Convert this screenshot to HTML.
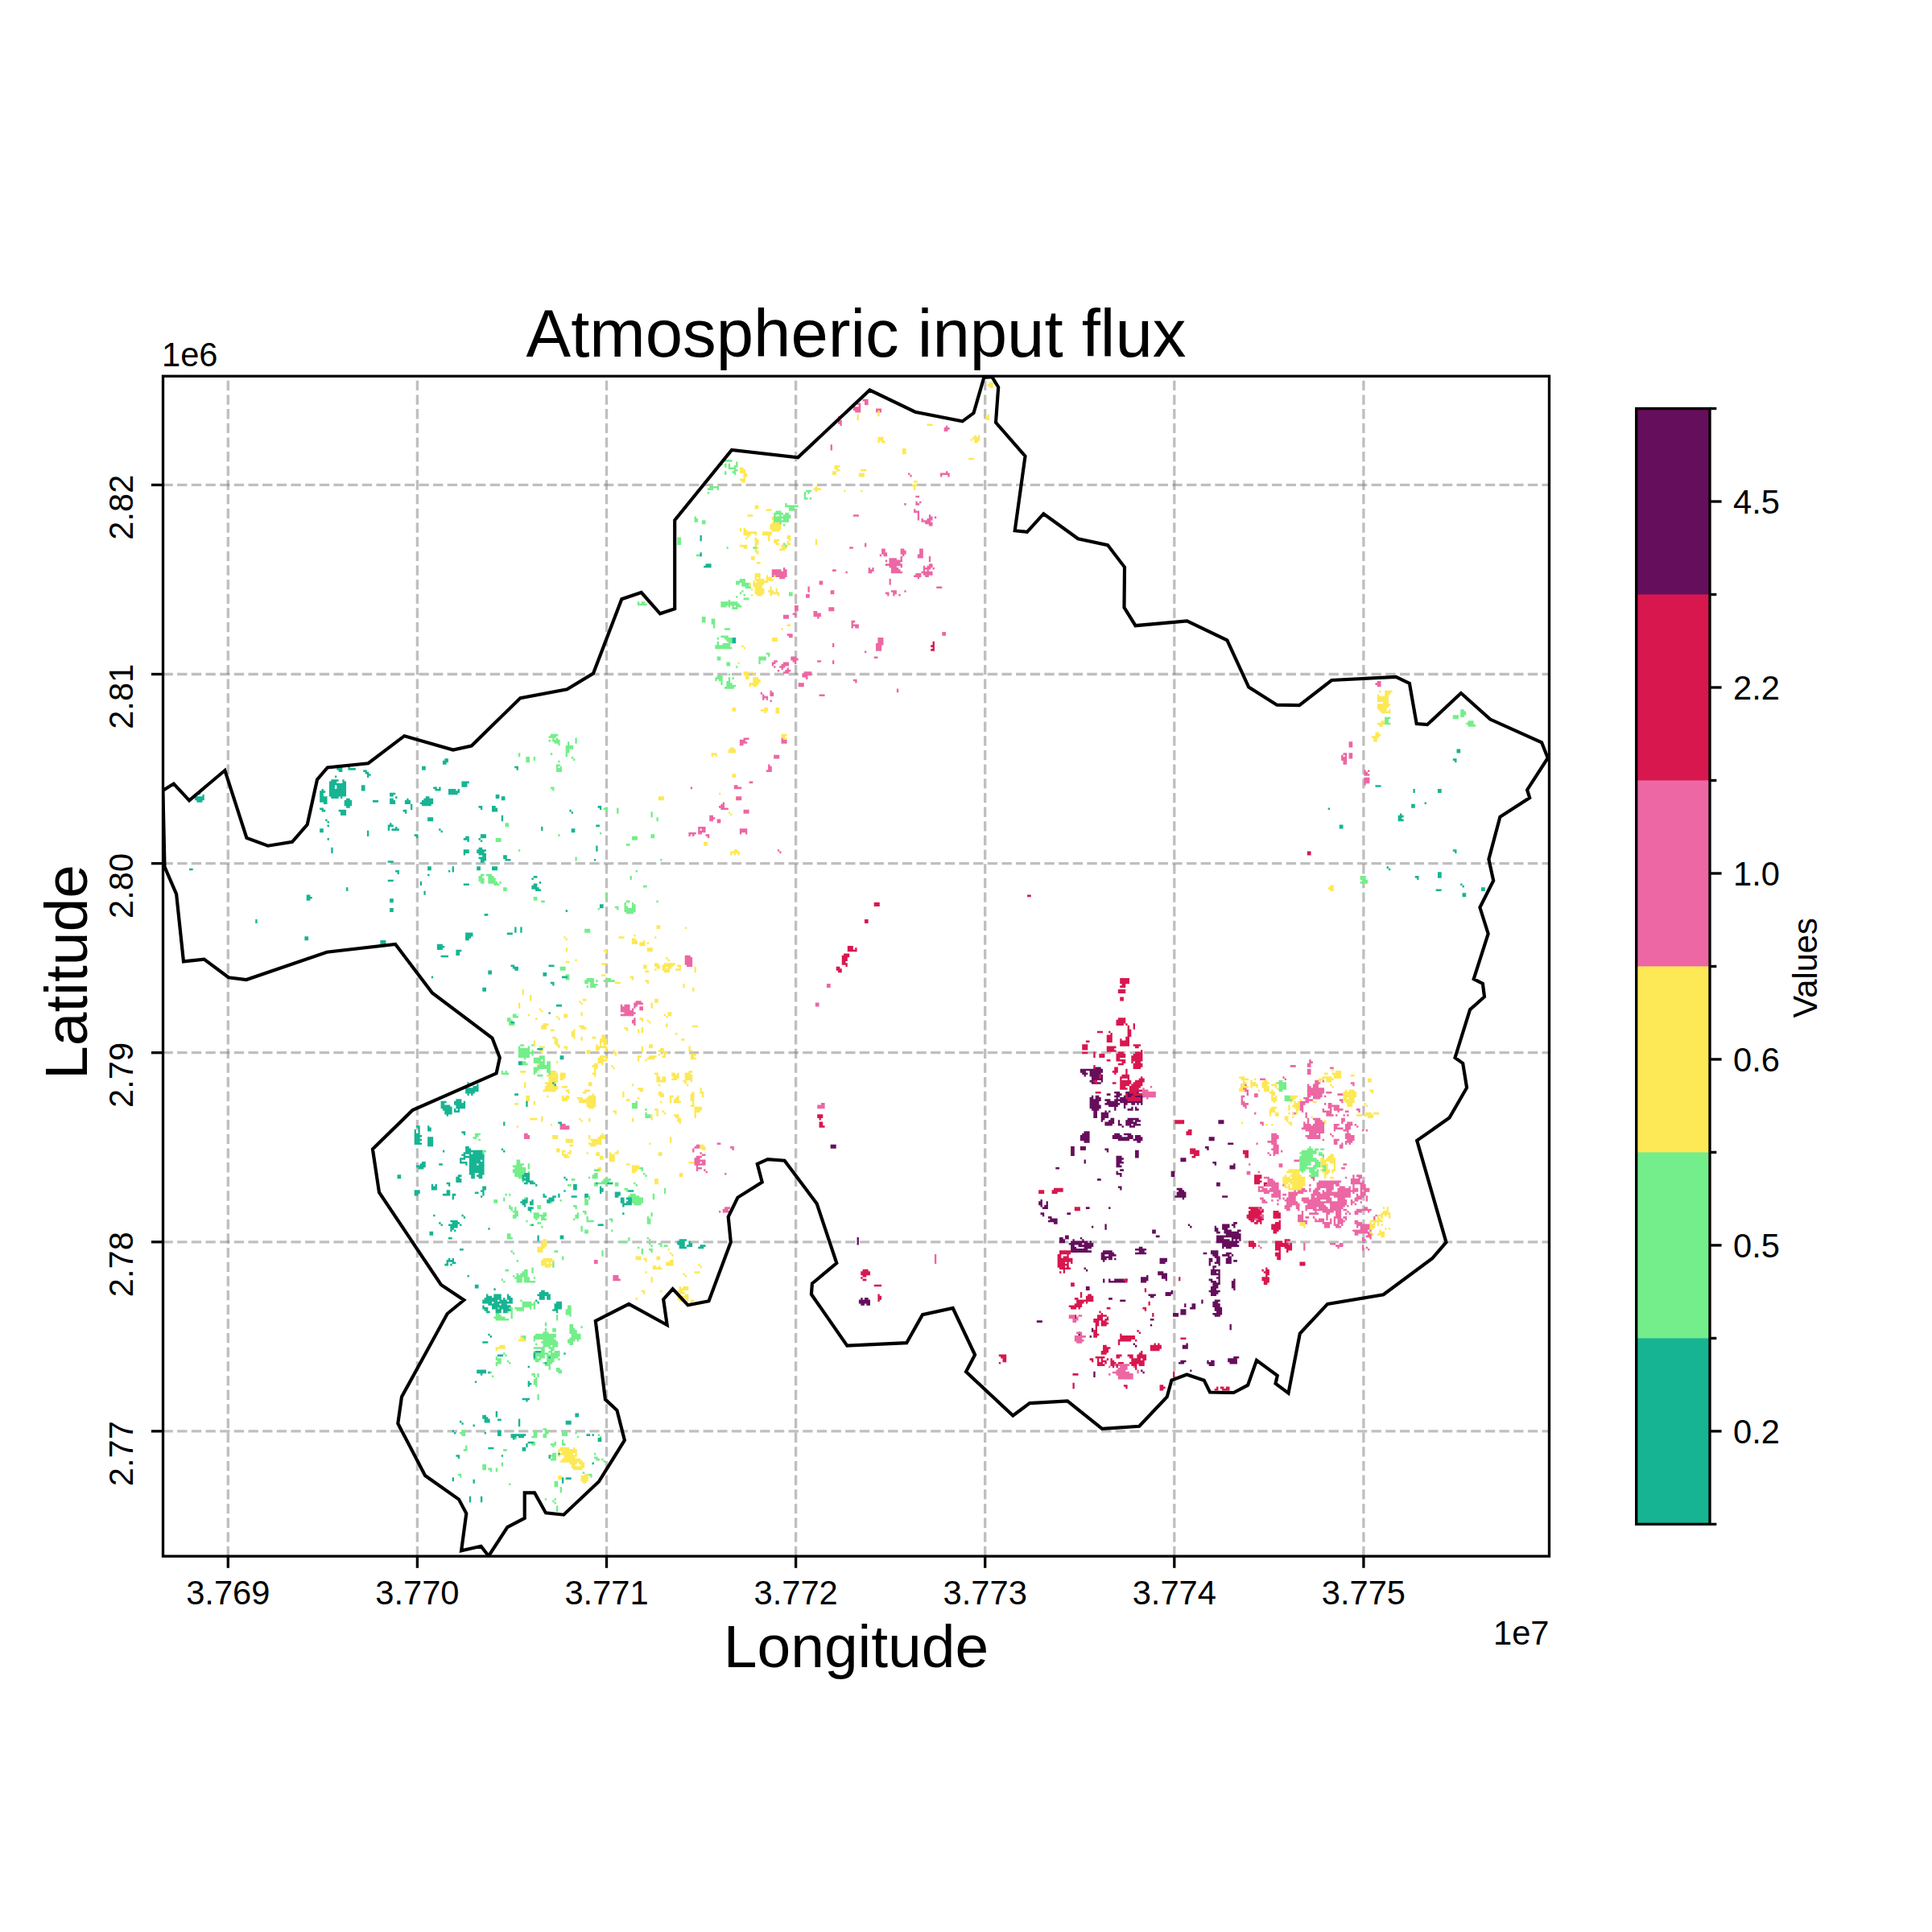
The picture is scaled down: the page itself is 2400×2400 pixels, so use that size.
<!DOCTYPE html><html><head><meta charset="utf-8"><style>html,body{margin:0;padding:0;background:#fff;width:2400px;height:2400px;overflow:hidden}svg{display:block}text{font-family:"Liberation Sans",sans-serif;fill:#000}</style></head><body>
<svg width="2400" height="2400" viewBox="0 0 2400 2400">
<rect width="2400" height="2400" fill="#fff"/>
<g stroke="#808080" stroke-opacity="0.5" stroke-width="3.33" stroke-dasharray="12.33 5.33" fill="none"><line x1="283.3" y1="1933.2" x2="283.3" y2="467.3"/><line x1="518.4" y1="1933.2" x2="518.4" y2="467.3"/><line x1="753.5" y1="1933.2" x2="753.5" y2="467.3"/><line x1="988.5999999999999" y1="1933.2" x2="988.5999999999999" y2="467.3"/><line x1="1223.7" y1="1933.2" x2="1223.7" y2="467.3"/><line x1="1458.8" y1="1933.2" x2="1458.8" y2="467.3"/><line x1="1693.8999999999999" y1="1933.2" x2="1693.8999999999999" y2="467.3"/><line x1="202.5" y1="602.4" x2="1924.5" y2="602.4"/><line x1="202.5" y1="837.5" x2="1924.5" y2="837.5"/><line x1="202.5" y1="1072.6" x2="1924.5" y2="1072.6"/><line x1="202.5" y1="1307.6999999999998" x2="1924.5" y2="1307.6999999999998"/><line x1="202.5" y1="1542.8" x2="1924.5" y2="1542.8"/><line x1="202.5" y1="1777.9" x2="1924.5" y2="1777.9"/></g>
<path fill="#650e5c" d="M1358.30 1325.40h9.40v2.6h-9.40zM1341.85 1327.75h28.20v2.6h-28.20zM1341.85 1330.10h7.05v2.6h-7.05zM1353.60 1330.10h16.45v2.6h-16.45zM1344.20 1332.45h7.05v2.6h-7.05zM1353.60 1332.45h14.10v2.6h-14.10zM1346.55 1334.80h2.35v2.6h-2.35zM1353.60 1334.80h16.45v2.6h-16.45zM1355.95 1337.15h14.10v2.6h-14.10zM1355.95 1339.50h14.10v2.6h-14.10zM1353.60 1341.85h9.40v2.6h-9.40zM1367.70 1341.85h2.35v2.6h-2.35zM1355.95 1344.20h11.75v2.6h-11.75zM1384.15 1355.95h7.05v2.6h-7.05zM1398.25 1355.95h16.45v2.6h-16.45zM1374.75 1358.30h4.70v2.6h-4.70zM1386.50 1358.30h7.05v2.6h-7.05zM1398.25 1358.30h21.15v2.6h-21.15zM1355.95 1360.65h2.35v2.6h-2.35zM1360.65 1360.65h4.70v2.6h-4.70zM1384.15 1360.65h7.05v2.6h-7.05zM1395.90 1360.65h25.85v2.6h-25.85zM1353.60 1363.00h4.70v2.6h-4.70zM1360.65 1363.00h7.05v2.6h-7.05zM1386.50 1363.00h2.35v2.6h-2.35zM1391.20 1363.00h18.80v2.6h-18.80zM1412.35 1363.00h7.05v2.6h-7.05zM1353.60 1365.35h14.10v2.6h-14.10zM1372.40 1365.35h7.05v2.6h-7.05zM1384.15 1365.35h35.25v2.6h-35.25zM1353.60 1367.70h11.75v2.6h-11.75zM1374.75 1367.70h14.10v2.6h-14.10zM1391.20 1367.70h28.20v2.6h-28.20zM1353.60 1370.05h11.75v2.6h-11.75zM1372.40 1370.05h18.80v2.6h-18.80zM1395.90 1370.05h4.70v2.6h-4.70zM1405.30 1370.05h4.70v2.6h-4.70zM1412.35 1370.05h2.35v2.6h-2.35zM1417.05 1370.05h2.35v2.6h-2.35zM1353.60 1372.40h14.10v2.6h-14.10zM1377.10 1372.40h11.75v2.6h-11.75zM1395.90 1372.40h2.35v2.6h-2.35zM1353.60 1374.75h14.10v2.6h-14.10zM1384.15 1374.75h2.35v2.6h-2.35zM1395.90 1374.75h2.35v2.6h-2.35zM1405.30 1374.75h2.35v2.6h-2.35zM1410.00 1374.75h2.35v2.6h-2.35zM1355.95 1377.10h9.40v2.6h-9.40zM1384.15 1377.10h2.35v2.6h-2.35zM1400.60 1377.10h7.05v2.6h-7.05zM1410.00 1377.10h4.70v2.6h-4.70zM1358.30 1379.45h4.70v2.6h-4.70zM1372.40 1379.45h2.35v2.6h-2.35zM1377.10 1379.45h2.35v2.6h-2.35zM1358.30 1381.80h4.70v2.6h-4.70zM1367.70 1381.80h9.40v2.6h-9.40zM1358.30 1384.15h4.70v2.6h-4.70zM1367.70 1384.15h9.40v2.6h-9.40zM1358.30 1386.50h4.70v2.6h-4.70zM1367.70 1386.50h9.40v2.6h-9.40zM1367.70 1388.85h4.70v2.6h-4.70zM1379.45 1388.85h4.70v2.6h-4.70zM1400.60 1388.85h14.10v2.6h-14.10zM1367.70 1391.20h2.35v2.6h-2.35zM1377.10 1391.20h7.05v2.6h-7.05zM1388.85 1391.20h2.35v2.6h-2.35zM1398.25 1391.20h9.40v2.6h-9.40zM1410.00 1391.20h7.05v2.6h-7.05zM1513.40 1391.20h7.05v2.6h-7.05zM1372.40 1393.55h11.75v2.6h-11.75zM1388.85 1393.55h2.35v2.6h-2.35zM1398.25 1393.55h14.10v2.6h-14.10zM1513.40 1393.55h7.05v2.6h-7.05zM1372.40 1395.90h9.40v2.6h-9.40zM1388.85 1395.90h4.70v2.6h-4.70zM1398.25 1395.90h7.05v2.6h-7.05zM1407.65 1395.90h9.40v2.6h-9.40zM1393.55 1398.25h2.35v2.6h-2.35zM1402.95 1398.25h7.05v2.6h-7.05zM1346.55 1405.30h7.05v2.6h-7.05zM1344.20 1407.65h9.40v2.6h-9.40zM1384.15 1407.65h7.05v2.6h-7.05zM1395.90 1407.65h9.40v2.6h-9.40zM1341.85 1410.00h11.75v2.6h-11.75zM1381.80 1410.00h11.75v2.6h-11.75zM1400.60 1410.00h7.05v2.6h-7.05zM1410.00 1410.00h7.05v2.6h-7.05zM1341.85 1412.35h11.75v2.6h-11.75zM1381.80 1412.35h25.85v2.6h-25.85zM1410.00 1412.35h9.40v2.6h-9.40zM1501.65 1412.35h7.05v2.6h-7.05zM1341.85 1414.70h11.75v2.6h-11.75zM1388.85 1414.70h14.10v2.6h-14.10zM1407.65 1414.70h11.75v2.6h-11.75zM1501.65 1414.70h7.05v2.6h-7.05zM1346.55 1417.05h7.05v2.6h-7.05zM1412.35 1417.05h4.70v2.6h-4.70zM1525.15 1419.40h7.05v2.6h-7.05zM1031.65 1421.75h7.05v2.6h-7.05zM1031.65 1424.10h7.05v2.6h-7.05zM1330.10 1424.10h4.70v2.6h-4.70zM1341.85 1424.10h7.05v2.6h-7.05zM1496.95 1424.10h4.70v2.6h-4.70zM1330.10 1426.45h4.70v2.6h-4.70zM1341.85 1426.45h7.05v2.6h-7.05zM1372.40 1426.45h4.70v2.6h-4.70zM1499.30 1426.45h2.35v2.6h-2.35zM1330.10 1428.80h4.70v2.6h-4.70zM1374.75 1428.80h2.35v2.6h-2.35zM1410.00 1428.80h4.70v2.6h-4.70zM1330.10 1431.15h4.70v2.6h-4.70zM1410.00 1431.15h4.70v2.6h-4.70zM1330.10 1433.50h4.70v2.6h-4.70zM1410.00 1433.50h4.70v2.6h-4.70zM1386.50 1435.85h7.05v2.6h-7.05zM1410.00 1435.85h4.70v2.6h-4.70zM1386.50 1438.20h9.40v2.6h-9.40zM1466.40 1438.20h7.05v2.6h-7.05zM1346.55 1440.55h2.35v2.6h-2.35zM1386.50 1440.55h7.05v2.6h-7.05zM1466.40 1440.55h7.05v2.6h-7.05zM1346.55 1442.90h2.35v2.6h-2.35zM1386.50 1442.90h9.40v2.6h-9.40zM1506.35 1442.90h4.70v2.6h-4.70zM1386.50 1445.25h4.70v2.6h-4.70zM1508.70 1445.25h2.35v2.6h-2.35zM1532.20 1445.25h2.35v2.6h-2.35zM1386.50 1447.60h7.05v2.6h-7.05zM1527.50 1447.60h7.05v2.6h-7.05zM1311.30 1449.95h4.70v2.6h-4.70zM1527.50 1449.95h7.05v2.6h-7.05zM1391.20 1452.30h4.70v2.6h-4.70zM1386.50 1454.65h2.35v2.6h-2.35zM1454.65 1454.65h4.70v2.6h-4.70zM1386.50 1457.00h7.05v2.6h-7.05zM1454.65 1457.00h4.70v2.6h-4.70zM1391.20 1459.35h2.35v2.6h-2.35zM1454.65 1459.35h4.70v2.6h-4.70zM1363.00 1464.05h4.70v2.6h-4.70zM1511.05 1468.75h4.70v2.6h-4.70zM1511.05 1471.10h4.70v2.6h-4.70zM1388.85 1473.45h4.70v2.6h-4.70zM1391.20 1475.80h2.35v2.6h-2.35zM1461.70 1475.80h7.05v2.6h-7.05zM1464.05 1478.15h7.05v2.6h-7.05zM1461.70 1480.50h11.75v2.6h-11.75zM1461.70 1482.85h11.75v2.6h-11.75zM1459.35 1485.20h14.10v2.6h-14.10zM1518.10 1485.20h7.05v2.6h-7.05zM1468.75 1487.55h2.35v2.6h-2.35zM1292.50 1489.90h2.35v2.6h-2.35zM1290.15 1492.25h4.70v2.6h-4.70zM1299.55 1492.25h2.35v2.6h-2.35zM1290.15 1494.60h4.70v2.6h-4.70zM1299.55 1494.60h2.35v2.6h-2.35zM1292.50 1496.95h2.35v2.6h-2.35zM1297.20 1496.95h4.70v2.6h-4.70zM1294.85 1499.30h7.05v2.6h-7.05zM1348.90 1499.30h4.70v2.6h-4.70zM1377.10 1499.30h2.35v2.6h-2.35zM1292.50 1506.35h4.70v2.6h-4.70zM1325.40 1506.35h4.70v2.6h-4.70zM1294.85 1508.70h2.35v2.6h-2.35zM1301.90 1511.05h4.70v2.6h-4.70zM1304.25 1513.40h9.40v2.6h-9.40zM1301.90 1515.75h11.75v2.6h-11.75zM1308.95 1518.10h4.70v2.6h-4.70zM1532.20 1518.10h4.70v2.6h-4.70zM1372.40 1520.45h2.35v2.6h-2.35zM1475.80 1520.45h2.35v2.6h-2.35zM1518.10 1520.45h9.40v2.6h-9.40zM1529.85 1520.45h4.70v2.6h-4.70zM1355.95 1522.80h2.35v2.6h-2.35zM1372.40 1522.80h2.35v2.6h-2.35zM1478.15 1522.80h2.35v2.6h-2.35zM1508.70 1522.80h2.35v2.6h-2.35zM1518.10 1522.80h9.40v2.6h-9.40zM1532.20 1522.80h2.35v2.6h-2.35zM1372.40 1525.15h2.35v2.6h-2.35zM1508.70 1525.15h4.70v2.6h-4.70zM1518.10 1525.15h7.05v2.6h-7.05zM1431.15 1527.50h4.70v2.6h-4.70zM1508.70 1527.50h4.70v2.6h-4.70zM1520.45 1527.50h9.40v2.6h-9.40zM1536.90 1527.50h4.70v2.6h-4.70zM1431.15 1529.85h4.70v2.6h-4.70zM1511.05 1529.85h4.70v2.6h-4.70zM1520.45 1529.85h18.80v2.6h-18.80zM1522.80 1532.20h18.80v2.6h-18.80zM1323.05 1534.55h4.70v2.6h-4.70zM1435.85 1534.55h4.70v2.6h-4.70zM1511.05 1534.55h30.55v2.6h-30.55zM1064.55 1536.90h2.35v2.6h-2.35zM1316.00 1536.90h4.70v2.6h-4.70zM1323.05 1536.90h4.70v2.6h-4.70zM1341.85 1536.90h2.35v2.6h-2.35zM1511.05 1536.90h9.40v2.6h-9.40zM1529.85 1536.90h11.75v2.6h-11.75zM1064.55 1539.25h2.35v2.6h-2.35zM1316.00 1539.25h7.05v2.6h-7.05zM1332.45 1539.25h2.35v2.6h-2.35zM1344.20 1539.25h2.35v2.6h-2.35zM1511.05 1539.25h16.45v2.6h-16.45zM1529.85 1539.25h2.35v2.6h-2.35zM1534.55 1539.25h2.35v2.6h-2.35zM1539.25 1539.25h2.35v2.6h-2.35zM1064.55 1541.60h2.35v2.6h-2.35zM1316.00 1541.60h7.05v2.6h-7.05zM1330.10 1541.60h21.15v2.6h-21.15zM1353.60 1541.60h2.35v2.6h-2.35zM1511.05 1541.60h28.20v2.6h-28.20zM1064.55 1543.95h2.35v2.6h-2.35zM1327.75 1543.95h16.45v2.6h-16.45zM1346.55 1543.95h11.75v2.6h-11.75zM1518.10 1543.95h18.80v2.6h-18.80zM1330.10 1546.30h4.70v2.6h-4.70zM1339.50 1546.30h18.80v2.6h-18.80zM1518.10 1546.30h21.15v2.6h-21.15zM1330.10 1548.65h7.05v2.6h-7.05zM1346.55 1548.65h9.40v2.6h-9.40zM1414.70 1548.65h4.70v2.6h-4.70zM1518.10 1548.65h2.35v2.6h-2.35zM1522.80 1548.65h7.05v2.6h-7.05zM1330.10 1551.00h21.15v2.6h-21.15zM1410.00 1551.00h14.10v2.6h-14.10zM1330.10 1553.35h25.85v2.6h-25.85zM1370.05 1553.35h11.75v2.6h-11.75zM1414.70 1553.35h7.05v2.6h-7.05zM1504.00 1553.35h9.40v2.6h-9.40zM1367.70 1555.70h16.45v2.6h-16.45zM1410.00 1555.70h14.10v2.6h-14.10zM1494.60 1555.70h4.70v2.6h-4.70zM1504.00 1555.70h9.40v2.6h-9.40zM1522.80 1555.70h7.05v2.6h-7.05zM1367.70 1558.05h4.70v2.6h-4.70zM1377.10 1558.05h9.40v2.6h-9.40zM1506.35 1558.05h7.05v2.6h-7.05zM1518.10 1558.05h9.40v2.6h-9.40zM1529.85 1558.05h2.35v2.6h-2.35zM1367.70 1560.40h14.10v2.6h-14.10zM1508.70 1560.40h7.05v2.6h-7.05zM1525.15 1560.40h4.70v2.6h-4.70zM1367.70 1562.75h7.05v2.6h-7.05zM1377.10 1562.75h4.70v2.6h-4.70zM1384.15 1562.75h2.35v2.6h-2.35zM1440.55 1562.75h9.40v2.6h-9.40zM1501.65 1562.75h4.70v2.6h-4.70zM1511.05 1562.75h4.70v2.6h-4.70zM1522.80 1562.75h7.05v2.6h-7.05zM1370.05 1565.10h2.35v2.6h-2.35zM1440.55 1565.10h9.40v2.6h-9.40zM1501.65 1565.10h4.70v2.6h-4.70zM1511.05 1565.10h4.70v2.6h-4.70zM1522.80 1565.10h7.05v2.6h-7.05zM1532.20 1565.10h4.70v2.6h-4.70zM1440.55 1567.45h7.05v2.6h-7.05zM1501.65 1567.45h2.35v2.6h-2.35zM1508.70 1567.45h7.05v2.6h-7.05zM1522.80 1567.45h7.05v2.6h-7.05zM1501.65 1569.80h2.35v2.6h-2.35zM1513.40 1569.80h2.35v2.6h-2.35zM1325.40 1572.15h2.35v2.6h-2.35zM1506.35 1572.15h4.70v2.6h-4.70zM1325.40 1574.50h2.35v2.6h-2.35zM1346.55 1574.50h2.35v2.6h-2.35zM1506.35 1574.50h2.35v2.6h-2.35zM1348.90 1576.85h2.35v2.6h-2.35zM1504.00 1576.85h11.75v2.6h-11.75zM1438.20 1579.20h7.05v2.6h-7.05zM1504.00 1579.20h7.05v2.6h-7.05zM1513.40 1579.20h2.35v2.6h-2.35zM1438.20 1581.55h11.75v2.6h-11.75zM1504.00 1581.55h11.75v2.6h-11.75zM1424.10 1583.90h2.35v2.6h-2.35zM1442.90 1583.90h7.05v2.6h-7.05zM1513.40 1583.90h2.35v2.6h-2.35zM1417.05 1586.25h9.40v2.6h-9.40zM1442.90 1586.25h7.05v2.6h-7.05zM1511.05 1586.25h4.70v2.6h-4.70zM1370.05 1588.60h2.35v2.6h-2.35zM1377.10 1588.60h2.35v2.6h-2.35zM1384.15 1588.60h11.75v2.6h-11.75zM1398.25 1588.60h2.35v2.6h-2.35zM1417.05 1588.60h9.40v2.6h-9.40zM1447.60 1588.60h2.35v2.6h-2.35zM1501.65 1588.60h4.70v2.6h-4.70zM1513.40 1588.60h2.35v2.6h-2.35zM1532.20 1588.60h2.35v2.6h-2.35zM1370.05 1590.95h2.35v2.6h-2.35zM1377.10 1590.95h21.15v2.6h-21.15zM1417.05 1590.95h7.05v2.6h-7.05zM1504.00 1590.95h7.05v2.6h-7.05zM1513.40 1590.95h2.35v2.6h-2.35zM1529.85 1590.95h4.70v2.6h-4.70zM1506.35 1593.30h9.40v2.6h-9.40zM1529.85 1593.30h4.70v2.6h-4.70zM1506.35 1595.65h7.05v2.6h-7.05zM1529.85 1595.65h4.70v2.6h-4.70zM1348.90 1598.00h4.70v2.6h-4.70zM1504.00 1598.00h9.40v2.6h-9.40zM1529.85 1598.00h4.70v2.6h-4.70zM1348.90 1600.35h4.70v2.6h-4.70zM1504.00 1600.35h7.05v2.6h-7.05zM1532.20 1600.35h2.35v2.6h-2.35zM1454.65 1602.70h2.35v2.6h-2.35zM1501.65 1602.70h14.10v2.6h-14.10zM1447.60 1605.05h9.40v2.6h-9.40zM1504.00 1605.05h9.40v2.6h-9.40zM1426.45 1607.40h9.40v2.6h-9.40zM1447.60 1607.40h7.05v2.6h-7.05zM1504.00 1607.40h7.05v2.6h-7.05zM1428.80 1609.75h4.70v2.6h-4.70zM1069.25 1612.10h2.35v2.6h-2.35zM1073.95 1612.10h4.70v2.6h-4.70zM1377.10 1612.10h4.70v2.6h-4.70zM1066.90 1614.45h14.10v2.6h-14.10zM1391.20 1614.45h7.05v2.6h-7.05zM1492.25 1614.45h2.35v2.6h-2.35zM1508.70 1614.45h7.05v2.6h-7.05zM1066.90 1616.80h14.10v2.6h-14.10zM1492.25 1616.80h2.35v2.6h-2.35zM1506.35 1616.80h7.05v2.6h-7.05zM1069.25 1619.15h4.70v2.6h-4.70zM1076.30 1619.15h4.70v2.6h-4.70zM1471.10 1619.15h2.35v2.6h-2.35zM1480.50 1619.15h4.70v2.6h-4.70zM1506.35 1619.15h9.40v2.6h-9.40zM1471.10 1621.50h2.35v2.6h-2.35zM1480.50 1621.50h4.70v2.6h-4.70zM1506.35 1621.50h9.40v2.6h-9.40zM1478.15 1623.85h7.05v2.6h-7.05zM1508.70 1623.85h9.40v2.6h-9.40zM1466.40 1626.20h7.05v2.6h-7.05zM1508.70 1626.20h9.40v2.6h-9.40zM1466.40 1628.55h7.05v2.6h-7.05zM1511.05 1628.55h7.05v2.6h-7.05zM1457.00 1630.90h7.05v2.6h-7.05zM1466.40 1630.90h7.05v2.6h-7.05zM1506.35 1630.90h11.75v2.6h-11.75zM1457.00 1633.25h7.05v2.6h-7.05zM1508.70 1633.25h7.05v2.6h-7.05zM1428.80 1637.95h4.70v2.6h-4.70zM1287.80 1640.30h7.05v2.6h-7.05zM1428.80 1645.00h2.35v2.6h-2.35zM1527.50 1645.00h2.35v2.6h-2.35zM1527.50 1647.35h2.35v2.6h-2.35zM1355.95 1649.70h2.35v2.6h-2.35zM1527.50 1649.70h2.35v2.6h-2.35zM1355.95 1652.05h2.35v2.6h-2.35zM1339.50 1654.40h2.35v2.6h-2.35zM1339.50 1656.75h2.35v2.6h-2.35zM1353.60 1659.10h2.35v2.6h-2.35zM1407.65 1668.50h2.35v2.6h-2.35zM1473.45 1668.50h2.35v2.6h-2.35zM1410.00 1670.85h2.35v2.6h-2.35zM1468.75 1670.85h7.05v2.6h-7.05zM1468.75 1673.20h7.05v2.6h-7.05zM1532.20 1684.95h7.05v2.6h-7.05zM1525.15 1687.30h11.75v2.6h-11.75zM1466.40 1689.65h7.05v2.6h-7.05zM1499.30 1689.65h2.35v2.6h-2.35zM1504.00 1689.65h4.70v2.6h-4.70zM1525.15 1689.65h11.75v2.6h-11.75zM1464.05 1692.00h7.05v2.6h-7.05zM1499.30 1692.00h9.40v2.6h-9.40zM1527.50 1692.00h9.40v2.6h-9.40zM1501.65 1694.35h7.05v2.6h-7.05zM1388.85 1699.05h7.05v2.6h-7.05zM1417.05 1701.40h2.35v2.6h-2.35zM1478.15 1701.40h2.35v2.6h-2.35zM1358.30 1703.75h2.35v2.6h-2.35zM1419.40 1703.75h2.35v2.6h-2.35zM1358.30 1706.10h2.35v2.6h-2.35zM1358.30 1708.45h2.35v2.6h-2.35z"/>
<path fill="#d8174f" d="M1158.55 796.65h2.35v2.6h-2.35zM1158.55 799.00h2.35v2.6h-2.35zM1156.20 801.35h4.70v2.6h-4.70zM1158.55 803.70h2.35v2.6h-2.35zM1156.20 806.05h4.70v2.6h-4.70zM1623.85 1057.50h4.70v2.6h-4.70zM1623.85 1059.85h4.70v2.6h-4.70zM1276.05 1111.55h4.70v2.6h-4.70zM1085.70 1120.95h7.05v2.6h-7.05zM1085.70 1123.30h7.05v2.6h-7.05zM1073.95 1142.10h4.70v2.6h-4.70zM1073.95 1144.45h4.70v2.6h-4.70zM1052.80 1175.00h7.05v2.6h-7.05zM1052.80 1177.35h7.05v2.6h-7.05zM1062.20 1177.35h2.35v2.6h-2.35zM1052.80 1179.70h11.75v2.6h-11.75zM1048.10 1184.40h7.05v2.6h-7.05zM1045.75 1186.75h9.40v2.6h-9.40zM1045.75 1189.10h7.05v2.6h-7.05zM1045.75 1191.45h7.05v2.6h-7.05zM1045.75 1193.80h4.70v2.6h-4.70zM1045.75 1196.15h7.05v2.6h-7.05zM1050.45 1198.50h2.35v2.6h-2.35zM1038.70 1200.85h4.70v2.6h-4.70zM1038.70 1203.20h7.05v2.6h-7.05zM1041.05 1205.55h4.70v2.6h-4.70zM1391.20 1214.95h11.75v2.6h-11.75zM1391.20 1217.30h11.75v2.6h-11.75zM1391.20 1219.65h11.75v2.6h-11.75zM1393.55 1222.00h4.70v2.6h-4.70zM1391.20 1224.35h7.05v2.6h-7.05zM1388.85 1229.05h9.40v2.6h-9.40zM1388.85 1231.40h9.40v2.6h-9.40zM1391.20 1238.45h4.70v2.6h-4.70zM1391.20 1240.80h4.70v2.6h-4.70zM1388.85 1264.30h9.40v2.6h-9.40zM1386.50 1266.65h11.75v2.6h-11.75zM1386.50 1269.00h11.75v2.6h-11.75zM1386.50 1271.35h9.40v2.6h-9.40zM1398.25 1271.35h2.35v2.6h-2.35zM1407.65 1271.35h2.35v2.6h-2.35zM1400.60 1273.70h2.35v2.6h-2.35zM1407.65 1273.70h2.35v2.6h-2.35zM1400.60 1276.05h2.35v2.6h-2.35zM1407.65 1276.05h2.35v2.6h-2.35zM1400.60 1278.40h4.70v2.6h-4.70zM1363.00 1280.75h7.05v2.6h-7.05zM1377.10 1280.75h2.35v2.6h-2.35zM1400.60 1280.75h4.70v2.6h-4.70zM1379.45 1283.10h2.35v2.6h-2.35zM1400.60 1283.10h4.70v2.6h-4.70zM1374.75 1285.45h7.05v2.6h-7.05zM1400.60 1285.45h4.70v2.6h-4.70zM1374.75 1287.80h7.05v2.6h-7.05zM1398.25 1287.80h4.70v2.6h-4.70zM1374.75 1290.15h7.05v2.6h-7.05zM1391.20 1290.15h2.35v2.6h-2.35zM1398.25 1290.15h4.70v2.6h-4.70zM1348.90 1292.50h4.70v2.6h-4.70zM1374.75 1292.50h7.05v2.6h-7.05zM1391.20 1292.50h11.75v2.6h-11.75zM1391.20 1294.85h11.75v2.6h-11.75zM1344.20 1297.20h7.05v2.6h-7.05zM1391.20 1297.20h11.75v2.6h-11.75zM1407.65 1297.20h9.40v2.6h-9.40zM1344.20 1299.55h7.05v2.6h-7.05zM1374.75 1299.55h11.75v2.6h-11.75zM1410.00 1299.55h4.70v2.6h-4.70zM1344.20 1301.90h7.05v2.6h-7.05zM1374.75 1301.90h9.40v2.6h-9.40zM1374.75 1304.25h11.75v2.6h-11.75zM1417.05 1304.25h2.35v2.6h-2.35zM1344.20 1306.60h7.05v2.6h-7.05zM1358.30 1306.60h2.35v2.6h-2.35zM1388.85 1306.60h7.05v2.6h-7.05zM1410.00 1306.60h9.40v2.6h-9.40zM1358.30 1308.95h2.35v2.6h-2.35zM1365.35 1308.95h7.05v2.6h-7.05zM1386.50 1308.95h11.75v2.6h-11.75zM1407.65 1308.95h11.75v2.6h-11.75zM1358.30 1311.30h2.35v2.6h-2.35zM1365.35 1311.30h7.05v2.6h-7.05zM1386.50 1311.30h11.75v2.6h-11.75zM1405.30 1311.30h14.10v2.6h-14.10zM1386.50 1313.65h4.70v2.6h-4.70zM1405.30 1313.65h14.10v2.6h-14.10zM1374.75 1316.00h4.70v2.6h-4.70zM1386.50 1316.00h11.75v2.6h-11.75zM1405.30 1316.00h14.10v2.6h-14.10zM1393.55 1318.35h4.70v2.6h-4.70zM1405.30 1318.35h2.35v2.6h-2.35zM1410.00 1318.35h7.05v2.6h-7.05zM1388.85 1320.70h7.05v2.6h-7.05zM1407.65 1320.70h11.75v2.6h-11.75zM1358.30 1323.05h2.35v2.6h-2.35zM1407.65 1323.05h11.75v2.6h-11.75zM1358.30 1325.40h2.35v2.6h-2.35zM1384.15 1325.40h4.70v2.6h-4.70zM1407.65 1325.40h9.40v2.6h-9.40zM1384.15 1327.75h4.70v2.6h-4.70zM1398.25 1327.75h2.35v2.6h-2.35zM1381.80 1330.10h7.05v2.6h-7.05zM1398.25 1330.10h2.35v2.6h-2.35zM1384.15 1332.45h2.35v2.6h-2.35zM1398.25 1332.45h2.35v2.6h-2.35zM1365.35 1334.80h2.35v2.6h-2.35zM1393.55 1334.80h9.40v2.6h-9.40zM1365.35 1337.15h2.35v2.6h-2.35zM1391.20 1337.15h11.75v2.6h-11.75zM1417.05 1337.15h2.35v2.6h-2.35zM1391.20 1339.50h2.35v2.6h-2.35zM1400.60 1339.50h2.35v2.6h-2.35zM1414.70 1339.50h7.05v2.6h-7.05zM1358.30 1341.85h4.70v2.6h-4.70zM1391.20 1341.85h14.10v2.6h-14.10zM1410.00 1341.85h11.75v2.6h-11.75zM1360.65 1344.20h2.35v2.6h-2.35zM1381.80 1344.20h4.70v2.6h-4.70zM1391.20 1344.20h14.10v2.6h-14.10zM1407.65 1344.20h11.75v2.6h-11.75zM1391.20 1346.55h11.75v2.6h-11.75zM1405.30 1346.55h14.10v2.6h-14.10zM1391.20 1348.90h7.05v2.6h-7.05zM1402.95 1348.90h14.10v2.6h-14.10zM1391.20 1351.25h9.40v2.6h-9.40zM1402.95 1351.25h11.75v2.6h-11.75zM1402.95 1353.60h16.45v2.6h-16.45zM1360.65 1355.95h7.05v2.6h-7.05zM1402.95 1355.95h9.40v2.6h-9.40zM1419.40 1355.95h2.35v2.6h-2.35zM1398.25 1358.30h2.35v2.6h-2.35zM1407.65 1358.30h11.75v2.6h-11.75zM1398.25 1360.65h2.35v2.6h-2.35zM1405.30 1360.65h4.70v2.6h-4.70zM1398.25 1363.00h18.80v2.6h-18.80zM1400.60 1365.35h16.45v2.6h-16.45zM1015.20 1384.15h7.05v2.6h-7.05zM1015.20 1386.50h7.05v2.6h-7.05zM1017.55 1388.85h2.35v2.6h-2.35zM1459.35 1391.20h11.75v2.6h-11.75zM1017.55 1393.55h4.70v2.6h-4.70zM1459.35 1393.55h11.75v2.6h-11.75zM1017.55 1395.90h4.70v2.6h-4.70zM1017.55 1398.25h7.05v2.6h-7.05zM1475.80 1402.95h4.70v2.6h-4.70zM1473.45 1405.30h7.05v2.6h-7.05zM1473.45 1407.65h7.05v2.6h-7.05zM1478.15 1426.45h7.05v2.6h-7.05zM1478.15 1428.80h11.75v2.6h-11.75zM1543.95 1428.80h7.05v2.6h-7.05zM1478.15 1431.15h11.75v2.6h-11.75zM1543.95 1431.15h7.05v2.6h-7.05zM1482.85 1433.50h7.05v2.6h-7.05zM1546.30 1433.50h4.70v2.6h-4.70zM1480.50 1435.85h4.70v2.6h-4.70zM1546.30 1435.85h4.70v2.6h-4.70zM1558.05 1459.35h9.40v2.6h-9.40zM1558.05 1461.70h9.40v2.6h-9.40zM1558.05 1464.05h7.05v2.6h-7.05zM1558.05 1466.40h9.40v2.6h-9.40zM1558.05 1468.75h7.05v2.6h-7.05zM1569.80 1468.75h4.70v2.6h-4.70zM1576.85 1468.75h2.35v2.6h-2.35zM1569.80 1471.10h9.40v2.6h-9.40zM1308.95 1475.80h11.75v2.6h-11.75zM1290.15 1478.15h7.05v2.6h-7.05zM1306.60 1478.15h14.10v2.6h-14.10zM1290.15 1480.50h7.05v2.6h-7.05zM1306.60 1480.50h7.05v2.6h-7.05zM1334.80 1499.30h7.05v2.6h-7.05zM1551.00 1499.30h16.45v2.6h-16.45zM1334.80 1501.65h7.05v2.6h-7.05zM1553.35 1501.65h11.75v2.6h-11.75zM1567.45 1501.65h2.35v2.6h-2.35zM1551.00 1504.00h18.80v2.6h-18.80zM1581.55 1504.00h7.05v2.6h-7.05zM1551.00 1506.35h16.45v2.6h-16.45zM1581.55 1506.35h9.40v2.6h-9.40zM1548.65 1508.70h21.15v2.6h-21.15zM1581.55 1508.70h9.40v2.6h-9.40zM1548.65 1511.05h21.15v2.6h-21.15zM1581.55 1511.05h9.40v2.6h-9.40zM1551.00 1513.40h18.80v2.6h-18.80zM1553.35 1515.75h4.70v2.6h-4.70zM1560.40 1515.75h7.05v2.6h-7.05zM1588.60 1515.75h2.35v2.6h-2.35zM1558.05 1518.10h4.70v2.6h-4.70zM1565.10 1518.10h2.35v2.6h-2.35zM1583.90 1518.10h7.05v2.6h-7.05zM1579.20 1520.45h11.75v2.6h-11.75zM1579.20 1522.80h11.75v2.6h-11.75zM1579.20 1525.15h11.75v2.6h-11.75zM1581.55 1527.50h7.05v2.6h-7.05zM1581.55 1529.85h4.70v2.6h-4.70zM1595.65 1539.25h7.05v2.6h-7.05zM1551.00 1541.60h7.05v2.6h-7.05zM1583.90 1541.60h9.40v2.6h-9.40zM1595.65 1541.60h2.35v2.6h-2.35zM1551.00 1543.95h9.40v2.6h-9.40zM1583.90 1543.95h21.15v2.6h-21.15zM1551.00 1546.30h9.40v2.6h-9.40zM1583.90 1546.30h21.15v2.6h-21.15zM1555.70 1548.65h2.35v2.6h-2.35zM1583.90 1548.65h7.05v2.6h-7.05zM1595.65 1548.65h9.40v2.6h-9.40zM1583.90 1551.00h7.05v2.6h-7.05zM1598.00 1551.00h7.05v2.6h-7.05zM1316.00 1553.35h14.10v2.6h-14.10zM1588.60 1553.35h2.35v2.6h-2.35zM1598.00 1553.35h2.35v2.6h-2.35zM1316.00 1555.70h14.10v2.6h-14.10zM1583.90 1555.70h7.05v2.6h-7.05zM1313.65 1558.05h4.70v2.6h-4.70zM1325.40 1558.05h2.35v2.6h-2.35zM1583.90 1558.05h7.05v2.6h-7.05zM1313.65 1560.40h4.70v2.6h-4.70zM1320.70 1560.40h7.05v2.6h-7.05zM1586.25 1560.40h4.70v2.6h-4.70zM1313.65 1562.75h18.80v2.6h-18.80zM1586.25 1562.75h4.70v2.6h-4.70zM1313.65 1565.10h18.80v2.6h-18.80zM1313.65 1567.45h9.40v2.6h-9.40zM1325.40 1567.45h2.35v2.6h-2.35zM1330.10 1567.45h2.35v2.6h-2.35zM1614.45 1567.45h7.05v2.6h-7.05zM1313.65 1569.80h14.10v2.6h-14.10zM1614.45 1569.80h7.05v2.6h-7.05zM1313.65 1572.15h9.40v2.6h-9.40zM1325.40 1572.15h2.35v2.6h-2.35zM1316.00 1574.50h14.10v2.6h-14.10zM1572.15 1574.50h2.35v2.6h-2.35zM1071.60 1576.85h7.05v2.6h-7.05zM1320.70 1576.85h2.35v2.6h-2.35zM1567.45 1576.85h2.35v2.6h-2.35zM1572.15 1576.85h4.70v2.6h-4.70zM1069.25 1579.20h11.75v2.6h-11.75zM1316.00 1579.20h2.35v2.6h-2.35zM1320.70 1579.20h2.35v2.6h-2.35zM1569.80 1579.20h7.05v2.6h-7.05zM1069.25 1581.55h11.75v2.6h-11.75zM1572.15 1581.55h4.70v2.6h-4.70zM1071.60 1583.90h4.70v2.6h-4.70zM1572.15 1583.90h2.35v2.6h-2.35zM1069.25 1586.25h2.35v2.6h-2.35zM1464.05 1586.25h2.35v2.6h-2.35zM1567.45 1586.25h9.40v2.6h-9.40zM1071.60 1588.60h4.70v2.6h-4.70zM1395.90 1588.60h4.70v2.6h-4.70zM1464.05 1588.60h2.35v2.6h-2.35zM1567.45 1588.60h9.40v2.6h-9.40zM1398.25 1590.95h2.35v2.6h-2.35zM1569.80 1590.95h7.05v2.6h-7.05zM1330.10 1593.30h4.70v2.6h-4.70zM1569.80 1593.30h4.70v2.6h-4.70zM1085.70 1595.65h9.40v2.6h-9.40zM1330.10 1595.65h4.70v2.6h-4.70zM1421.75 1600.35h2.35v2.6h-2.35zM1421.75 1602.70h2.35v2.6h-2.35zM1341.85 1605.05h2.35v2.6h-2.35zM1090.40 1607.40h2.35v2.6h-2.35zM1341.85 1607.40h2.35v2.6h-2.35zM1351.25 1607.40h4.70v2.6h-4.70zM1090.40 1609.75h4.70v2.6h-4.70zM1341.85 1609.75h2.35v2.6h-2.35zM1348.90 1609.75h9.40v2.6h-9.40zM1090.40 1612.10h4.70v2.6h-4.70zM1334.80 1612.10h4.70v2.6h-4.70zM1348.90 1612.10h9.40v2.6h-9.40zM1090.40 1614.45h2.35v2.6h-2.35zM1337.15 1614.45h21.15v2.6h-21.15zM1337.15 1616.80h9.40v2.6h-9.40zM1348.90 1616.80h2.35v2.6h-2.35zM1426.45 1616.80h2.35v2.6h-2.35zM1334.80 1619.15h9.40v2.6h-9.40zM1426.45 1619.15h2.35v2.6h-2.35zM1327.75 1621.50h16.45v2.6h-16.45zM1330.10 1623.85h7.05v2.6h-7.05zM1339.50 1623.85h2.35v2.6h-2.35zM1374.75 1623.85h4.70v2.6h-4.70zM1419.40 1623.85h4.70v2.6h-4.70zM1421.75 1626.20h2.35v2.6h-2.35zM1365.35 1628.55h2.35v2.6h-2.35zM1367.70 1630.90h2.35v2.6h-2.35zM1431.15 1630.90h2.35v2.6h-2.35zM1334.80 1633.25h2.35v2.6h-2.35zM1363.00 1633.25h11.75v2.6h-11.75zM1431.15 1633.25h2.35v2.6h-2.35zM1334.80 1635.60h2.35v2.6h-2.35zM1363.00 1635.60h7.05v2.6h-7.05zM1374.75 1635.60h2.35v2.6h-2.35zM1334.80 1637.95h2.35v2.6h-2.35zM1358.30 1637.95h11.75v2.6h-11.75zM1372.40 1637.95h4.70v2.6h-4.70zM1358.30 1640.30h7.05v2.6h-7.05zM1367.70 1640.30h7.05v2.6h-7.05zM1360.65 1642.65h4.70v2.6h-4.70zM1367.70 1642.65h9.40v2.6h-9.40zM1360.65 1645.00h4.70v2.6h-4.70zM1367.70 1645.00h7.05v2.6h-7.05zM1360.65 1647.35h2.35v2.6h-2.35zM1360.65 1649.70h2.35v2.6h-2.35zM1358.30 1652.05h4.70v2.6h-4.70zM1412.35 1652.05h2.35v2.6h-2.35zM1358.30 1654.40h4.70v2.6h-4.70zM1414.70 1654.40h2.35v2.6h-2.35zM1358.30 1656.75h7.05v2.6h-7.05zM1391.20 1656.75h2.35v2.6h-2.35zM1358.30 1659.10h4.70v2.6h-4.70zM1391.20 1659.10h18.80v2.6h-18.80zM1391.20 1661.45h18.80v2.6h-18.80zM1466.40 1661.45h7.05v2.6h-7.05zM1388.85 1663.80h16.45v2.6h-16.45zM1410.00 1663.80h2.35v2.6h-2.35zM1388.85 1666.15h2.35v2.6h-2.35zM1388.85 1668.50h2.35v2.6h-2.35zM1433.50 1668.50h2.35v2.6h-2.35zM1438.20 1668.50h2.35v2.6h-2.35zM1370.05 1670.85h4.70v2.6h-4.70zM1428.80 1670.85h14.10v2.6h-14.10zM1370.05 1673.20h9.40v2.6h-9.40zM1428.80 1673.20h14.10v2.6h-14.10zM1370.05 1675.55h7.05v2.6h-7.05zM1428.80 1675.55h11.75v2.6h-11.75zM1367.70 1677.90h9.40v2.6h-9.40zM1417.05 1677.90h2.35v2.6h-2.35zM1367.70 1680.25h7.05v2.6h-7.05zM1414.70 1680.25h4.70v2.6h-4.70zM1240.80 1682.60h9.40v2.6h-9.40zM1386.50 1682.60h7.05v2.6h-7.05zM1400.60 1682.60h7.05v2.6h-7.05zM1412.35 1682.60h11.75v2.6h-11.75zM1243.15 1684.95h7.05v2.6h-7.05zM1360.65 1684.95h11.75v2.6h-11.75zM1386.50 1684.95h4.70v2.6h-4.70zM1402.95 1684.95h4.70v2.6h-4.70zM1412.35 1684.95h11.75v2.6h-11.75zM1245.50 1687.30h4.70v2.6h-4.70zM1353.60 1687.30h4.70v2.6h-4.70zM1363.00 1687.30h2.35v2.6h-2.35zM1367.70 1687.30h2.35v2.6h-2.35zM1374.75 1687.30h2.35v2.6h-2.35zM1379.45 1687.30h2.35v2.6h-2.35zM1405.30 1687.30h11.75v2.6h-11.75zM1419.40 1687.30h4.70v2.6h-4.70zM1245.50 1689.65h4.70v2.6h-4.70zM1355.95 1689.65h2.35v2.6h-2.35zM1363.00 1689.65h2.35v2.6h-2.35zM1367.70 1689.65h7.05v2.6h-7.05zM1379.45 1689.65h4.70v2.6h-4.70zM1405.30 1689.65h16.45v2.6h-16.45zM1240.80 1692.00h2.35v2.6h-2.35zM1363.00 1692.00h7.05v2.6h-7.05zM1372.40 1692.00h2.35v2.6h-2.35zM1379.45 1692.00h7.05v2.6h-7.05zM1388.85 1692.00h7.05v2.6h-7.05zM1402.95 1692.00h18.80v2.6h-18.80zM1363.00 1694.35h9.40v2.6h-9.40zM1379.45 1694.35h14.10v2.6h-14.10zM1405.30 1694.35h7.05v2.6h-7.05zM1414.70 1694.35h7.05v2.6h-7.05zM1381.80 1696.70h2.35v2.6h-2.35zM1386.50 1696.70h2.35v2.6h-2.35zM1410.00 1696.70h2.35v2.6h-2.35zM1410.00 1699.05h2.35v2.6h-2.35zM1457.00 1703.75h2.35v2.6h-2.35zM1332.45 1706.10h7.05v2.6h-7.05zM1457.00 1706.10h2.35v2.6h-2.35zM1457.00 1708.45h2.35v2.6h-2.35zM1332.45 1717.85h2.35v2.6h-2.35zM1332.45 1720.20h2.35v2.6h-2.35zM1395.90 1720.20h4.70v2.6h-4.70zM1440.55 1720.20h4.70v2.6h-4.70zM1332.45 1722.55h2.35v2.6h-2.35zM1398.25 1722.55h2.35v2.6h-2.35zM1440.55 1722.55h7.05v2.6h-7.05zM1511.05 1722.55h2.35v2.6h-2.35zM1515.75 1722.55h4.70v2.6h-4.70zM1522.80 1722.55h4.70v2.6h-4.70zM1440.55 1724.90h4.70v2.6h-4.70zM1508.70 1724.90h4.70v2.6h-4.70zM1518.10 1724.90h9.40v2.6h-9.40z"/>
<path fill="#ec67a3" d="M1071.60 495.85h7.05v2.6h-7.05zM1073.95 498.20h4.70v2.6h-4.70zM1059.85 500.55h2.35v2.6h-2.35zM1064.55 500.55h4.70v2.6h-4.70zM1073.95 500.55h4.70v2.6h-4.70zM1059.85 502.90h2.35v2.6h-2.35zM1066.90 502.90h2.35v2.6h-2.35zM1059.85 505.25h9.40v2.6h-9.40zM1059.85 507.60h9.40v2.6h-9.40zM1088.05 507.60h7.05v2.6h-7.05zM1062.20 509.95h7.05v2.6h-7.05zM1088.05 509.95h7.05v2.6h-7.05zM1041.05 517.00h4.70v2.6h-4.70zM1041.05 519.35h2.35v2.6h-2.35zM1041.05 521.70h4.70v2.6h-4.70zM1041.05 524.05h4.70v2.6h-4.70zM1043.40 526.40h2.35v2.6h-2.35zM1175.00 528.75h2.35v2.6h-2.35zM1172.65 531.10h7.05v2.6h-7.05zM1172.65 533.45h4.70v2.6h-4.70zM1031.65 552.25h2.35v2.6h-2.35zM1031.65 554.60h2.35v2.6h-2.35zM1031.65 556.95h2.35v2.6h-2.35zM1175.00 585.15h2.35v2.6h-2.35zM1128.00 587.50h2.35v2.6h-2.35zM1167.95 587.50h11.75v2.6h-11.75zM1130.35 589.85h2.35v2.6h-2.35zM1167.95 589.85h2.35v2.6h-2.35zM1177.35 589.85h2.35v2.6h-2.35zM1137.40 615.70h4.70v2.6h-4.70zM1137.40 622.75h2.35v2.6h-2.35zM1142.10 622.75h2.35v2.6h-2.35zM1123.30 625.10h2.35v2.6h-2.35zM1137.40 625.10h4.70v2.6h-4.70zM1135.05 632.15h2.35v2.6h-2.35zM1135.05 634.50h7.05v2.6h-7.05zM1139.75 636.85h2.35v2.6h-2.35zM1059.85 639.20h7.05v2.6h-7.05zM1139.75 639.20h2.35v2.6h-2.35zM1153.85 639.20h2.35v2.6h-2.35zM1139.75 641.55h2.35v2.6h-2.35zM1153.85 641.55h4.70v2.6h-4.70zM1160.90 641.55h2.35v2.6h-2.35zM1139.75 643.90h2.35v2.6h-2.35zM1144.45 643.90h2.35v2.6h-2.35zM1151.50 643.90h7.05v2.6h-7.05zM1144.45 646.25h11.75v2.6h-11.75zM1149.15 648.60h9.40v2.6h-9.40zM1153.85 650.95h4.70v2.6h-4.70zM1073.95 674.45h2.35v2.6h-2.35zM1073.95 676.80h2.35v2.6h-2.35zM1055.15 679.15h4.70v2.6h-4.70zM1095.10 681.50h4.70v2.6h-4.70zM1118.60 681.50h4.70v2.6h-4.70zM1142.10 681.50h4.70v2.6h-4.70zM1095.10 683.85h4.70v2.6h-4.70zM1118.60 683.85h7.05v2.6h-7.05zM1142.10 683.85h4.70v2.6h-4.70zM1095.10 686.20h7.05v2.6h-7.05zM1118.60 686.20h7.05v2.6h-7.05zM1142.10 686.20h4.70v2.6h-4.70zM1092.75 688.55h2.35v2.6h-2.35zM1097.45 688.55h4.70v2.6h-4.70zM1120.95 688.55h2.35v2.6h-2.35zM1139.75 688.55h7.05v2.6h-7.05zM1118.60 690.90h2.35v2.6h-2.35zM1139.75 690.90h7.05v2.6h-7.05zM1153.85 690.90h2.35v2.6h-2.35zM1104.50 693.25h9.40v2.6h-9.40zM1118.60 693.25h2.35v2.6h-2.35zM1153.85 693.25h2.35v2.6h-2.35zM1099.80 695.60h2.35v2.6h-2.35zM1104.50 695.60h16.45v2.6h-16.45zM1153.85 695.60h2.35v2.6h-2.35zM1104.50 697.95h14.10v2.6h-14.10zM1099.80 700.30h21.15v2.6h-21.15zM1153.85 700.30h4.70v2.6h-4.70zM1104.50 702.65h9.40v2.6h-9.40zM1118.60 702.65h2.35v2.6h-2.35zM1146.80 702.65h2.35v2.6h-2.35zM1151.50 702.65h7.05v2.6h-7.05zM972.90 705.00h2.35v2.6h-2.35zM1078.65 705.00h2.35v2.6h-2.35zM1083.35 705.00h2.35v2.6h-2.35zM1106.85 705.00h9.40v2.6h-9.40zM1146.80 705.00h9.40v2.6h-9.40zM1158.55 705.00h2.35v2.6h-2.35zM958.80 707.35h11.75v2.6h-11.75zM972.90 707.35h4.70v2.6h-4.70zM1034.00 707.35h4.70v2.6h-4.70zM1078.65 707.35h7.05v2.6h-7.05zM1106.85 707.35h11.75v2.6h-11.75zM1146.80 707.35h2.35v2.6h-2.35zM1151.50 707.35h2.35v2.6h-2.35zM958.80 709.70h18.80v2.6h-18.80zM1050.45 709.70h2.35v2.6h-2.35zM1078.65 709.70h4.70v2.6h-4.70zM1106.85 709.70h14.10v2.6h-14.10zM1144.45 709.70h14.10v2.6h-14.10zM958.80 712.05h18.80v2.6h-18.80zM1137.40 712.05h7.05v2.6h-7.05zM1146.80 712.05h11.75v2.6h-11.75zM958.80 714.40h18.80v2.6h-18.80zM1135.05 714.40h9.40v2.6h-9.40zM1149.15 714.40h4.70v2.6h-4.70zM968.20 716.75h7.05v2.6h-7.05zM1139.75 716.75h2.35v2.6h-2.35zM1104.50 719.10h2.35v2.6h-2.35zM1017.55 721.45h4.70v2.6h-4.70zM1104.50 721.45h2.35v2.6h-2.35zM1017.55 723.80h4.70v2.6h-4.70zM1104.50 723.80h2.35v2.6h-2.35zM1003.45 728.50h2.35v2.6h-2.35zM1163.25 728.50h7.05v2.6h-7.05zM1003.45 730.85h2.35v2.6h-2.35zM1003.45 733.20h2.35v2.6h-2.35zM1031.65 733.20h4.70v2.6h-4.70zM1106.85 733.20h7.05v2.6h-7.05zM1123.30 733.20h2.35v2.6h-2.35zM1031.65 735.55h4.70v2.6h-4.70zM1099.80 735.55h4.70v2.6h-4.70zM1109.20 735.55h4.70v2.6h-4.70zM1001.10 737.90h4.70v2.6h-4.70zM1102.15 737.90h2.35v2.6h-2.35zM1109.20 737.90h2.35v2.6h-2.35zM1116.25 737.90h2.35v2.6h-2.35zM1001.10 740.25h4.70v2.6h-4.70zM987.00 752.00h4.70v2.6h-4.70zM987.00 754.35h4.70v2.6h-4.70zM1029.30 754.35h7.05v2.6h-7.05zM987.00 756.70h4.70v2.6h-4.70zM1029.30 756.70h7.05v2.6h-7.05zM1010.50 759.05h4.70v2.6h-4.70zM984.65 761.40h4.70v2.6h-4.70zM1010.50 761.40h9.40v2.6h-9.40zM972.90 763.75h7.05v2.6h-7.05zM987.00 763.75h2.35v2.6h-2.35zM1010.50 763.75h9.40v2.6h-9.40zM972.90 766.10h7.05v2.6h-7.05zM1015.20 766.10h2.35v2.6h-2.35zM1057.50 770.80h4.70v2.6h-4.70zM1057.50 773.15h2.35v2.6h-2.35zM1057.50 775.50h9.40v2.6h-9.40zM1057.50 777.85h2.35v2.6h-2.35zM1062.20 777.85h4.70v2.6h-4.70zM1170.30 784.90h4.70v2.6h-4.70zM977.60 787.25h7.05v2.6h-7.05zM1170.30 787.25h4.70v2.6h-4.70zM979.95 789.60h4.70v2.6h-4.70zM1090.40 791.95h7.05v2.6h-7.05zM1090.40 794.30h7.05v2.6h-7.05zM1090.40 796.65h7.05v2.6h-7.05zM1034.00 799.00h2.35v2.6h-2.35zM1088.05 799.00h9.40v2.6h-9.40zM1034.00 801.35h2.35v2.6h-2.35zM1088.05 801.35h7.05v2.6h-7.05zM1088.05 803.70h7.05v2.6h-7.05zM1088.05 806.05h7.05v2.6h-7.05zM1073.95 808.40h2.35v2.6h-2.35zM982.30 815.45h7.05v2.6h-7.05zM1085.70 815.45h4.70v2.6h-4.70zM982.30 817.80h9.40v2.6h-9.40zM961.15 820.15h4.70v2.6h-4.70zM984.65 820.15h4.70v2.6h-4.70zM1015.20 820.15h4.70v2.6h-4.70zM1034.00 820.15h2.35v2.6h-2.35zM958.80 822.50h4.70v2.6h-4.70zM972.90 822.50h7.05v2.6h-7.05zM987.00 822.50h2.35v2.6h-2.35zM1034.00 822.50h2.35v2.6h-2.35zM958.80 824.85h2.35v2.6h-2.35zM970.55 824.85h9.40v2.6h-9.40zM961.15 827.20h2.35v2.6h-2.35zM968.20 827.20h7.05v2.6h-7.05zM970.55 829.55h2.35v2.6h-2.35zM977.60 829.55h2.35v2.6h-2.35zM965.85 831.90h2.35v2.6h-2.35zM975.25 831.90h7.05v2.6h-7.05zM972.90 834.25h7.05v2.6h-7.05zM998.75 834.25h9.40v2.6h-9.40zM996.40 836.60h11.75v2.6h-11.75zM996.40 838.95h7.05v2.6h-7.05zM1001.10 841.30h2.35v2.6h-2.35zM1059.85 843.65h4.70v2.6h-4.70zM1062.20 846.00h2.35v2.6h-2.35zM1710.80 846.00h4.70v2.6h-4.70zM991.70 848.35h7.05v2.6h-7.05zM1708.45 848.35h7.05v2.6h-7.05zM991.70 850.70h7.05v2.6h-7.05zM1710.80 850.70h4.70v2.6h-4.70zM1113.90 855.40h2.35v2.6h-2.35zM956.45 857.75h2.35v2.6h-2.35zM1113.90 857.75h2.35v2.6h-2.35zM944.70 860.10h2.35v2.6h-2.35zM956.45 860.10h4.70v2.6h-4.70zM947.05 862.45h2.35v2.6h-2.35zM956.45 862.45h4.70v2.6h-4.70zM1017.55 862.45h7.05v2.6h-7.05zM947.05 864.80h7.05v2.6h-7.05zM947.05 867.15h2.35v2.6h-2.35zM951.75 867.15h2.35v2.6h-2.35zM956.45 869.50h2.35v2.6h-2.35zM923.55 916.50h7.05v2.6h-7.05zM970.55 916.50h2.35v2.6h-2.35zM918.85 918.85h7.05v2.6h-7.05zM970.55 918.85h7.05v2.6h-7.05zM918.85 921.20h9.40v2.6h-9.40zM970.55 921.20h7.05v2.6h-7.05zM1675.55 921.20h4.70v2.6h-4.70zM918.85 923.55h4.70v2.6h-4.70zM1675.55 923.55h4.70v2.6h-4.70zM1675.55 925.90h4.70v2.6h-4.70zM1668.50 935.30h4.70v2.6h-4.70zM1675.55 935.30h4.70v2.6h-4.70zM961.15 937.65h7.05v2.6h-7.05zM1666.15 937.65h2.35v2.6h-2.35zM1670.85 937.65h2.35v2.6h-2.35zM1675.55 937.65h4.70v2.6h-4.70zM961.15 940.00h7.05v2.6h-7.05zM1666.15 940.00h7.05v2.6h-7.05zM1675.55 940.00h4.70v2.6h-4.70zM1666.15 942.35h7.05v2.6h-7.05zM1668.50 944.70h4.70v2.6h-4.70zM1668.50 947.05h4.70v2.6h-4.70zM954.10 949.40h2.35v2.6h-2.35zM954.10 951.75h4.70v2.6h-4.70zM954.10 954.10h4.70v2.6h-4.70zM951.75 956.45h7.05v2.6h-7.05zM1694.35 956.45h2.35v2.6h-2.35zM1699.05 956.45h2.35v2.6h-2.35zM1694.35 958.80h4.70v2.6h-4.70zM1694.35 961.15h7.05v2.6h-7.05zM1694.35 965.85h7.05v2.6h-7.05zM1694.35 968.20h7.05v2.6h-7.05zM930.60 970.55h4.70v2.6h-4.70zM1694.35 970.55h7.05v2.6h-7.05zM1694.35 972.90h2.35v2.6h-2.35zM911.80 975.25h4.70v2.6h-4.70zM857.75 977.60h2.35v2.6h-2.35zM911.80 977.60h9.40v2.6h-9.40zM914.15 989.35h7.05v2.6h-7.05zM914.15 991.70h7.05v2.6h-7.05zM897.70 996.40h2.35v2.6h-2.35zM895.35 998.75h4.70v2.6h-4.70zM893.00 1001.10h7.05v2.6h-7.05zM895.35 1003.45h9.40v2.6h-9.40zM923.55 1005.80h7.05v2.6h-7.05zM923.55 1008.15h7.05v2.6h-7.05zM881.25 1012.85h4.70v2.6h-4.70zM881.25 1015.20h7.05v2.6h-7.05zM881.25 1017.55h4.70v2.6h-4.70zM890.65 1017.55h4.70v2.6h-4.70zM890.65 1019.90h4.70v2.6h-4.70zM867.15 1026.95h9.40v2.6h-9.40zM867.15 1029.30h2.35v2.6h-2.35zM871.85 1029.30h4.70v2.6h-4.70zM918.85 1029.30h9.40v2.6h-9.40zM867.15 1031.65h9.40v2.6h-9.40zM918.85 1031.65h9.40v2.6h-9.40zM855.40 1034.00h9.40v2.6h-9.40zM867.15 1034.00h4.70v2.6h-4.70zM918.85 1034.00h2.35v2.6h-2.35zM925.90 1034.00h2.35v2.6h-2.35zM855.40 1036.35h2.35v2.6h-2.35zM860.10 1036.35h2.35v2.6h-2.35zM876.55 1036.35h4.70v2.6h-4.70zM878.90 1038.70h2.35v2.6h-2.35zM965.85 1055.15h2.35v2.6h-2.35zM968.20 1057.50h2.35v2.6h-2.35zM850.70 1186.75h7.05v2.6h-7.05zM850.70 1189.10h9.40v2.6h-9.40zM850.70 1191.45h9.40v2.6h-9.40zM850.70 1193.80h9.40v2.6h-9.40zM850.70 1196.15h9.40v2.6h-9.40zM853.05 1198.50h7.05v2.6h-7.05zM1026.95 1222.00h4.70v2.6h-4.70zM1026.95 1224.35h4.70v2.6h-4.70zM789.60 1243.15h7.05v2.6h-7.05zM787.25 1245.50h11.75v2.6h-11.75zM1012.85 1245.50h4.70v2.6h-4.70zM770.80 1247.85h2.35v2.6h-2.35zM775.50 1247.85h7.05v2.6h-7.05zM787.25 1247.85h4.70v2.6h-4.70zM1012.85 1247.85h4.70v2.6h-4.70zM770.80 1250.20h11.75v2.6h-11.75zM787.25 1250.20h2.35v2.6h-2.35zM794.30 1250.20h4.70v2.6h-4.70zM770.80 1252.55h11.75v2.6h-11.75zM784.90 1252.55h2.35v2.6h-2.35zM794.30 1252.55h4.70v2.6h-4.70zM770.80 1254.90h16.45v2.6h-16.45zM775.50 1257.25h14.10v2.6h-14.10zM770.80 1259.60h16.45v2.6h-16.45zM787.25 1264.30h2.35v2.6h-2.35zM784.90 1266.65h4.70v2.6h-4.70zM784.90 1269.00h4.70v2.6h-4.70zM787.25 1271.35h2.35v2.6h-2.35zM1626.20 1316.00h2.35v2.6h-2.35zM1626.20 1318.35h4.70v2.6h-4.70zM1623.85 1320.70h4.70v2.6h-4.70zM1602.70 1323.05h7.05v2.6h-7.05zM1623.85 1323.05h4.70v2.6h-4.70zM1652.05 1325.40h4.70v2.6h-4.70zM1623.85 1327.75h4.70v2.6h-4.70zM1623.85 1330.10h4.70v2.6h-4.70zM1623.85 1332.45h4.70v2.6h-4.70zM1593.30 1337.15h2.35v2.6h-2.35zM1565.10 1339.50h7.05v2.6h-7.05zM1595.65 1339.50h2.35v2.6h-2.35zM1633.25 1341.85h7.05v2.6h-7.05zM1642.65 1341.85h2.35v2.6h-2.35zM1633.25 1344.20h7.05v2.6h-7.05zM1677.90 1344.20h4.70v2.6h-4.70zM1541.60 1346.55h7.05v2.6h-7.05zM1623.85 1346.55h2.35v2.6h-2.35zM1630.90 1346.55h7.05v2.6h-7.05zM1680.25 1346.55h2.35v2.6h-2.35zM1428.80 1348.90h2.35v2.6h-2.35zM1541.60 1348.90h4.70v2.6h-4.70zM1623.85 1348.90h4.70v2.6h-4.70zM1630.90 1348.90h7.05v2.6h-7.05zM1419.40 1351.25h2.35v2.6h-2.35zM1543.95 1351.25h4.70v2.6h-4.70zM1623.85 1351.25h21.15v2.6h-21.15zM1419.40 1353.60h7.05v2.6h-7.05zM1543.95 1353.60h7.05v2.6h-7.05zM1623.85 1353.60h21.15v2.6h-21.15zM1419.40 1355.95h16.45v2.6h-16.45zM1548.65 1355.95h2.35v2.6h-2.35zM1623.85 1355.95h21.15v2.6h-21.15zM1647.35 1355.95h7.05v2.6h-7.05zM1419.40 1358.30h16.45v2.6h-16.45zM1548.65 1358.30h2.35v2.6h-2.35zM1558.05 1358.30h4.70v2.6h-4.70zM1623.85 1358.30h18.80v2.6h-18.80zM1661.45 1358.30h7.05v2.6h-7.05zM1419.40 1360.65h16.45v2.6h-16.45zM1541.60 1360.65h4.70v2.6h-4.70zM1558.05 1360.65h4.70v2.6h-4.70zM1623.85 1360.65h4.70v2.6h-4.70zM1630.90 1360.65h11.75v2.6h-11.75zM1645.00 1360.65h2.35v2.6h-2.35zM1424.10 1363.00h2.35v2.6h-2.35zM1541.60 1363.00h2.35v2.6h-2.35zM1619.15 1363.00h7.05v2.6h-7.05zM1630.90 1363.00h9.40v2.6h-9.40zM1541.60 1365.35h2.35v2.6h-2.35zM1621.50 1365.35h9.40v2.6h-9.40zM1663.80 1365.35h4.70v2.6h-4.70zM1541.60 1367.70h4.70v2.6h-4.70zM1614.45 1367.70h11.75v2.6h-11.75zM1666.15 1367.70h2.35v2.6h-2.35zM1019.90 1370.05h4.70v2.6h-4.70zM1541.60 1370.05h9.40v2.6h-9.40zM1614.45 1370.05h7.05v2.6h-7.05zM1645.00 1370.05h2.35v2.6h-2.35zM1649.70 1370.05h4.70v2.6h-4.70zM1015.20 1372.40h9.40v2.6h-9.40zM1543.95 1372.40h4.70v2.6h-4.70zM1614.45 1372.40h4.70v2.6h-4.70zM1649.70 1372.40h14.10v2.6h-14.10zM1015.20 1374.75h9.40v2.6h-9.40zM1546.30 1374.75h2.35v2.6h-2.35zM1614.45 1374.75h4.70v2.6h-4.70zM1649.70 1374.75h4.70v2.6h-4.70zM1656.75 1374.75h7.05v2.6h-7.05zM1614.45 1377.10h4.70v2.6h-4.70zM1642.65 1377.10h2.35v2.6h-2.35zM1652.05 1377.10h2.35v2.6h-2.35zM1656.75 1377.10h11.75v2.6h-11.75zM1684.95 1377.10h4.70v2.6h-4.70zM1616.80 1379.45h2.35v2.6h-2.35zM1642.65 1379.45h11.75v2.6h-11.75zM1661.45 1379.45h2.35v2.6h-2.35zM1670.85 1379.45h4.70v2.6h-4.70zM1687.30 1379.45h2.35v2.6h-2.35zM1558.05 1381.80h2.35v2.6h-2.35zM1605.05 1381.80h4.70v2.6h-4.70zM1621.50 1381.80h2.35v2.6h-2.35zM1647.35 1381.80h7.05v2.6h-7.05zM1621.50 1384.15h2.35v2.6h-2.35zM1647.35 1384.15h9.40v2.6h-9.40zM1659.10 1384.15h2.35v2.6h-2.35zM1668.50 1384.15h2.35v2.6h-2.35zM1673.20 1384.15h2.35v2.6h-2.35zM1621.50 1386.50h2.35v2.6h-2.35zM1623.85 1388.85h2.35v2.6h-2.35zM1630.90 1388.85h9.40v2.6h-9.40zM1666.15 1388.85h4.70v2.6h-4.70zM1623.85 1391.20h2.35v2.6h-2.35zM1633.25 1391.20h9.40v2.6h-9.40zM1666.15 1391.20h4.70v2.6h-4.70zM1565.10 1393.55h4.70v2.6h-4.70zM1619.15 1393.55h2.35v2.6h-2.35zM1623.85 1393.55h2.35v2.6h-2.35zM1633.25 1393.55h11.75v2.6h-11.75zM1666.15 1393.55h2.35v2.6h-2.35zM1673.20 1393.55h7.05v2.6h-7.05zM697.95 1395.90h4.70v2.6h-4.70zM1567.45 1395.90h2.35v2.6h-2.35zM1619.15 1395.90h9.40v2.6h-9.40zM1630.90 1395.90h14.10v2.6h-14.10zM1656.75 1395.90h7.05v2.6h-7.05zM1670.85 1395.90h9.40v2.6h-9.40zM1682.60 1395.90h2.35v2.6h-2.35zM695.60 1398.25h11.75v2.6h-11.75zM1619.15 1398.25h25.85v2.6h-25.85zM1656.75 1398.25h4.70v2.6h-4.70zM1670.85 1398.25h7.05v2.6h-7.05zM1684.95 1398.25h2.35v2.6h-2.35zM695.60 1400.60h11.75v2.6h-11.75zM1616.80 1400.60h28.20v2.6h-28.20zM1656.75 1400.60h11.75v2.6h-11.75zM1670.85 1400.60h7.05v2.6h-7.05zM1621.50 1402.95h23.50v2.6h-23.50zM1656.75 1402.95h2.35v2.6h-2.35zM1668.50 1402.95h7.05v2.6h-7.05zM1692.00 1402.95h2.35v2.6h-2.35zM1696.70 1402.95h2.35v2.6h-2.35zM1626.20 1405.30h18.80v2.6h-18.80zM1673.20 1405.30h2.35v2.6h-2.35zM650.95 1407.65h4.70v2.6h-4.70zM1579.20 1407.65h7.05v2.6h-7.05zM1626.20 1407.65h9.40v2.6h-9.40zM1637.95 1407.65h2.35v2.6h-2.35zM1652.05 1407.65h2.35v2.6h-2.35zM1670.85 1407.65h7.05v2.6h-7.05zM650.95 1410.00h7.05v2.6h-7.05zM1579.20 1410.00h9.40v2.6h-9.40zM1621.50 1410.00h18.80v2.6h-18.80zM1654.40 1410.00h2.35v2.6h-2.35zM1670.85 1410.00h11.75v2.6h-11.75zM650.95 1412.35h7.05v2.6h-7.05zM1579.20 1412.35h9.40v2.6h-9.40zM1623.85 1412.35h16.45v2.6h-16.45zM1670.85 1412.35h11.75v2.6h-11.75zM1579.20 1414.70h7.05v2.6h-7.05zM1642.65 1414.70h2.35v2.6h-2.35zM1656.75 1414.70h7.05v2.6h-7.05zM1673.20 1414.70h9.40v2.6h-9.40zM1574.50 1417.05h11.75v2.6h-11.75zM1656.75 1417.05h4.70v2.6h-4.70zM1670.85 1417.05h9.40v2.6h-9.40zM890.65 1419.40h4.70v2.6h-4.70zM1560.40 1419.40h2.35v2.6h-2.35zM1579.20 1419.40h7.05v2.6h-7.05zM1656.75 1419.40h4.70v2.6h-4.70zM1666.15 1419.40h2.35v2.6h-2.35zM1670.85 1419.40h2.35v2.6h-2.35zM1675.55 1419.40h2.35v2.6h-2.35zM864.80 1421.75h4.70v2.6h-4.70zM1581.55 1421.75h7.05v2.6h-7.05zM1663.80 1421.75h4.70v2.6h-4.70zM862.45 1424.10h7.05v2.6h-7.05zM907.10 1424.10h4.70v2.6h-4.70zM1581.55 1424.10h7.05v2.6h-7.05zM1663.80 1424.10h4.70v2.6h-4.70zM860.10 1426.45h2.35v2.6h-2.35zM909.45 1426.45h2.35v2.6h-2.35zM1579.20 1426.45h9.40v2.6h-9.40zM860.10 1428.80h2.35v2.6h-2.35zM1581.55 1428.80h7.05v2.6h-7.05zM1590.95 1428.80h2.35v2.6h-2.35zM869.50 1431.15h2.35v2.6h-2.35zM1574.50 1431.15h2.35v2.6h-2.35zM1581.55 1431.15h7.05v2.6h-7.05zM871.85 1433.50h4.70v2.6h-4.70zM1576.85 1433.50h2.35v2.6h-2.35zM1581.55 1433.50h2.35v2.6h-2.35zM864.80 1435.85h7.05v2.6h-7.05zM862.45 1438.20h7.05v2.6h-7.05zM1614.45 1438.20h2.35v2.6h-2.35zM862.45 1440.55h14.10v2.6h-14.10zM1607.40 1440.55h7.05v2.6h-7.05zM1616.80 1440.55h2.35v2.6h-2.35zM862.45 1442.90h7.05v2.6h-7.05zM871.85 1442.90h4.70v2.6h-4.70zM862.45 1445.25h14.10v2.6h-14.10zM1551.00 1445.25h2.35v2.6h-2.35zM1588.60 1445.25h4.70v2.6h-4.70zM1668.50 1445.25h4.70v2.6h-4.70zM864.80 1447.60h2.35v2.6h-2.35zM1588.60 1447.60h4.70v2.6h-4.70zM864.80 1449.95h7.05v2.6h-7.05zM1666.15 1449.95h4.70v2.6h-4.70zM864.80 1452.30h2.35v2.6h-2.35zM874.20 1452.30h2.35v2.6h-2.35zM876.55 1454.65h2.35v2.6h-2.35zM1548.65 1454.65h4.70v2.6h-4.70zM1562.75 1454.65h2.35v2.6h-2.35zM900.05 1457.00h2.35v2.6h-2.35zM1548.65 1457.00h4.70v2.6h-4.70zM1680.25 1459.35h2.35v2.6h-2.35zM1684.95 1459.35h7.05v2.6h-7.05zM1569.80 1461.70h7.05v2.6h-7.05zM1628.55 1461.70h4.70v2.6h-4.70zM1670.85 1461.70h2.35v2.6h-2.35zM1680.25 1461.70h2.35v2.6h-2.35zM1687.30 1461.70h4.70v2.6h-4.70zM1574.50 1464.05h7.05v2.6h-7.05zM1630.90 1464.05h2.35v2.6h-2.35zM1677.90 1464.05h11.75v2.6h-11.75zM1574.50 1466.40h9.40v2.6h-9.40zM1637.95 1466.40h28.20v2.6h-28.20zM1677.90 1466.40h11.75v2.6h-11.75zM1692.00 1466.40h2.35v2.6h-2.35zM1574.50 1468.75h14.10v2.6h-14.10zM1635.60 1468.75h28.20v2.6h-28.20zM1677.90 1468.75h16.45v2.6h-16.45zM1572.15 1471.10h16.45v2.6h-16.45zM1593.30 1471.10h2.35v2.6h-2.35zM1626.20 1471.10h2.35v2.6h-2.35zM1635.60 1471.10h21.15v2.6h-21.15zM1659.10 1471.10h4.70v2.6h-4.70zM1680.25 1471.10h2.35v2.6h-2.35zM1689.65 1471.10h7.05v2.6h-7.05zM1562.75 1473.45h7.05v2.6h-7.05zM1579.20 1473.45h9.40v2.6h-9.40zM1635.60 1473.45h21.15v2.6h-21.15zM1663.80 1473.45h7.05v2.6h-7.05zM1675.55 1473.45h2.35v2.6h-2.35zM1680.25 1473.45h2.35v2.6h-2.35zM1689.65 1473.45h7.05v2.6h-7.05zM1562.75 1475.80h2.35v2.6h-2.35zM1567.45 1475.80h7.05v2.6h-7.05zM1576.85 1475.80h11.75v2.6h-11.75zM1607.40 1475.80h14.10v2.6h-14.10zM1626.20 1475.80h2.35v2.6h-2.35zM1633.25 1475.80h7.05v2.6h-7.05zM1647.35 1475.80h9.40v2.6h-9.40zM1661.45 1475.80h16.45v2.6h-16.45zM1680.25 1475.80h7.05v2.6h-7.05zM1689.65 1475.80h11.75v2.6h-11.75zM1562.75 1478.15h28.20v2.6h-28.20zM1607.40 1478.15h2.35v2.6h-2.35zM1612.10 1478.15h11.75v2.6h-11.75zM1626.20 1478.15h2.35v2.6h-2.35zM1630.90 1478.15h7.05v2.6h-7.05zM1642.65 1478.15h2.35v2.6h-2.35zM1647.35 1478.15h7.05v2.6h-7.05zM1661.45 1478.15h25.85v2.6h-25.85zM1689.65 1478.15h2.35v2.6h-2.35zM1694.35 1478.15h7.05v2.6h-7.05zM1569.80 1480.50h7.05v2.6h-7.05zM1581.55 1480.50h9.40v2.6h-9.40zM1600.35 1480.50h18.80v2.6h-18.80zM1630.90 1480.50h9.40v2.6h-9.40zM1642.65 1480.50h35.25v2.6h-35.25zM1680.25 1480.50h2.35v2.6h-2.35zM1689.65 1480.50h7.05v2.6h-7.05zM1579.20 1482.85h11.75v2.6h-11.75zM1593.30 1482.85h4.70v2.6h-4.70zM1600.35 1482.85h11.75v2.6h-11.75zM1628.55 1482.85h49.35v2.6h-49.35zM1684.95 1482.85h2.35v2.6h-2.35zM1689.65 1482.85h7.05v2.6h-7.05zM1579.20 1485.20h11.75v2.6h-11.75zM1600.35 1485.20h9.40v2.6h-9.40zM1628.55 1485.20h4.70v2.6h-4.70zM1635.60 1485.20h16.45v2.6h-16.45zM1656.75 1485.20h21.15v2.6h-21.15zM1684.95 1485.20h9.40v2.6h-9.40zM1696.70 1485.20h2.35v2.6h-2.35zM1565.10 1487.55h4.70v2.6h-4.70zM1588.60 1487.55h2.35v2.6h-2.35zM1593.30 1487.55h2.35v2.6h-2.35zM1598.00 1487.55h11.75v2.6h-11.75zM1616.80 1487.55h9.40v2.6h-9.40zM1628.55 1487.55h25.85v2.6h-25.85zM1661.45 1487.55h9.40v2.6h-9.40zM1682.60 1487.55h9.40v2.6h-9.40zM1696.70 1487.55h2.35v2.6h-2.35zM1567.45 1489.90h4.70v2.6h-4.70zM1579.20 1489.90h2.35v2.6h-2.35zM1586.25 1489.90h2.35v2.6h-2.35zM1595.65 1489.90h14.10v2.6h-14.10zM1616.80 1489.90h23.50v2.6h-23.50zM1647.35 1489.90h7.05v2.6h-7.05zM1661.45 1489.90h11.75v2.6h-11.75zM1677.90 1489.90h2.35v2.6h-2.35zM1682.60 1489.90h4.70v2.6h-4.70zM1696.70 1489.90h2.35v2.6h-2.35zM1567.45 1492.25h7.05v2.6h-7.05zM1598.00 1492.25h14.10v2.6h-14.10zM1619.15 1492.25h54.05v2.6h-54.05zM1677.90 1492.25h4.70v2.6h-4.70zM1689.65 1492.25h2.35v2.6h-2.35zM1586.25 1494.60h2.35v2.6h-2.35zM1598.00 1494.60h16.45v2.6h-16.45zM1623.85 1494.60h21.15v2.6h-21.15zM1652.05 1494.60h21.15v2.6h-21.15zM1677.90 1494.60h2.35v2.6h-2.35zM1682.60 1494.60h2.35v2.6h-2.35zM1595.65 1496.95h9.40v2.6h-9.40zM1609.75 1496.95h4.70v2.6h-4.70zM1621.50 1496.95h25.85v2.6h-25.85zM1652.05 1496.95h18.80v2.6h-18.80zM1673.20 1496.95h2.35v2.6h-2.35zM900.05 1499.30h7.05v2.6h-7.05zM1562.75 1499.30h2.35v2.6h-2.35zM1595.65 1499.30h7.05v2.6h-7.05zM1609.75 1499.30h4.70v2.6h-4.70zM1621.50 1499.30h14.10v2.6h-14.10zM1637.95 1499.30h11.75v2.6h-11.75zM1652.05 1499.30h16.45v2.6h-16.45zM1694.35 1499.30h4.70v2.6h-4.70zM897.70 1501.65h7.05v2.6h-7.05zM1565.10 1501.65h2.35v2.6h-2.35zM1598.00 1501.65h4.70v2.6h-4.70zM1612.10 1501.65h2.35v2.6h-2.35zM1621.50 1501.65h2.35v2.6h-2.35zM1630.90 1501.65h35.25v2.6h-35.25zM1668.50 1501.65h4.70v2.6h-4.70zM1684.95 1501.65h18.80v2.6h-18.80zM893.00 1504.00h2.35v2.6h-2.35zM897.70 1504.00h9.40v2.6h-9.40zM1616.80 1504.00h2.35v2.6h-2.35zM1633.25 1504.00h2.35v2.6h-2.35zM1642.65 1504.00h14.10v2.6h-14.10zM1659.10 1504.00h7.05v2.6h-7.05zM1673.20 1504.00h2.35v2.6h-2.35zM1682.60 1504.00h9.40v2.6h-9.40zM1699.05 1504.00h2.35v2.6h-2.35zM1616.80 1506.35h2.35v2.6h-2.35zM1626.20 1506.35h11.75v2.6h-11.75zM1647.35 1506.35h4.70v2.6h-4.70zM1659.10 1506.35h7.05v2.6h-7.05zM1670.85 1506.35h2.35v2.6h-2.35zM1675.55 1506.35h2.35v2.6h-2.35zM1682.60 1506.35h4.70v2.6h-4.70zM1565.10 1508.70h4.70v2.6h-4.70zM1612.10 1508.70h7.05v2.6h-7.05zM1647.35 1508.70h2.35v2.6h-2.35zM1659.10 1508.70h7.05v2.6h-7.05zM1708.45 1508.70h2.35v2.6h-2.35zM1567.45 1511.05h2.35v2.6h-2.35zM1612.10 1511.05h7.05v2.6h-7.05zM1621.50 1511.05h4.70v2.6h-4.70zM1630.90 1511.05h2.35v2.6h-2.35zM1647.35 1511.05h2.35v2.6h-2.35zM1656.75 1511.05h9.40v2.6h-9.40zM1668.50 1511.05h4.70v2.6h-4.70zM1706.10 1511.05h2.35v2.6h-2.35zM1558.05 1513.40h4.70v2.6h-4.70zM1612.10 1513.40h7.05v2.6h-7.05zM1633.25 1513.40h2.35v2.6h-2.35zM1637.95 1513.40h7.05v2.6h-7.05zM1647.35 1513.40h2.35v2.6h-2.35zM1652.05 1513.40h2.35v2.6h-2.35zM1656.75 1513.40h2.35v2.6h-2.35zM1661.45 1513.40h7.05v2.6h-7.05zM1670.85 1513.40h2.35v2.6h-2.35zM1706.10 1513.40h2.35v2.6h-2.35zM1612.10 1515.75h11.75v2.6h-11.75zM1633.25 1515.75h11.75v2.6h-11.75zM1652.05 1515.75h2.35v2.6h-2.35zM1656.75 1515.75h2.35v2.6h-2.35zM1661.45 1515.75h9.40v2.6h-9.40zM1682.60 1515.75h4.70v2.6h-4.70zM1706.10 1515.75h2.35v2.6h-2.35zM1616.80 1518.10h7.05v2.6h-7.05zM1642.65 1518.10h11.75v2.6h-11.75zM1656.75 1518.10h2.35v2.6h-2.35zM1661.45 1518.10h7.05v2.6h-7.05zM1682.60 1518.10h9.40v2.6h-9.40zM1645.00 1520.45h7.05v2.6h-7.05zM1656.75 1520.45h7.05v2.6h-7.05zM1666.15 1520.45h2.35v2.6h-2.35zM1684.95 1520.45h21.15v2.6h-21.15zM1645.00 1522.80h7.05v2.6h-7.05zM1659.10 1522.80h7.05v2.6h-7.05zM1684.95 1522.80h2.35v2.6h-2.35zM1689.65 1522.80h16.45v2.6h-16.45zM1689.65 1525.15h14.10v2.6h-14.10zM1680.25 1527.50h18.80v2.6h-18.80zM1701.40 1527.50h2.35v2.6h-2.35zM1682.60 1529.85h21.15v2.6h-21.15zM1682.60 1532.20h4.70v2.6h-4.70zM1699.05 1532.20h7.05v2.6h-7.05zM1696.70 1534.55h7.05v2.6h-7.05zM1692.00 1536.90h2.35v2.6h-2.35zM1701.40 1536.90h2.35v2.6h-2.35zM1692.00 1539.25h4.70v2.6h-4.70zM1598.00 1541.60h2.35v2.6h-2.35zM1600.35 1543.95h2.35v2.6h-2.35zM1619.15 1543.95h2.35v2.6h-2.35zM1652.05 1543.95h7.05v2.6h-7.05zM1663.80 1543.95h4.70v2.6h-4.70zM1562.75 1546.30h2.35v2.6h-2.35zM1619.15 1546.30h2.35v2.6h-2.35zM1659.10 1546.30h9.40v2.6h-9.40zM1692.00 1546.30h2.35v2.6h-2.35zM1565.10 1548.65h2.35v2.6h-2.35zM1619.15 1548.65h2.35v2.6h-2.35zM1661.45 1548.65h2.35v2.6h-2.35zM1692.00 1548.65h2.35v2.6h-2.35zM1696.70 1548.65h2.35v2.6h-2.35zM1619.15 1551.00h2.35v2.6h-2.35zM1692.00 1551.00h2.35v2.6h-2.35zM1699.05 1551.00h2.35v2.6h-2.35zM1160.90 1558.05h2.35v2.6h-2.35zM1160.90 1560.40h2.35v2.6h-2.35zM1160.90 1562.75h2.35v2.6h-2.35zM737.90 1565.10h4.70v2.6h-4.70zM1160.90 1565.10h2.35v2.6h-2.35zM737.90 1567.45h4.70v2.6h-4.70zM1160.90 1567.45h2.35v2.6h-2.35zM761.40 1583.90h7.05v2.6h-7.05zM761.40 1586.25h7.05v2.6h-7.05zM761.40 1588.60h9.40v2.6h-9.40zM1327.75 1633.25h7.05v2.6h-7.05zM1339.50 1633.25h4.70v2.6h-4.70zM1327.75 1635.60h7.05v2.6h-7.05zM1337.15 1635.60h2.35v2.6h-2.35zM1332.45 1637.95h7.05v2.6h-7.05zM1332.45 1640.30h4.70v2.6h-4.70zM1337.15 1654.40h7.05v2.6h-7.05zM1341.85 1656.75h2.35v2.6h-2.35zM1334.80 1659.10h14.10v2.6h-14.10zM1334.80 1661.45h9.40v2.6h-9.40zM1334.80 1663.80h11.75v2.6h-11.75zM1337.15 1666.15h7.05v2.6h-7.05zM1384.15 1694.35h2.35v2.6h-2.35zM1388.85 1694.35h14.10v2.6h-14.10zM1377.10 1696.70h2.35v2.6h-2.35zM1391.20 1696.70h9.40v2.6h-9.40zM1407.65 1696.70h2.35v2.6h-2.35zM1388.85 1699.05h11.75v2.6h-11.75zM1386.50 1701.40h11.75v2.6h-11.75zM1412.35 1701.40h2.35v2.6h-2.35zM1381.80 1703.75h21.15v2.6h-21.15zM1412.35 1703.75h2.35v2.6h-2.35zM1377.10 1706.10h2.35v2.6h-2.35zM1386.50 1706.10h21.15v2.6h-21.15zM1388.85 1708.45h18.80v2.6h-18.80zM1388.85 1710.80h18.80v2.6h-18.80z"/>
<path fill="#fde855" d="M1229.05 474.70h7.05v2.6h-7.05zM1226.70 477.05h7.05v2.6h-7.05zM1229.05 479.40h4.70v2.6h-4.70zM1090.40 509.95h2.35v2.6h-2.35zM1090.40 512.30h2.35v2.6h-2.35zM1064.55 514.65h2.35v2.6h-2.35zM1090.40 514.65h2.35v2.6h-2.35zM1226.70 514.65h2.35v2.6h-2.35zM1064.55 517.00h2.35v2.6h-2.35zM1224.35 517.00h4.70v2.6h-4.70zM1064.55 519.35h2.35v2.6h-2.35zM1224.35 519.35h4.70v2.6h-4.70zM1151.50 526.40h7.05v2.6h-7.05zM1210.25 540.50h2.35v2.6h-2.35zM1214.95 540.50h2.35v2.6h-2.35zM1090.40 542.85h7.05v2.6h-7.05zM1207.90 542.85h9.40v2.6h-9.40zM1090.40 545.20h7.05v2.6h-7.05zM1205.55 545.20h2.35v2.6h-2.35zM1210.25 545.20h7.05v2.6h-7.05zM1090.40 547.55h2.35v2.6h-2.35zM1095.10 547.55h4.70v2.6h-4.70zM1210.25 547.55h4.70v2.6h-4.70zM1120.95 556.95h4.70v2.6h-4.70zM1120.95 559.30h4.70v2.6h-4.70zM1120.95 561.65h4.70v2.6h-4.70zM1203.20 568.70h7.05v2.6h-7.05zM1036.35 578.10h7.05v2.6h-7.05zM918.85 580.45h4.70v2.6h-4.70zM1036.35 580.45h4.70v2.6h-4.70zM918.85 582.80h7.05v2.6h-7.05zM1038.70 582.80h4.70v2.6h-4.70zM1069.25 582.80h7.05v2.6h-7.05zM918.85 585.15h7.05v2.6h-7.05zM1034.00 585.15h4.70v2.6h-4.70zM923.55 587.50h4.70v2.6h-4.70zM1034.00 587.50h4.70v2.6h-4.70zM1066.90 587.50h7.05v2.6h-7.05zM923.55 589.85h4.70v2.6h-4.70zM1066.90 589.85h7.05v2.6h-7.05zM923.55 592.20h2.35v2.6h-2.35zM918.85 594.55h7.05v2.6h-7.05zM921.20 596.90h4.70v2.6h-4.70zM1135.05 596.90h4.70v2.6h-4.70zM1132.70 601.60h7.05v2.6h-7.05zM1012.85 603.95h2.35v2.6h-2.35zM1135.05 603.95h2.35v2.6h-2.35zM1010.50 606.30h9.40v2.6h-9.40zM1135.05 606.30h2.35v2.6h-2.35zM1012.85 608.65h2.35v2.6h-2.35zM1048.10 608.65h2.35v2.6h-2.35zM1069.25 608.65h2.35v2.6h-2.35zM937.65 627.45h4.70v2.6h-4.70zM937.65 629.80h4.70v2.6h-4.70zM951.75 632.15h7.05v2.6h-7.05zM928.25 639.20h7.05v2.6h-7.05zM958.80 641.55h9.40v2.6h-9.40zM958.80 643.90h11.75v2.6h-11.75zM961.15 646.25h9.40v2.6h-9.40zM958.80 648.60h11.75v2.6h-11.75zM956.45 650.95h14.10v2.6h-14.10zM956.45 653.30h14.10v2.6h-14.10zM918.85 655.65h2.35v2.6h-2.35zM923.55 655.65h2.35v2.6h-2.35zM956.45 655.65h14.10v2.6h-14.10zM918.85 658.00h2.35v2.6h-2.35zM923.55 658.00h4.70v2.6h-4.70zM958.80 658.00h9.40v2.6h-9.40zM923.55 660.35h16.45v2.6h-16.45zM947.05 660.35h11.75v2.6h-11.75zM923.55 662.70h9.40v2.6h-9.40zM937.65 662.70h2.35v2.6h-2.35zM947.05 662.70h11.75v2.6h-11.75zM928.25 665.05h2.35v2.6h-2.35zM954.10 665.05h2.35v2.6h-2.35zM977.60 665.05h4.70v2.6h-4.70zM925.90 667.40h2.35v2.6h-2.35zM937.65 667.40h2.35v2.6h-2.35zM954.10 667.40h2.35v2.6h-2.35zM977.60 667.40h4.70v2.6h-4.70zM937.65 669.75h4.70v2.6h-4.70zM954.10 669.75h2.35v2.6h-2.35zM961.15 669.75h7.05v2.6h-7.05zM979.95 669.75h2.35v2.6h-2.35zM1012.85 669.75h2.35v2.6h-2.35zM937.65 672.10h4.70v2.6h-4.70zM961.15 672.10h4.70v2.6h-4.70zM977.60 672.10h2.35v2.6h-2.35zM1012.85 672.10h2.35v2.6h-2.35zM937.65 674.45h4.70v2.6h-4.70zM963.50 674.45h4.70v2.6h-4.70zM972.90 674.45h2.35v2.6h-2.35zM977.60 674.45h4.70v2.6h-4.70zM1012.85 674.45h2.35v2.6h-2.35zM918.85 676.80h9.40v2.6h-9.40zM937.65 676.80h2.35v2.6h-2.35zM970.55 676.80h7.05v2.6h-7.05zM923.55 679.15h4.70v2.6h-4.70zM940.00 679.15h2.35v2.6h-2.35zM970.55 679.15h7.05v2.6h-7.05zM937.65 681.50h2.35v2.6h-2.35zM968.20 681.50h7.05v2.6h-7.05zM937.65 683.85h4.70v2.6h-4.70zM940.00 686.20h2.35v2.6h-2.35zM932.95 690.90h4.70v2.6h-4.70zM932.95 693.25h4.70v2.6h-4.70zM940.00 697.95h4.70v2.6h-4.70zM937.65 712.05h7.05v2.6h-7.05zM937.65 714.40h7.05v2.6h-7.05zM951.75 714.40h2.35v2.6h-2.35zM961.15 714.40h2.35v2.6h-2.35zM937.65 716.75h2.35v2.6h-2.35zM942.35 716.75h2.35v2.6h-2.35zM951.75 716.75h7.05v2.6h-7.05zM937.65 719.10h11.75v2.6h-11.75zM951.75 719.10h9.40v2.6h-9.40zM935.30 721.45h2.35v2.6h-2.35zM940.00 721.45h14.10v2.6h-14.10zM930.60 723.80h2.35v2.6h-2.35zM935.30 723.80h14.10v2.6h-14.10zM930.60 726.15h2.35v2.6h-2.35zM935.30 726.15h11.75v2.6h-11.75zM937.65 728.50h9.40v2.6h-9.40zM956.45 728.50h2.35v2.6h-2.35zM932.95 730.85h2.35v2.6h-2.35zM937.65 730.85h11.75v2.6h-11.75zM956.45 730.85h2.35v2.6h-2.35zM963.50 730.85h2.35v2.6h-2.35zM937.65 733.20h11.75v2.6h-11.75zM954.10 733.20h7.05v2.6h-7.05zM963.50 733.20h2.35v2.6h-2.35zM937.65 735.55h11.75v2.6h-11.75zM956.45 735.55h11.75v2.6h-11.75zM932.95 737.90h2.35v2.6h-2.35zM940.00 737.90h7.05v2.6h-7.05zM956.45 737.90h2.35v2.6h-2.35zM965.85 737.90h2.35v2.6h-2.35zM977.60 775.50h4.70v2.6h-4.70zM970.55 780.20h2.35v2.6h-2.35zM958.80 791.95h7.05v2.6h-7.05zM958.80 794.30h7.05v2.6h-7.05zM921.20 801.35h2.35v2.6h-2.35zM923.55 803.70h2.35v2.6h-2.35zM916.50 822.50h2.35v2.6h-2.35zM923.55 834.25h7.05v2.6h-7.05zM932.95 834.25h2.35v2.6h-2.35zM923.55 836.60h7.05v2.6h-7.05zM935.30 836.60h2.35v2.6h-2.35zM925.90 838.95h4.70v2.6h-4.70zM925.90 841.30h4.70v2.6h-4.70zM935.30 841.30h7.05v2.6h-7.05zM935.30 843.65h9.40v2.6h-9.40zM935.30 846.00h9.40v2.6h-9.40zM930.60 848.35h11.75v2.6h-11.75zM930.60 850.70h2.35v2.6h-2.35zM935.30 850.70h4.70v2.6h-4.70zM1713.15 857.75h2.35v2.6h-2.35zM1720.20 857.75h9.40v2.6h-9.40zM1720.20 860.10h7.05v2.6h-7.05zM1710.80 862.45h2.35v2.6h-2.35zM1720.20 862.45h4.70v2.6h-4.70zM1710.80 864.80h14.10v2.6h-14.10zM1710.80 867.15h14.10v2.6h-14.10zM1710.80 869.50h14.10v2.6h-14.10zM1717.85 871.85h7.05v2.6h-7.05zM1710.80 874.20h16.45v2.6h-16.45zM1710.80 876.55h14.10v2.6h-14.10zM909.45 878.90h4.70v2.6h-4.70zM949.40 878.90h4.70v2.6h-4.70zM963.50 878.90h4.70v2.6h-4.70zM1710.80 878.90h11.75v2.6h-11.75zM909.45 881.25h4.70v2.6h-4.70zM944.70 881.25h9.40v2.6h-9.40zM963.50 881.25h4.70v2.6h-4.70zM1713.15 881.25h9.40v2.6h-9.40zM1724.90 881.25h2.35v2.6h-2.35zM949.40 883.60h2.35v2.6h-2.35zM963.50 883.60h4.70v2.6h-4.70zM1715.50 883.60h11.75v2.6h-11.75zM1720.20 890.65h2.35v2.6h-2.35zM1720.20 893.00h4.70v2.6h-4.70zM1715.50 895.35h9.40v2.6h-9.40zM1710.80 897.70h9.40v2.6h-9.40zM1713.15 900.05h4.70v2.6h-4.70zM1708.45 909.45h4.70v2.6h-4.70zM970.55 911.80h7.05v2.6h-7.05zM1708.45 911.80h7.05v2.6h-7.05zM970.55 914.15h4.70v2.6h-4.70zM1703.75 914.15h9.40v2.6h-9.40zM972.90 916.50h4.70v2.6h-4.70zM1706.10 916.50h4.70v2.6h-4.70zM1706.10 918.85h4.70v2.6h-4.70zM907.10 928.25h4.70v2.6h-4.70zM904.75 930.60h9.40v2.6h-9.40zM904.75 932.95h9.40v2.6h-9.40zM883.60 935.30h7.05v2.6h-7.05zM883.60 937.65h2.35v2.6h-2.35zM888.30 937.65h2.35v2.6h-2.35zM909.45 961.15h4.70v2.6h-4.70zM909.45 963.50h4.70v2.6h-4.70zM893.00 984.65h2.35v2.6h-2.35zM817.80 989.35h7.05v2.6h-7.05zM817.80 991.70h7.05v2.6h-7.05zM904.75 1008.15h2.35v2.6h-2.35zM907.10 1010.50h2.35v2.6h-2.35zM874.20 1045.75h4.70v2.6h-4.70zM874.20 1048.10h4.70v2.6h-4.70zM911.80 1055.15h4.70v2.6h-4.70zM907.10 1057.50h11.75v2.6h-11.75zM907.10 1059.85h2.35v2.6h-2.35zM911.80 1059.85h2.35v2.6h-2.35zM916.50 1059.85h2.35v2.6h-2.35zM1652.05 1099.80h4.70v2.6h-4.70zM1649.70 1102.15h7.05v2.6h-7.05zM1652.05 1104.50h4.70v2.6h-4.70zM815.45 1149.15h4.70v2.6h-4.70zM815.45 1151.50h4.70v2.6h-4.70zM850.70 1151.50h2.35v2.6h-2.35zM787.25 1160.90h2.35v2.6h-2.35zM700.30 1163.25h2.35v2.6h-2.35zM768.45 1163.25h7.05v2.6h-7.05zM813.10 1163.25h2.35v2.6h-2.35zM702.65 1165.60h2.35v2.6h-2.35zM784.90 1165.60h4.70v2.6h-4.70zM784.90 1167.95h7.05v2.6h-7.05zM799.00 1167.95h2.35v2.6h-2.35zM784.90 1170.30h7.05v2.6h-7.05zM794.30 1170.30h7.05v2.6h-7.05zM803.70 1170.30h2.35v2.6h-2.35zM794.30 1172.65h7.05v2.6h-7.05zM702.65 1177.35h2.35v2.6h-2.35zM803.70 1177.35h7.05v2.6h-7.05zM702.65 1179.70h2.35v2.6h-2.35zM749.65 1179.70h4.70v2.6h-4.70zM803.70 1179.70h7.05v2.6h-7.05zM752.00 1182.05h2.35v2.6h-2.35zM827.20 1189.10h2.35v2.6h-2.35zM714.40 1191.45h2.35v2.6h-2.35zM829.55 1191.45h2.35v2.6h-2.35zM702.65 1193.80h4.70v2.6h-4.70zM747.30 1196.15h7.05v2.6h-7.05zM813.10 1196.15h4.70v2.6h-4.70zM824.85 1196.15h14.10v2.6h-14.10zM799.00 1198.50h4.70v2.6h-4.70zM813.10 1198.50h7.05v2.6h-7.05zM822.50 1198.50h14.10v2.6h-14.10zM841.30 1198.50h4.70v2.6h-4.70zM799.00 1200.85h4.70v2.6h-4.70zM815.45 1200.85h4.70v2.6h-4.70zM822.50 1200.85h4.70v2.6h-4.70zM829.55 1200.85h4.70v2.6h-4.70zM843.65 1200.85h2.35v2.6h-2.35zM862.45 1200.85h2.35v2.6h-2.35zM813.10 1203.20h2.35v2.6h-2.35zM822.50 1203.20h9.40v2.6h-9.40zM838.95 1203.20h7.05v2.6h-7.05zM862.45 1203.20h2.35v2.6h-2.35zM801.35 1205.55h4.70v2.6h-4.70zM824.85 1205.55h7.05v2.6h-7.05zM862.45 1205.55h2.35v2.6h-2.35zM747.30 1210.25h4.70v2.6h-4.70zM782.55 1212.60h4.70v2.6h-4.70zM754.35 1214.95h2.35v2.6h-2.35zM784.90 1214.95h2.35v2.6h-2.35zM801.35 1217.30h4.70v2.6h-4.70zM763.75 1219.65h7.05v2.6h-7.05zM803.70 1219.65h2.35v2.6h-2.35zM848.35 1222.00h2.35v2.6h-2.35zM848.35 1224.35h2.35v2.6h-2.35zM860.10 1226.70h2.35v2.6h-2.35zM648.60 1229.05h2.35v2.6h-2.35zM860.10 1229.05h2.35v2.6h-2.35zM648.60 1231.40h2.35v2.6h-2.35zM648.60 1233.75h2.35v2.6h-2.35zM658.00 1236.10h2.35v2.6h-2.35zM658.00 1238.45h2.35v2.6h-2.35zM658.00 1240.80h2.35v2.6h-2.35zM723.80 1240.80h4.70v2.6h-4.70zM813.10 1240.80h4.70v2.6h-4.70zM719.10 1243.15h2.35v2.6h-2.35zM813.10 1243.15h4.70v2.6h-4.70zM643.90 1245.50h2.35v2.6h-2.35zM721.45 1245.50h2.35v2.6h-2.35zM808.40 1245.50h2.35v2.6h-2.35zM643.90 1247.85h2.35v2.6h-2.35zM808.40 1247.85h2.35v2.6h-2.35zM643.90 1250.20h2.35v2.6h-2.35zM808.40 1250.20h2.35v2.6h-2.35zM669.75 1252.55h2.35v2.6h-2.35zM672.10 1254.90h2.35v2.6h-2.35zM721.45 1257.25h2.35v2.6h-2.35zM829.55 1257.25h4.70v2.6h-4.70zM655.65 1259.60h2.35v2.6h-2.35zM700.30 1259.60h4.70v2.6h-4.70zM721.45 1259.60h2.35v2.6h-2.35zM824.85 1259.60h2.35v2.6h-2.35zM829.55 1259.60h4.70v2.6h-4.70zM690.90 1261.95h2.35v2.6h-2.35zM700.30 1261.95h4.70v2.6h-4.70zM827.20 1261.95h2.35v2.6h-2.35zM665.05 1264.30h2.35v2.6h-2.35zM693.25 1264.30h2.35v2.6h-2.35zM794.30 1264.30h4.70v2.6h-4.70zM796.65 1266.65h2.35v2.6h-2.35zM803.70 1266.65h2.35v2.6h-2.35zM806.05 1269.00h2.35v2.6h-2.35zM674.45 1271.35h7.05v2.6h-7.05zM827.20 1271.35h2.35v2.6h-2.35zM672.10 1273.70h7.05v2.6h-7.05zM719.10 1273.70h7.05v2.6h-7.05zM827.20 1273.70h2.35v2.6h-2.35zM860.10 1273.70h7.05v2.6h-7.05zM672.10 1276.05h7.05v2.6h-7.05zM721.45 1276.05h7.05v2.6h-7.05zM775.50 1276.05h4.70v2.6h-4.70zM796.65 1276.05h2.35v2.6h-2.35zM683.85 1278.40h4.70v2.6h-4.70zM712.05 1278.40h2.35v2.6h-2.35zM777.85 1278.40h2.35v2.6h-2.35zM791.95 1278.40h2.35v2.6h-2.35zM796.65 1278.40h2.35v2.6h-2.35zM709.70 1280.75h4.70v2.6h-4.70zM791.95 1280.75h2.35v2.6h-2.35zM796.65 1280.75h2.35v2.6h-2.35zM709.70 1283.10h4.70v2.6h-4.70zM838.95 1283.10h2.35v2.6h-2.35zM709.70 1285.45h4.70v2.6h-4.70zM747.30 1285.45h4.70v2.6h-4.70zM686.20 1287.80h4.70v2.6h-4.70zM712.05 1287.80h2.35v2.6h-2.35zM721.45 1287.80h2.35v2.6h-2.35zM735.55 1287.80h4.70v2.6h-4.70zM747.30 1287.80h4.70v2.6h-4.70zM688.55 1290.15h4.70v2.6h-4.70zM721.45 1290.15h2.35v2.6h-2.35zM744.95 1290.15h9.40v2.6h-9.40zM846.00 1290.15h4.70v2.6h-4.70zM662.70 1292.50h2.35v2.6h-2.35zM688.55 1292.50h4.70v2.6h-4.70zM744.95 1292.50h9.40v2.6h-9.40zM662.70 1294.85h2.35v2.6h-2.35zM688.55 1294.85h4.70v2.6h-4.70zM744.95 1294.85h2.35v2.6h-2.35zM749.65 1294.85h4.70v2.6h-4.70zM662.70 1297.20h2.35v2.6h-2.35zM690.90 1297.20h4.70v2.6h-4.70zM740.25 1297.20h2.35v2.6h-2.35zM744.95 1297.20h2.35v2.6h-2.35zM749.65 1297.20h2.35v2.6h-2.35zM806.05 1297.20h4.70v2.6h-4.70zM669.75 1299.55h7.05v2.6h-7.05zM693.25 1299.55h2.35v2.6h-2.35zM700.30 1299.55h4.70v2.6h-4.70zM740.25 1299.55h14.10v2.6h-14.10zM796.65 1299.55h2.35v2.6h-2.35zM806.05 1299.55h4.70v2.6h-4.70zM855.40 1299.55h2.35v2.6h-2.35zM702.65 1301.90h2.35v2.6h-2.35zM740.25 1301.90h4.70v2.6h-4.70zM752.00 1301.90h2.35v2.6h-2.35zM796.65 1301.90h2.35v2.6h-2.35zM820.15 1301.90h4.70v2.6h-4.70zM855.40 1301.90h2.35v2.6h-2.35zM669.75 1304.25h4.70v2.6h-4.70zM728.50 1304.25h4.70v2.6h-4.70zM740.25 1304.25h2.35v2.6h-2.35zM752.00 1304.25h2.35v2.6h-2.35zM761.40 1304.25h2.35v2.6h-2.35zM796.65 1304.25h2.35v2.6h-2.35zM817.80 1304.25h7.05v2.6h-7.05zM855.40 1304.25h4.70v2.6h-4.70zM672.10 1306.60h2.35v2.6h-2.35zM728.50 1306.60h4.70v2.6h-4.70zM761.40 1306.60h4.70v2.6h-4.70zM822.50 1306.60h7.05v2.6h-7.05zM763.75 1308.95h2.35v2.6h-2.35zM817.80 1308.95h2.35v2.6h-2.35zM824.85 1308.95h2.35v2.6h-2.35zM857.75 1308.95h7.05v2.6h-7.05zM744.95 1311.30h9.40v2.6h-9.40zM791.95 1311.30h4.70v2.6h-4.70zM806.05 1311.30h9.40v2.6h-9.40zM822.50 1311.30h4.70v2.6h-4.70zM857.75 1311.30h4.70v2.6h-4.70zM742.60 1313.65h7.05v2.6h-7.05zM752.00 1313.65h2.35v2.6h-2.35zM791.95 1313.65h2.35v2.6h-2.35zM803.70 1313.65h9.40v2.6h-9.40zM857.75 1313.65h7.05v2.6h-7.05zM742.60 1316.00h11.75v2.6h-11.75zM791.95 1316.00h2.35v2.6h-2.35zM801.35 1316.00h2.35v2.6h-2.35zM690.90 1318.35h2.35v2.6h-2.35zM742.60 1318.35h7.05v2.6h-7.05zM667.40 1320.70h2.35v2.6h-2.35zM737.90 1320.70h4.70v2.6h-4.70zM747.30 1320.70h2.35v2.6h-2.35zM735.55 1323.05h7.05v2.6h-7.05zM759.05 1323.05h2.35v2.6h-2.35zM737.90 1325.40h4.70v2.6h-4.70zM761.40 1325.40h2.35v2.6h-2.35zM737.90 1327.75h2.35v2.6h-2.35zM1654.40 1327.75h2.35v2.6h-2.35zM646.25 1330.10h7.05v2.6h-7.05zM683.85 1330.10h7.05v2.6h-7.05zM737.90 1330.10h2.35v2.6h-2.35zM855.40 1330.10h4.70v2.6h-4.70zM1659.10 1330.10h7.05v2.6h-7.05zM683.85 1332.45h9.40v2.6h-9.40zM695.60 1332.45h7.05v2.6h-7.05zM735.55 1332.45h4.70v2.6h-4.70zM813.10 1332.45h4.70v2.6h-4.70zM834.25 1332.45h4.70v2.6h-4.70zM841.30 1332.45h2.35v2.6h-2.35zM850.70 1332.45h7.05v2.6h-7.05zM1645.00 1332.45h4.70v2.6h-4.70zM1654.40 1332.45h11.75v2.6h-11.75zM679.15 1334.80h14.10v2.6h-14.10zM695.60 1334.80h7.05v2.6h-7.05zM737.90 1334.80h2.35v2.6h-2.35zM815.45 1334.80h2.35v2.6h-2.35zM834.25 1334.80h9.40v2.6h-9.40zM850.70 1334.80h9.40v2.6h-9.40zM1656.75 1334.80h9.40v2.6h-9.40zM1677.90 1334.80h4.70v2.6h-4.70zM681.50 1337.15h11.75v2.6h-11.75zM695.60 1337.15h7.05v2.6h-7.05zM815.45 1337.15h4.70v2.6h-4.70zM822.50 1337.15h4.70v2.6h-4.70zM836.60 1337.15h7.05v2.6h-7.05zM850.70 1337.15h9.40v2.6h-9.40zM1539.25 1337.15h7.05v2.6h-7.05zM1642.65 1337.15h11.75v2.6h-11.75zM1656.75 1337.15h9.40v2.6h-9.40zM681.50 1339.50h11.75v2.6h-11.75zM695.60 1339.50h4.70v2.6h-4.70zM815.45 1339.50h4.70v2.6h-4.70zM822.50 1339.50h4.70v2.6h-4.70zM834.25 1339.50h7.05v2.6h-7.05zM850.70 1339.50h9.40v2.6h-9.40zM1541.60 1339.50h9.40v2.6h-9.40zM1558.05 1339.50h2.35v2.6h-2.35zM1637.95 1339.50h7.05v2.6h-7.05zM1647.35 1339.50h9.40v2.6h-9.40zM1699.05 1339.50h4.70v2.6h-4.70zM681.50 1341.85h11.75v2.6h-11.75zM815.45 1341.85h11.75v2.6h-11.75zM848.35 1341.85h4.70v2.6h-4.70zM857.75 1341.85h2.35v2.6h-2.35zM1543.95 1341.85h2.35v2.6h-2.35zM1553.35 1341.85h2.35v2.6h-2.35zM1569.80 1341.85h4.70v2.6h-4.70zM1637.95 1341.85h2.35v2.6h-2.35zM1647.35 1341.85h7.05v2.6h-7.05zM1699.05 1341.85h4.70v2.6h-4.70zM650.95 1344.20h2.35v2.6h-2.35zM676.80 1344.20h14.10v2.6h-14.10zM730.85 1344.20h4.70v2.6h-4.70zM850.70 1344.20h2.35v2.6h-2.35zM1543.95 1344.20h4.70v2.6h-4.70zM1553.35 1344.20h7.05v2.6h-7.05zM1567.45 1344.20h9.40v2.6h-9.40zM1583.90 1344.20h2.35v2.6h-2.35zM650.95 1346.55h2.35v2.6h-2.35zM679.15 1346.55h11.75v2.6h-11.75zM730.85 1346.55h4.70v2.6h-4.70zM784.90 1346.55h2.35v2.6h-2.35zM817.80 1346.55h2.35v2.6h-2.35zM853.05 1346.55h2.35v2.6h-2.35zM1541.60 1346.55h4.70v2.6h-4.70zM1553.35 1346.55h9.40v2.6h-9.40zM1567.45 1346.55h7.05v2.6h-7.05zM1579.20 1346.55h7.05v2.6h-7.05zM1652.05 1346.55h2.35v2.6h-2.35zM650.95 1348.90h2.35v2.6h-2.35zM676.80 1348.90h16.45v2.6h-16.45zM697.95 1348.90h7.05v2.6h-7.05zM1541.60 1348.90h9.40v2.6h-9.40zM1553.35 1348.90h2.35v2.6h-2.35zM1560.40 1348.90h2.35v2.6h-2.35zM1567.45 1348.90h9.40v2.6h-9.40zM1583.90 1348.90h2.35v2.6h-2.35zM1654.40 1348.90h2.35v2.6h-2.35zM676.80 1351.25h16.45v2.6h-16.45zM791.95 1351.25h7.05v2.6h-7.05zM869.50 1351.25h2.35v2.6h-2.35zM1539.25 1351.25h4.70v2.6h-4.70zM1569.80 1351.25h7.05v2.6h-7.05zM1586.25 1351.25h2.35v2.6h-2.35zM674.45 1353.60h16.45v2.6h-16.45zM702.65 1353.60h4.70v2.6h-4.70zM726.15 1353.60h7.05v2.6h-7.05zM794.30 1353.60h4.70v2.6h-4.70zM869.50 1353.60h2.35v2.6h-2.35zM1539.25 1353.60h7.05v2.6h-7.05zM1562.75 1353.60h2.35v2.6h-2.35zM1569.80 1353.60h7.05v2.6h-7.05zM1579.20 1353.60h2.35v2.6h-2.35zM1670.85 1353.60h2.35v2.6h-2.35zM1675.55 1353.60h7.05v2.6h-7.05zM1701.40 1353.60h4.70v2.6h-4.70zM705.00 1355.95h2.35v2.6h-2.35zM723.80 1355.95h4.70v2.6h-4.70zM773.15 1355.95h2.35v2.6h-2.35zM817.80 1355.95h4.70v2.6h-4.70zM860.10 1355.95h2.35v2.6h-2.35zM869.50 1355.95h4.70v2.6h-4.70zM1576.85 1355.95h7.05v2.6h-7.05zM1668.50 1355.95h16.45v2.6h-16.45zM1703.75 1355.95h2.35v2.6h-2.35zM735.55 1358.30h2.35v2.6h-2.35zM773.15 1358.30h2.35v2.6h-2.35zM817.80 1358.30h7.05v2.6h-7.05zM857.75 1358.30h4.70v2.6h-4.70zM871.85 1358.30h2.35v2.6h-2.35zM1579.20 1358.30h4.70v2.6h-4.70zM1668.50 1358.30h16.45v2.6h-16.45zM653.30 1360.65h4.70v2.6h-4.70zM679.15 1360.65h2.35v2.6h-2.35zM697.95 1360.65h2.35v2.6h-2.35zM702.65 1360.65h4.70v2.6h-4.70zM730.85 1360.65h9.40v2.6h-9.40zM773.15 1360.65h2.35v2.6h-2.35zM820.15 1360.65h4.70v2.6h-4.70zM831.90 1360.65h4.70v2.6h-4.70zM841.30 1360.65h2.35v2.6h-2.35zM857.75 1360.65h4.70v2.6h-4.70zM871.85 1360.65h2.35v2.6h-2.35zM1579.20 1360.65h2.35v2.6h-2.35zM1583.90 1360.65h2.35v2.6h-2.35zM1602.70 1360.65h9.40v2.6h-9.40zM1668.50 1360.65h16.45v2.6h-16.45zM653.30 1363.00h4.70v2.6h-4.70zM697.95 1363.00h9.40v2.6h-9.40zM716.75 1363.00h7.05v2.6h-7.05zM728.50 1363.00h11.75v2.6h-11.75zM791.95 1363.00h2.35v2.6h-2.35zM831.90 1363.00h2.35v2.6h-2.35zM838.95 1363.00h4.70v2.6h-4.70zM857.75 1363.00h4.70v2.6h-4.70zM1579.20 1363.00h7.05v2.6h-7.05zM1600.35 1363.00h9.40v2.6h-9.40zM1668.50 1363.00h4.70v2.6h-4.70zM1675.55 1363.00h7.05v2.6h-7.05zM653.30 1365.35h4.70v2.6h-4.70zM697.95 1365.35h7.05v2.6h-7.05zM719.10 1365.35h21.15v2.6h-21.15zM777.85 1365.35h4.70v2.6h-4.70zM831.90 1365.35h2.35v2.6h-2.35zM836.60 1365.35h7.05v2.6h-7.05zM857.75 1365.35h4.70v2.6h-4.70zM1579.20 1365.35h7.05v2.6h-7.05zM1600.35 1365.35h7.05v2.6h-7.05zM1614.45 1365.35h2.35v2.6h-2.35zM1668.50 1365.35h14.10v2.6h-14.10zM662.70 1367.70h2.35v2.6h-2.35zM719.10 1367.70h21.15v2.6h-21.15zM820.15 1367.70h2.35v2.6h-2.35zM831.90 1367.70h2.35v2.6h-2.35zM836.60 1367.70h9.40v2.6h-9.40zM860.10 1367.70h2.35v2.6h-2.35zM1581.55 1367.70h2.35v2.6h-2.35zM1602.70 1367.70h2.35v2.6h-2.35zM1607.40 1367.70h2.35v2.6h-2.35zM1612.10 1367.70h2.35v2.6h-2.35zM1630.90 1367.70h4.70v2.6h-4.70zM1670.85 1367.70h11.75v2.6h-11.75zM639.20 1370.05h4.70v2.6h-4.70zM662.70 1370.05h2.35v2.6h-2.35zM728.50 1370.05h11.75v2.6h-11.75zM860.10 1370.05h2.35v2.6h-2.35zM1607.40 1370.05h7.05v2.6h-7.05zM1673.20 1370.05h7.05v2.6h-7.05zM1694.35 1370.05h2.35v2.6h-2.35zM728.50 1372.40h11.75v2.6h-11.75zM857.75 1372.40h4.70v2.6h-4.70zM1600.35 1372.40h2.35v2.6h-2.35zM1605.05 1372.40h9.40v2.6h-9.40zM1673.20 1372.40h7.05v2.6h-7.05zM1696.70 1372.40h2.35v2.6h-2.35zM730.85 1374.75h7.05v2.6h-7.05zM862.45 1374.75h9.40v2.6h-9.40zM1579.20 1374.75h7.05v2.6h-7.05zM1600.35 1374.75h2.35v2.6h-2.35zM1607.40 1374.75h7.05v2.6h-7.05zM813.10 1377.10h4.70v2.6h-4.70zM862.45 1377.10h9.40v2.6h-9.40zM1576.85 1377.10h7.05v2.6h-7.05zM1600.35 1377.10h2.35v2.6h-2.35zM1609.75 1377.10h4.70v2.6h-4.70zM761.40 1379.45h4.70v2.6h-4.70zM815.45 1379.45h2.35v2.6h-2.35zM822.50 1379.45h2.35v2.6h-2.35zM862.45 1379.45h7.05v2.6h-7.05zM1576.85 1379.45h7.05v2.6h-7.05zM1609.75 1379.45h2.35v2.6h-2.35zM763.75 1381.80h2.35v2.6h-2.35zM815.45 1381.80h2.35v2.6h-2.35zM824.85 1381.80h2.35v2.6h-2.35zM862.45 1381.80h2.35v2.6h-2.35zM1576.85 1381.80h2.35v2.6h-2.35zM1583.90 1381.80h4.70v2.6h-4.70zM1600.35 1381.80h2.35v2.6h-2.35zM1605.05 1381.80h2.35v2.6h-2.35zM1609.75 1381.80h2.35v2.6h-2.35zM1696.70 1381.80h7.05v2.6h-7.05zM1706.10 1381.80h7.05v2.6h-7.05zM808.40 1384.15h2.35v2.6h-2.35zM815.45 1384.15h2.35v2.6h-2.35zM836.60 1384.15h7.05v2.6h-7.05zM862.45 1384.15h2.35v2.6h-2.35zM1576.85 1384.15h2.35v2.6h-2.35zM1583.90 1384.15h4.70v2.6h-4.70zM1684.95 1384.15h7.05v2.6h-7.05zM1694.35 1384.15h11.75v2.6h-11.75zM672.10 1386.50h2.35v2.6h-2.35zM808.40 1386.50h2.35v2.6h-2.35zM838.95 1386.50h4.70v2.6h-4.70zM862.45 1386.50h2.35v2.6h-2.35zM1595.65 1386.50h4.70v2.6h-4.70zM1605.05 1386.50h2.35v2.6h-2.35zM1628.55 1386.50h2.35v2.6h-2.35zM1699.05 1386.50h7.05v2.6h-7.05zM658.00 1388.85h9.40v2.6h-9.40zM672.10 1388.85h2.35v2.6h-2.35zM719.10 1388.85h2.35v2.6h-2.35zM730.85 1388.85h2.35v2.6h-2.35zM784.90 1388.85h2.35v2.6h-2.35zM808.40 1388.85h2.35v2.6h-2.35zM841.30 1388.85h4.70v2.6h-4.70zM1595.65 1388.85h4.70v2.6h-4.70zM672.10 1391.20h2.35v2.6h-2.35zM721.45 1391.20h2.35v2.6h-2.35zM730.85 1391.20h2.35v2.6h-2.35zM784.90 1391.20h2.35v2.6h-2.35zM841.30 1391.20h4.70v2.6h-4.70zM1598.00 1391.20h2.35v2.6h-2.35zM1645.00 1391.20h2.35v2.6h-2.35zM843.65 1393.55h2.35v2.6h-2.35zM1541.60 1393.55h2.35v2.6h-2.35zM1600.35 1393.55h4.70v2.6h-4.70zM1645.00 1393.55h2.35v2.6h-2.35zM683.85 1395.90h2.35v2.6h-2.35zM1572.15 1395.90h2.35v2.6h-2.35zM1579.20 1395.90h2.35v2.6h-2.35zM1602.70 1395.90h2.35v2.6h-2.35zM641.55 1398.25h2.35v2.6h-2.35zM747.30 1407.65h2.35v2.6h-2.35zM686.20 1410.00h7.05v2.6h-7.05zM730.85 1410.00h2.35v2.6h-2.35zM744.95 1410.00h7.05v2.6h-7.05zM686.20 1412.35h7.05v2.6h-7.05zM730.85 1412.35h2.35v2.6h-2.35zM742.60 1412.35h9.40v2.6h-9.40zM831.90 1412.35h2.35v2.6h-2.35zM702.65 1414.70h9.40v2.6h-9.40zM733.20 1414.70h14.10v2.6h-14.10zM831.90 1414.70h2.35v2.6h-2.35zM702.65 1417.05h9.40v2.6h-9.40zM735.55 1417.05h11.75v2.6h-11.75zM831.90 1417.05h2.35v2.6h-2.35zM730.85 1419.40h16.45v2.6h-16.45zM806.05 1419.40h2.35v2.6h-2.35zM707.35 1421.75h4.70v2.6h-4.70zM733.20 1421.75h7.05v2.6h-7.05zM869.50 1421.75h4.70v2.6h-4.70zM869.50 1424.10h7.05v2.6h-7.05zM690.90 1426.45h4.70v2.6h-4.70zM871.85 1426.45h4.70v2.6h-4.70zM690.90 1428.80h4.70v2.6h-4.70zM697.95 1428.80h4.70v2.6h-4.70zM707.35 1428.80h2.35v2.6h-2.35zM766.10 1428.80h2.35v2.6h-2.35zM697.95 1431.15h2.35v2.6h-2.35zM705.00 1431.15h4.70v2.6h-4.70zM728.50 1431.15h2.35v2.6h-2.35zM740.25 1431.15h4.70v2.6h-4.70zM756.70 1431.15h2.35v2.6h-2.35zM763.75 1431.15h4.70v2.6h-4.70zM817.80 1431.15h4.70v2.6h-4.70zM697.95 1433.50h7.05v2.6h-7.05zM740.25 1433.50h4.70v2.6h-4.70zM756.70 1433.50h7.05v2.6h-7.05zM817.80 1433.50h4.70v2.6h-4.70zM1652.05 1433.50h4.70v2.6h-4.70zM700.30 1435.85h7.05v2.6h-7.05zM744.95 1435.85h4.70v2.6h-4.70zM756.70 1435.85h7.05v2.6h-7.05zM1649.70 1435.85h7.05v2.6h-7.05zM744.95 1438.20h4.70v2.6h-4.70zM756.70 1438.20h7.05v2.6h-7.05zM1640.30 1438.20h4.70v2.6h-4.70zM1647.35 1438.20h11.75v2.6h-11.75zM756.70 1440.55h7.05v2.6h-7.05zM1640.30 1440.55h18.80v2.6h-18.80zM855.40 1442.90h7.05v2.6h-7.05zM1640.30 1442.90h7.05v2.6h-7.05zM1652.05 1442.90h7.05v2.6h-7.05zM777.85 1445.25h4.70v2.6h-4.70zM1640.30 1445.25h9.40v2.6h-9.40zM1656.75 1445.25h2.35v2.6h-2.35zM784.90 1447.60h9.40v2.6h-9.40zM1640.30 1447.60h9.40v2.6h-9.40zM1656.75 1447.60h2.35v2.6h-2.35zM742.60 1449.95h4.70v2.6h-4.70zM784.90 1449.95h9.40v2.6h-9.40zM1642.65 1449.95h7.05v2.6h-7.05zM1656.75 1449.95h2.35v2.6h-2.35zM742.60 1452.30h4.70v2.6h-4.70zM784.90 1452.30h7.05v2.6h-7.05zM1600.35 1452.30h16.45v2.6h-16.45zM1640.30 1452.30h11.75v2.6h-11.75zM1654.40 1452.30h4.70v2.6h-4.70zM784.90 1454.65h4.70v2.6h-4.70zM1598.00 1454.65h16.45v2.6h-16.45zM1642.65 1454.65h9.40v2.6h-9.40zM1654.40 1454.65h2.35v2.6h-2.35zM843.65 1457.00h4.70v2.6h-4.70zM1605.05 1457.00h9.40v2.6h-9.40zM1645.00 1457.00h4.70v2.6h-4.70zM843.65 1459.35h4.70v2.6h-4.70zM1595.65 1459.35h2.35v2.6h-2.35zM1602.70 1459.35h14.10v2.6h-14.10zM1645.00 1459.35h2.35v2.6h-2.35zM1593.30 1461.70h9.40v2.6h-9.40zM1605.05 1461.70h16.45v2.6h-16.45zM1645.00 1461.70h2.35v2.6h-2.35zM1652.05 1461.70h4.70v2.6h-4.70zM813.10 1464.05h4.70v2.6h-4.70zM1593.30 1464.05h28.20v2.6h-28.20zM813.10 1466.40h4.70v2.6h-4.70zM1593.30 1466.40h28.20v2.6h-28.20zM813.10 1468.75h4.70v2.6h-4.70zM1593.30 1468.75h7.05v2.6h-7.05zM1602.70 1468.75h18.80v2.6h-18.80zM1595.65 1471.10h2.35v2.6h-2.35zM1600.35 1471.10h2.35v2.6h-2.35zM1605.05 1471.10h16.45v2.6h-16.45zM1595.65 1473.45h7.05v2.6h-7.05zM1605.05 1473.45h14.10v2.6h-14.10zM1600.35 1475.80h16.45v2.6h-16.45zM1717.85 1499.30h2.35v2.6h-2.35zM1722.55 1499.30h2.35v2.6h-2.35zM1722.55 1501.65h2.35v2.6h-2.35zM1717.85 1504.00h7.05v2.6h-7.05zM1715.50 1506.35h11.75v2.6h-11.75zM1710.80 1508.70h7.05v2.6h-7.05zM1720.20 1508.70h2.35v2.6h-2.35zM1724.90 1508.70h2.35v2.6h-2.35zM1710.80 1511.05h2.35v2.6h-2.35zM1715.50 1511.05h2.35v2.6h-2.35zM1724.90 1511.05h2.35v2.6h-2.35zM1710.80 1513.40h4.70v2.6h-4.70zM1701.40 1515.75h16.45v2.6h-16.45zM1614.45 1518.10h7.05v2.6h-7.05zM1701.40 1518.10h2.35v2.6h-2.35zM1706.10 1518.10h2.35v2.6h-2.35zM1710.80 1518.10h2.35v2.6h-2.35zM1614.45 1520.45h7.05v2.6h-7.05zM1701.40 1520.45h7.05v2.6h-7.05zM1710.80 1520.45h2.35v2.6h-2.35zM1715.50 1520.45h2.35v2.6h-2.35zM1619.15 1522.80h2.35v2.6h-2.35zM1701.40 1522.80h7.05v2.6h-7.05zM1701.40 1525.15h4.70v2.6h-4.70zM1720.20 1525.15h2.35v2.6h-2.35zM1724.90 1525.15h2.35v2.6h-2.35zM1713.15 1527.50h2.35v2.6h-2.35zM1701.40 1529.85h2.35v2.6h-2.35zM1713.15 1529.85h7.05v2.6h-7.05zM1703.75 1532.20h2.35v2.6h-2.35zM1710.80 1532.20h9.40v2.6h-9.40zM1715.50 1534.55h4.70v2.6h-4.70zM674.45 1539.25h4.70v2.6h-4.70zM672.10 1541.60h7.05v2.6h-7.05zM672.10 1543.95h7.05v2.6h-7.05zM672.10 1546.30h7.05v2.6h-7.05zM667.40 1548.65h9.40v2.6h-9.40zM667.40 1551.00h7.05v2.6h-7.05zM829.55 1551.00h2.35v2.6h-2.35zM667.40 1553.35h7.05v2.6h-7.05zM831.90 1555.70h2.35v2.6h-2.35zM834.25 1558.05h2.35v2.6h-2.35zM789.60 1560.40h7.05v2.6h-7.05zM815.45 1560.40h4.70v2.6h-4.70zM674.45 1562.75h11.75v2.6h-11.75zM789.60 1562.75h7.05v2.6h-7.05zM799.00 1562.75h4.70v2.6h-4.70zM815.45 1562.75h4.70v2.6h-4.70zM672.10 1565.10h16.45v2.6h-16.45zM801.35 1565.10h2.35v2.6h-2.35zM831.90 1565.10h4.70v2.6h-4.70zM672.10 1567.45h7.05v2.6h-7.05zM681.50 1567.45h2.35v2.6h-2.35zM827.20 1567.45h9.40v2.6h-9.40zM672.10 1569.80h14.10v2.6h-14.10zM827.20 1569.80h9.40v2.6h-9.40zM867.15 1569.80h2.35v2.6h-2.35zM676.80 1572.15h7.05v2.6h-7.05zM810.75 1572.15h4.70v2.6h-4.70zM817.80 1572.15h2.35v2.6h-2.35zM869.50 1572.15h2.35v2.6h-2.35zM810.75 1574.50h11.75v2.6h-11.75zM801.35 1579.20h2.35v2.6h-2.35zM862.45 1579.20h7.05v2.6h-7.05zM848.35 1581.55h2.35v2.6h-2.35zM850.70 1583.90h2.35v2.6h-2.35zM808.40 1586.25h2.35v2.6h-2.35zM808.40 1588.60h2.35v2.6h-2.35zM808.40 1590.95h2.35v2.6h-2.35zM843.65 1598.00h2.35v2.6h-2.35zM848.35 1598.00h7.05v2.6h-7.05zM843.65 1600.35h11.75v2.6h-11.75zM796.65 1602.70h4.70v2.6h-4.70zM820.15 1602.70h2.35v2.6h-2.35zM841.30 1602.70h7.05v2.6h-7.05zM799.00 1605.05h2.35v2.6h-2.35zM843.65 1605.05h7.05v2.6h-7.05zM850.70 1607.40h4.70v2.6h-4.70zM841.30 1609.75h14.10v2.6h-14.10zM789.60 1612.10h2.35v2.6h-2.35zM841.30 1612.10h7.05v2.6h-7.05zM850.70 1612.10h4.70v2.6h-4.70zM843.65 1614.45h4.70v2.6h-4.70zM853.05 1614.45h2.35v2.6h-2.35zM857.75 1614.45h4.70v2.6h-4.70zM857.75 1616.80h2.35v2.6h-2.35zM646.25 1659.10h7.05v2.6h-7.05zM646.25 1661.45h7.05v2.6h-7.05zM643.90 1663.80h9.40v2.6h-9.40zM620.40 1670.85h7.05v2.6h-7.05zM615.70 1673.20h11.75v2.6h-11.75zM615.70 1675.55h2.35v2.6h-2.35zM695.60 1797.75h11.75v2.6h-11.75zM712.05 1797.75h2.35v2.6h-2.35zM693.25 1800.10h23.50v2.6h-23.50zM693.25 1802.45h2.35v2.6h-2.35zM697.95 1802.45h18.80v2.6h-18.80zM693.25 1804.80h18.80v2.6h-18.80zM714.40 1804.80h2.35v2.6h-2.35zM693.25 1807.15h2.35v2.6h-2.35zM700.30 1807.15h16.45v2.6h-16.45zM700.30 1809.50h14.10v2.6h-14.10zM697.95 1811.85h23.50v2.6h-23.50zM695.60 1814.20h28.20v2.6h-28.20zM707.35 1816.55h9.40v2.6h-9.40zM719.10 1816.55h7.05v2.6h-7.05zM709.70 1818.90h4.70v2.6h-4.70zM721.45 1818.90h4.70v2.6h-4.70zM709.70 1821.25h16.45v2.6h-16.45zM712.05 1823.60h11.75v2.6h-11.75zM726.15 1830.65h4.70v2.6h-4.70zM693.25 1833.00h4.70v2.6h-4.70zM721.45 1833.00h9.40v2.6h-9.40zM693.25 1835.35h4.70v2.6h-4.70zM721.45 1835.35h9.40v2.6h-9.40zM721.45 1837.70h9.40v2.6h-9.40zM723.80 1840.05h4.70v2.6h-4.70z"/>
<path fill="#74ee8a" d="M900.05 571.05h9.40v2.6h-9.40zM914.15 573.40h2.35v2.6h-2.35zM895.35 575.75h2.35v2.6h-2.35zM900.05 575.75h2.35v2.6h-2.35zM904.75 575.75h2.35v2.6h-2.35zM914.15 575.75h2.35v2.6h-2.35zM900.05 578.10h2.35v2.6h-2.35zM904.75 578.10h2.35v2.6h-2.35zM911.80 578.10h4.70v2.6h-4.70zM904.75 580.45h9.40v2.6h-9.40zM911.80 582.80h4.70v2.6h-4.70zM900.05 585.15h2.35v2.6h-2.35zM909.45 585.15h4.70v2.6h-4.70zM900.05 587.50h2.35v2.6h-2.35zM911.80 587.50h2.35v2.6h-2.35zM881.25 603.95h11.75v2.6h-11.75zM878.90 606.30h7.05v2.6h-7.05zM890.65 606.30h2.35v2.6h-2.35zM1001.10 608.65h7.05v2.6h-7.05zM878.90 611.00h2.35v2.6h-2.35zM998.75 611.00h2.35v2.6h-2.35zM1003.45 611.00h2.35v2.6h-2.35zM998.75 613.35h2.35v2.6h-2.35zM998.75 615.70h2.35v2.6h-2.35zM998.75 618.05h4.70v2.6h-4.70zM1005.80 618.05h2.35v2.6h-2.35zM975.25 625.10h2.35v2.6h-2.35zM975.25 627.45h16.45v2.6h-16.45zM979.95 629.80h7.05v2.6h-7.05zM979.95 632.15h7.05v2.6h-7.05zM963.50 634.50h7.05v2.6h-7.05zM961.15 636.85h11.75v2.6h-11.75zM975.25 636.85h4.70v2.6h-4.70zM961.15 639.20h2.35v2.6h-2.35zM968.20 639.20h2.35v2.6h-2.35zM972.90 639.20h9.40v2.6h-9.40zM862.45 641.55h2.35v2.6h-2.35zM961.15 641.55h21.15v2.6h-21.15zM862.45 643.90h4.70v2.6h-4.70zM961.15 643.90h9.40v2.6h-9.40zM972.90 643.90h7.05v2.6h-7.05zM862.45 646.25h4.70v2.6h-4.70zM871.85 646.25h4.70v2.6h-4.70zM961.15 646.25h18.80v2.6h-18.80zM871.85 648.60h4.70v2.6h-4.70zM968.20 648.60h2.35v2.6h-2.35zM972.90 650.95h2.35v2.6h-2.35zM841.30 667.40h4.70v2.6h-4.70zM841.30 669.75h4.70v2.6h-4.70zM841.30 672.10h4.70v2.6h-4.70zM841.30 674.45h4.70v2.6h-4.70zM972.90 674.45h2.35v2.6h-2.35zM975.25 676.80h2.35v2.6h-2.35zM902.40 679.15h2.35v2.6h-2.35zM935.30 679.15h4.70v2.6h-4.70zM864.80 688.55h7.05v2.6h-7.05zM918.85 719.10h7.05v2.6h-7.05zM914.15 721.45h11.75v2.6h-11.75zM914.15 723.80h4.70v2.6h-4.70zM921.20 723.80h9.40v2.6h-9.40zM921.20 726.15h9.40v2.6h-9.40zM925.90 728.50h7.05v2.6h-7.05zM921.20 733.20h2.35v2.6h-2.35zM918.85 735.55h2.35v2.6h-2.35zM979.95 735.55h4.70v2.6h-4.70zM923.55 737.90h2.35v2.6h-2.35zM979.95 737.90h4.70v2.6h-4.70zM914.15 740.25h2.35v2.6h-2.35zM923.55 742.60h7.05v2.6h-7.05zM904.75 744.95h2.35v2.6h-2.35zM791.95 747.30h2.35v2.6h-2.35zM796.65 747.30h4.70v2.6h-4.70zM895.35 747.30h21.15v2.6h-21.15zM791.95 749.65h11.75v2.6h-11.75zM895.35 749.65h23.50v2.6h-23.50zM895.35 752.00h7.05v2.6h-7.05zM904.75 752.00h2.35v2.6h-2.35zM909.45 752.00h2.35v2.6h-2.35zM914.15 752.00h7.05v2.6h-7.05zM909.45 754.35h7.05v2.6h-7.05zM871.85 766.10h4.70v2.6h-4.70zM871.85 768.45h4.70v2.6h-4.70zM883.60 768.45h4.70v2.6h-4.70zM871.85 770.80h4.70v2.6h-4.70zM883.60 770.80h4.70v2.6h-4.70zM883.60 773.15h4.70v2.6h-4.70zM885.95 775.50h2.35v2.6h-2.35zM885.95 777.85h2.35v2.6h-2.35zM900.05 780.20h7.05v2.6h-7.05zM895.35 789.60h9.40v2.6h-9.40zM890.65 791.95h2.35v2.6h-2.35zM900.05 791.95h9.40v2.6h-9.40zM902.40 794.30h9.40v2.6h-9.40zM890.65 796.65h2.35v2.6h-2.35zM904.75 796.65h4.70v2.6h-4.70zM890.65 799.00h2.35v2.6h-2.35zM897.70 799.00h9.40v2.6h-9.40zM888.30 801.35h18.80v2.6h-18.80zM888.30 803.70h21.15v2.6h-21.15zM951.75 810.75h4.70v2.6h-4.70zM954.10 813.10h2.35v2.6h-2.35zM890.65 815.45h4.70v2.6h-4.70zM942.35 815.45h9.40v2.6h-9.40zM890.65 817.80h4.70v2.6h-4.70zM942.35 817.80h9.40v2.6h-9.40zM942.35 820.15h2.35v2.6h-2.35zM902.40 822.50h4.70v2.6h-4.70zM942.35 822.50h2.35v2.6h-2.35zM902.40 824.85h4.70v2.6h-4.70zM914.15 827.20h2.35v2.6h-2.35zM904.75 836.60h2.35v2.6h-2.35zM890.65 838.95h7.05v2.6h-7.05zM888.30 841.30h9.40v2.6h-9.40zM904.75 841.30h2.35v2.6h-2.35zM909.45 841.30h2.35v2.6h-2.35zM888.30 843.65h2.35v2.6h-2.35zM893.00 843.65h4.70v2.6h-4.70zM904.75 843.65h2.35v2.6h-2.35zM895.35 846.00h2.35v2.6h-2.35zM902.40 846.00h4.70v2.6h-4.70zM895.35 848.35h2.35v2.6h-2.35zM902.40 848.35h7.05v2.6h-7.05zM902.40 850.70h11.75v2.6h-11.75zM900.05 853.05h11.75v2.6h-11.75zM1814.20 881.25h4.70v2.6h-4.70zM1814.20 883.60h7.05v2.6h-7.05zM1814.20 885.95h7.05v2.6h-7.05zM1804.80 888.30h7.05v2.6h-7.05zM1814.20 888.30h4.70v2.6h-4.70zM1720.20 890.65h7.05v2.6h-7.05zM1804.80 890.65h7.05v2.6h-7.05zM1720.20 893.00h4.70v2.6h-4.70zM1720.20 895.35h4.70v2.6h-4.70zM1823.60 895.35h7.05v2.6h-7.05zM1720.20 897.70h7.05v2.6h-7.05zM1821.25 897.70h9.40v2.6h-9.40zM1823.60 900.05h9.40v2.6h-9.40zM683.85 911.80h9.40v2.6h-9.40zM681.50 914.15h9.40v2.6h-9.40zM686.20 916.50h2.35v2.6h-2.35zM690.90 916.50h2.35v2.6h-2.35zM714.40 916.50h2.35v2.6h-2.35zM681.50 918.85h2.35v2.6h-2.35zM686.20 918.85h9.40v2.6h-9.40zM714.40 918.85h2.35v2.6h-2.35zM688.55 921.20h7.05v2.6h-7.05zM705.00 921.20h2.35v2.6h-2.35zM714.40 921.20h2.35v2.6h-2.35zM693.25 923.55h2.35v2.6h-2.35zM705.00 923.55h2.35v2.6h-2.35zM702.65 925.90h9.40v2.6h-9.40zM702.65 928.25h9.40v2.6h-9.40zM702.65 930.60h4.70v2.6h-4.70zM702.65 932.95h4.70v2.6h-4.70zM643.90 935.30h2.35v2.6h-2.35zM683.85 935.30h2.35v2.6h-2.35zM702.65 935.30h2.35v2.6h-2.35zM643.90 937.65h2.35v2.6h-2.35zM702.65 937.65h2.35v2.6h-2.35zM653.30 940.00h4.70v2.6h-4.70zM662.70 940.00h2.35v2.6h-2.35zM709.70 940.00h2.35v2.6h-2.35zM653.30 942.35h4.70v2.6h-4.70zM662.70 942.35h2.35v2.6h-2.35zM712.05 942.35h2.35v2.6h-2.35zM653.30 944.70h4.70v2.6h-4.70zM693.25 944.70h2.35v2.6h-2.35zM690.90 949.40h4.70v2.6h-4.70zM690.90 951.75h2.35v2.6h-2.35zM695.60 951.75h2.35v2.6h-2.35zM690.90 954.10h7.05v2.6h-7.05zM690.90 956.45h7.05v2.6h-7.05zM683.85 977.60h4.70v2.6h-4.70zM686.20 979.95h2.35v2.6h-2.35zM749.65 1003.45h4.70v2.6h-4.70zM766.10 1003.45h2.35v2.6h-2.35zM752.00 1005.80h2.35v2.6h-2.35zM766.10 1005.80h2.35v2.6h-2.35zM766.10 1008.15h2.35v2.6h-2.35zM808.40 1008.15h2.35v2.6h-2.35zM808.40 1010.50h2.35v2.6h-2.35zM808.40 1012.85h2.35v2.6h-2.35zM815.45 1015.20h2.35v2.6h-2.35zM815.45 1017.55h2.35v2.6h-2.35zM627.45 1022.25h4.70v2.6h-4.70zM627.45 1024.60h4.70v2.6h-4.70zM744.95 1034.00h2.35v2.6h-2.35zM693.25 1036.35h2.35v2.6h-2.35zM808.40 1036.35h4.70v2.6h-4.70zM784.90 1038.70h7.05v2.6h-7.05zM808.40 1038.70h4.70v2.6h-4.70zM615.70 1041.05h7.05v2.6h-7.05zM784.90 1041.05h7.05v2.6h-7.05zM615.70 1043.40h7.05v2.6h-7.05zM777.85 1048.10h4.70v2.6h-4.70zM643.90 1055.15h2.35v2.6h-2.35zM714.40 1064.55h2.35v2.6h-2.35zM714.40 1066.90h2.35v2.6h-2.35zM820.15 1066.90h2.35v2.6h-2.35zM789.60 1081.00h2.35v2.6h-2.35zM596.90 1085.70h4.70v2.6h-4.70zM603.95 1085.70h7.05v2.6h-7.05zM594.55 1088.05h4.70v2.6h-4.70zM606.30 1088.05h7.05v2.6h-7.05zM782.55 1088.05h2.35v2.6h-2.35zM1689.65 1088.05h7.05v2.6h-7.05zM594.55 1090.40h7.05v2.6h-7.05zM606.30 1090.40h9.40v2.6h-9.40zM782.55 1090.40h2.35v2.6h-2.35zM1689.65 1090.40h7.05v2.6h-7.05zM594.55 1092.75h7.05v2.6h-7.05zM606.30 1092.75h9.40v2.6h-9.40zM1692.00 1092.75h7.05v2.6h-7.05zM596.90 1095.10h4.70v2.6h-4.70zM606.30 1095.10h11.75v2.6h-11.75zM620.40 1095.10h2.35v2.6h-2.35zM1689.65 1095.10h9.40v2.6h-9.40zM613.35 1097.45h7.05v2.6h-7.05zM799.00 1099.80h4.70v2.6h-4.70zM625.10 1102.15h4.70v2.6h-4.70zM625.10 1104.50h4.70v2.6h-4.70zM752.00 1109.20h2.35v2.6h-2.35zM752.00 1111.55h2.35v2.6h-2.35zM662.70 1113.90h4.70v2.6h-4.70zM752.00 1113.90h2.35v2.6h-2.35zM662.70 1116.25h4.70v2.6h-4.70zM672.10 1118.60h4.70v2.6h-4.70zM777.85 1118.60h4.70v2.6h-4.70zM815.45 1118.60h2.35v2.6h-2.35zM775.50 1120.95h2.35v2.6h-2.35zM784.90 1120.95h2.35v2.6h-2.35zM775.50 1123.30h2.35v2.6h-2.35zM784.90 1123.30h4.70v2.6h-4.70zM763.75 1125.65h4.70v2.6h-4.70zM775.50 1125.65h4.70v2.6h-4.70zM784.90 1125.65h4.70v2.6h-4.70zM742.60 1128.00h2.35v2.6h-2.35zM766.10 1128.00h2.35v2.6h-2.35zM775.50 1128.00h14.10v2.6h-14.10zM775.50 1130.35h14.10v2.6h-14.10zM777.85 1132.70h9.40v2.6h-9.40zM726.15 1153.85h7.05v2.6h-7.05zM726.15 1156.20h7.05v2.6h-7.05zM695.60 1200.85h7.05v2.6h-7.05zM695.60 1203.20h7.05v2.6h-7.05zM702.65 1210.25h4.70v2.6h-4.70zM702.65 1212.60h4.70v2.6h-4.70zM702.65 1214.95h4.70v2.6h-4.70zM728.50 1214.95h9.40v2.6h-9.40zM754.35 1214.95h4.70v2.6h-4.70zM726.15 1217.30h11.75v2.6h-11.75zM740.25 1217.30h2.35v2.6h-2.35zM749.65 1217.30h14.10v2.6h-14.10zM726.15 1219.65h4.70v2.6h-4.70zM733.20 1219.65h4.70v2.6h-4.70zM733.20 1222.00h9.40v2.6h-9.40zM728.50 1224.35h2.35v2.6h-2.35zM733.20 1224.35h7.05v2.6h-7.05zM636.85 1259.60h4.70v2.6h-4.70zM636.85 1261.95h7.05v2.6h-7.05zM629.80 1264.30h4.70v2.6h-4.70zM629.80 1266.65h7.05v2.6h-7.05zM632.15 1269.00h7.05v2.6h-7.05zM632.15 1271.35h7.05v2.6h-7.05zM646.25 1297.20h4.70v2.6h-4.70zM660.35 1297.20h2.35v2.6h-2.35zM643.90 1299.55h2.35v2.6h-2.35zM655.65 1299.55h2.35v2.6h-2.35zM643.90 1301.90h14.10v2.6h-14.10zM643.90 1304.25h14.10v2.6h-14.10zM660.35 1304.25h2.35v2.6h-2.35zM643.90 1306.60h18.80v2.6h-18.80zM643.90 1308.95h14.10v2.6h-14.10zM660.35 1308.95h2.35v2.6h-2.35zM643.90 1311.30h14.10v2.6h-14.10zM669.75 1311.30h7.05v2.6h-7.05zM650.95 1313.65h2.35v2.6h-2.35zM662.70 1313.65h14.10v2.6h-14.10zM662.70 1316.00h9.40v2.6h-9.40zM674.45 1316.00h2.35v2.6h-2.35zM646.25 1318.35h7.05v2.6h-7.05zM662.70 1318.35h14.10v2.6h-14.10zM679.15 1318.35h4.70v2.6h-4.70zM646.25 1320.70h9.40v2.6h-9.40zM669.75 1320.70h7.05v2.6h-7.05zM679.15 1320.70h4.70v2.6h-4.70zM667.40 1323.05h16.45v2.6h-16.45zM662.70 1325.40h21.15v2.6h-21.15zM662.70 1327.75h7.05v2.6h-7.05zM679.15 1327.75h4.70v2.6h-4.70zM622.75 1330.10h2.35v2.6h-2.35zM627.45 1330.10h2.35v2.6h-2.35zM662.70 1330.10h4.70v2.6h-4.70zM679.15 1330.10h4.70v2.6h-4.70zM622.75 1332.45h9.40v2.6h-9.40zM662.70 1332.45h2.35v2.6h-2.35zM681.50 1332.45h2.35v2.6h-2.35zM667.40 1334.80h7.05v2.6h-7.05zM1588.60 1341.85h4.70v2.6h-4.70zM1586.25 1344.20h11.75v2.6h-11.75zM1588.60 1346.55h9.40v2.6h-9.40zM1588.60 1348.90h9.40v2.6h-9.40zM1588.60 1351.25h9.40v2.6h-9.40zM1588.60 1353.60h4.70v2.6h-4.70zM1595.65 1360.65h7.05v2.6h-7.05zM1595.65 1363.00h7.05v2.6h-7.05zM1595.65 1365.35h9.40v2.6h-9.40zM789.60 1367.70h2.35v2.6h-2.35zM784.90 1370.05h7.05v2.6h-7.05zM784.90 1372.40h7.05v2.6h-7.05zM784.90 1374.75h7.05v2.6h-7.05zM801.35 1377.10h2.35v2.6h-2.35zM801.35 1381.80h2.35v2.6h-2.35zM801.35 1384.15h7.05v2.6h-7.05zM801.35 1386.50h7.05v2.6h-7.05zM589.85 1407.65h7.05v2.6h-7.05zM589.85 1410.00h4.70v2.6h-4.70zM587.50 1412.35h4.70v2.6h-4.70zM594.55 1414.70h2.35v2.6h-2.35zM1626.20 1424.10h2.35v2.6h-2.35zM1623.85 1426.45h7.05v2.6h-7.05zM1633.25 1426.45h4.70v2.6h-4.70zM1640.30 1426.45h4.70v2.6h-4.70zM592.20 1428.80h11.75v2.6h-11.75zM1616.80 1428.80h18.80v2.6h-18.80zM592.20 1431.15h9.40v2.6h-9.40zM1614.45 1431.15h21.15v2.6h-21.15zM1637.95 1431.15h4.70v2.6h-4.70zM592.20 1433.50h7.05v2.6h-7.05zM1616.80 1433.50h14.10v2.6h-14.10zM1637.95 1433.50h7.05v2.6h-7.05zM592.20 1435.85h9.40v2.6h-9.40zM1614.45 1435.85h16.45v2.6h-16.45zM1642.65 1435.85h2.35v2.6h-2.35zM1614.45 1438.20h21.15v2.6h-21.15zM641.55 1440.55h4.70v2.6h-4.70zM1614.45 1440.55h23.50v2.6h-23.50zM641.55 1442.90h4.70v2.6h-4.70zM1614.45 1442.90h14.10v2.6h-14.10zM1633.25 1442.90h7.05v2.6h-7.05zM641.55 1445.25h9.40v2.6h-9.40zM655.65 1445.25h2.35v2.6h-2.35zM1614.45 1445.25h14.10v2.6h-14.10zM1633.25 1445.25h7.05v2.6h-7.05zM636.85 1447.60h11.75v2.6h-11.75zM655.65 1447.60h2.35v2.6h-2.35zM1614.45 1447.60h9.40v2.6h-9.40zM1630.90 1447.60h9.40v2.6h-9.40zM1642.65 1447.60h4.70v2.6h-4.70zM639.20 1449.95h14.10v2.6h-14.10zM655.65 1449.95h2.35v2.6h-2.35zM794.30 1449.95h4.70v2.6h-4.70zM1614.45 1449.95h21.15v2.6h-21.15zM1645.00 1449.95h2.35v2.6h-2.35zM636.85 1452.30h16.45v2.6h-16.45zM737.90 1452.30h7.05v2.6h-7.05zM796.65 1452.30h2.35v2.6h-2.35zM1614.45 1452.30h7.05v2.6h-7.05zM1626.20 1452.30h7.05v2.6h-7.05zM1635.60 1452.30h2.35v2.6h-2.35zM1642.65 1452.30h4.70v2.6h-4.70zM636.85 1454.65h16.45v2.6h-16.45zM655.65 1454.65h2.35v2.6h-2.35zM1616.80 1454.65h2.35v2.6h-2.35zM1626.20 1454.65h11.75v2.6h-11.75zM639.20 1457.00h18.80v2.6h-18.80zM737.90 1457.00h4.70v2.6h-4.70zM799.00 1457.00h2.35v2.6h-2.35zM1628.55 1457.00h9.40v2.6h-9.40zM639.20 1459.35h18.80v2.6h-18.80zM735.55 1459.35h7.05v2.6h-7.05zM801.35 1459.35h2.35v2.6h-2.35zM1626.20 1459.35h11.75v2.6h-11.75zM643.90 1461.70h11.75v2.6h-11.75zM730.85 1461.70h2.35v2.6h-2.35zM735.55 1461.70h7.05v2.6h-7.05zM648.60 1464.05h2.35v2.6h-2.35zM709.70 1464.05h4.70v2.6h-4.70zM749.65 1464.05h9.40v2.6h-9.40zM648.60 1466.40h2.35v2.6h-2.35zM747.30 1466.40h9.40v2.6h-9.40zM737.90 1468.75h23.50v2.6h-23.50zM763.75 1468.75h4.70v2.6h-4.70zM787.25 1468.75h2.35v2.6h-2.35zM705.00 1471.10h4.70v2.6h-4.70zM737.90 1471.10h4.70v2.6h-4.70zM763.75 1471.10h4.70v2.6h-4.70zM789.60 1471.10h2.35v2.6h-2.35zM775.50 1475.80h4.70v2.6h-4.70zM824.85 1475.80h2.35v2.6h-2.35zM777.85 1478.15h2.35v2.6h-2.35zM824.85 1478.15h2.35v2.6h-2.35zM824.85 1480.50h2.35v2.6h-2.35zM627.45 1482.85h2.35v2.6h-2.35zM632.15 1482.85h2.35v2.6h-2.35zM782.55 1482.85h7.05v2.6h-7.05zM810.75 1482.85h2.35v2.6h-2.35zM726.15 1485.20h2.35v2.6h-2.35zM730.85 1485.20h2.35v2.6h-2.35zM780.20 1485.20h14.10v2.6h-14.10zM810.75 1485.20h2.35v2.6h-2.35zM625.10 1487.55h2.35v2.6h-2.35zM650.95 1487.55h2.35v2.6h-2.35zM726.15 1487.55h2.35v2.6h-2.35zM730.85 1487.55h2.35v2.6h-2.35zM780.20 1487.55h18.80v2.6h-18.80zM810.75 1487.55h2.35v2.6h-2.35zM613.35 1489.90h4.70v2.6h-4.70zM625.10 1489.90h2.35v2.6h-2.35zM681.50 1489.90h4.70v2.6h-4.70zM695.60 1489.90h2.35v2.6h-2.35zM726.15 1489.90h4.70v2.6h-4.70zM773.15 1489.90h2.35v2.6h-2.35zM780.20 1489.90h18.80v2.6h-18.80zM613.35 1492.25h4.70v2.6h-4.70zM681.50 1492.25h4.70v2.6h-4.70zM726.15 1492.25h4.70v2.6h-4.70zM782.55 1492.25h16.45v2.6h-16.45zM726.15 1494.60h4.70v2.6h-4.70zM787.25 1494.60h9.40v2.6h-9.40zM632.15 1496.95h2.35v2.6h-2.35zM667.40 1496.95h4.70v2.6h-4.70zM712.05 1496.95h4.70v2.6h-4.70zM632.15 1499.30h4.70v2.6h-4.70zM639.20 1499.30h2.35v2.6h-2.35zM658.00 1499.30h2.35v2.6h-2.35zM667.40 1499.30h4.70v2.6h-4.70zM714.40 1499.30h2.35v2.6h-2.35zM634.50 1501.65h2.35v2.6h-2.35zM639.20 1501.65h2.35v2.6h-2.35zM658.00 1501.65h2.35v2.6h-2.35zM636.85 1504.00h7.05v2.6h-7.05zM658.00 1504.00h2.35v2.6h-2.35zM723.80 1504.00h4.70v2.6h-4.70zM639.20 1506.35h4.70v2.6h-4.70zM662.70 1506.35h7.05v2.6h-7.05zM674.45 1506.35h4.70v2.6h-4.70zM716.75 1506.35h2.35v2.6h-2.35zM726.15 1506.35h2.35v2.6h-2.35zM808.40 1506.35h2.35v2.6h-2.35zM636.85 1508.70h7.05v2.6h-7.05zM662.70 1508.70h16.45v2.6h-16.45zM714.40 1508.70h4.70v2.6h-4.70zM808.40 1508.70h2.35v2.6h-2.35zM636.85 1511.05h4.70v2.6h-4.70zM662.70 1511.05h7.05v2.6h-7.05zM672.10 1511.05h4.70v2.6h-4.70zM714.40 1511.05h4.70v2.6h-4.70zM728.50 1511.05h2.35v2.6h-2.35zM803.70 1511.05h2.35v2.6h-2.35zM665.05 1513.40h2.35v2.6h-2.35zM672.10 1513.40h7.05v2.6h-7.05zM712.05 1513.40h2.35v2.6h-2.35zM728.50 1513.40h2.35v2.6h-2.35zM756.70 1513.40h4.70v2.6h-4.70zM803.70 1513.40h4.70v2.6h-4.70zM653.30 1515.75h2.35v2.6h-2.35zM728.50 1515.75h9.40v2.6h-9.40zM759.05 1515.75h2.35v2.6h-2.35zM803.70 1515.75h4.70v2.6h-4.70zM667.40 1518.10h4.70v2.6h-4.70zM803.70 1518.10h4.70v2.6h-4.70zM658.00 1520.45h4.70v2.6h-4.70zM744.95 1520.45h4.70v2.6h-4.70zM672.10 1522.80h2.35v2.6h-2.35zM721.45 1522.80h2.35v2.6h-2.35zM721.45 1525.15h2.35v2.6h-2.35zM721.45 1527.50h2.35v2.6h-2.35zM726.15 1527.50h4.70v2.6h-4.70zM759.05 1527.50h2.35v2.6h-2.35zM726.15 1529.85h4.70v2.6h-4.70zM629.80 1532.20h4.70v2.6h-4.70zM629.80 1534.55h4.70v2.6h-4.70zM629.80 1536.90h7.05v2.6h-7.05zM780.20 1536.90h2.35v2.6h-2.35zM803.70 1536.90h2.35v2.6h-2.35zM780.20 1539.25h2.35v2.6h-2.35zM806.05 1539.25h2.35v2.6h-2.35zM770.80 1541.60h7.05v2.6h-7.05zM806.05 1543.95h2.35v2.6h-2.35zM817.80 1543.95h4.70v2.6h-4.70zM808.40 1546.30h2.35v2.6h-2.35zM820.15 1546.30h2.35v2.6h-2.35zM824.85 1546.30h4.70v2.6h-4.70zM791.95 1548.65h2.35v2.6h-2.35zM796.65 1551.00h2.35v2.6h-2.35zM806.05 1551.00h4.70v2.6h-4.70zM634.50 1553.35h2.35v2.6h-2.35zM688.55 1553.35h4.70v2.6h-4.70zM747.30 1553.35h2.35v2.6h-2.35zM796.65 1553.35h2.35v2.6h-2.35zM808.40 1553.35h2.35v2.6h-2.35zM636.85 1555.70h2.35v2.6h-2.35zM747.30 1555.70h2.35v2.6h-2.35zM796.65 1555.70h2.35v2.6h-2.35zM747.30 1558.05h2.35v2.6h-2.35zM697.95 1560.40h2.35v2.6h-2.35zM697.95 1562.75h2.35v2.6h-2.35zM641.55 1565.10h2.35v2.6h-2.35zM686.20 1567.45h2.35v2.6h-2.35zM686.20 1569.80h2.35v2.6h-2.35zM686.20 1572.15h2.35v2.6h-2.35zM660.35 1574.50h2.35v2.6h-2.35zM627.45 1576.85h4.70v2.6h-4.70zM650.95 1576.85h4.70v2.6h-4.70zM660.35 1576.85h2.35v2.6h-2.35zM648.60 1579.20h7.05v2.6h-7.05zM660.35 1579.20h2.35v2.6h-2.35zM641.55 1581.55h2.35v2.6h-2.35zM646.25 1581.55h9.40v2.6h-9.40zM636.85 1583.90h2.35v2.6h-2.35zM641.55 1583.90h14.10v2.6h-14.10zM639.20 1586.25h9.40v2.6h-9.40zM650.95 1586.25h7.05v2.6h-7.05zM662.70 1586.25h2.35v2.6h-2.35zM622.75 1588.60h2.35v2.6h-2.35zM641.55 1588.60h7.05v2.6h-7.05zM650.95 1588.60h7.05v2.6h-7.05zM625.10 1590.95h2.35v2.6h-2.35zM641.55 1590.95h7.05v2.6h-7.05zM650.95 1590.95h14.10v2.6h-14.10zM613.35 1609.75h2.35v2.6h-2.35zM646.25 1614.45h2.35v2.6h-2.35zM648.60 1616.80h11.75v2.6h-11.75zM662.70 1616.80h2.35v2.6h-2.35zM648.60 1619.15h16.45v2.6h-16.45zM615.70 1621.50h18.80v2.6h-18.80zM648.60 1621.50h11.75v2.6h-11.75zM662.70 1621.50h2.35v2.6h-2.35zM705.00 1621.50h4.70v2.6h-4.70zM615.70 1623.85h9.40v2.6h-9.40zM627.45 1623.85h9.40v2.6h-9.40zM639.20 1623.85h11.75v2.6h-11.75zM658.00 1623.85h2.35v2.6h-2.35zM662.70 1623.85h2.35v2.6h-2.35zM705.00 1623.85h4.70v2.6h-4.70zM615.70 1626.20h7.05v2.6h-7.05zM627.45 1626.20h9.40v2.6h-9.40zM641.55 1626.20h9.40v2.6h-9.40zM702.65 1626.20h7.05v2.6h-7.05zM615.70 1628.55h4.70v2.6h-4.70zM627.45 1628.55h4.70v2.6h-4.70zM634.50 1628.55h2.35v2.6h-2.35zM702.65 1628.55h7.05v2.6h-7.05zM615.70 1630.90h4.70v2.6h-4.70zM634.50 1630.90h2.35v2.6h-2.35zM702.65 1630.90h7.05v2.6h-7.05zM615.70 1633.25h7.05v2.6h-7.05zM634.50 1633.25h2.35v2.6h-2.35zM690.90 1633.25h2.35v2.6h-2.35zM707.35 1633.25h2.35v2.6h-2.35zM613.35 1635.60h14.10v2.6h-14.10zM634.50 1635.60h2.35v2.6h-2.35zM690.90 1635.60h2.35v2.6h-2.35zM615.70 1637.95h16.45v2.6h-16.45zM690.90 1637.95h2.35v2.6h-2.35zM676.80 1642.65h2.35v2.6h-2.35zM676.80 1645.00h2.35v2.6h-2.35zM707.35 1645.00h4.70v2.6h-4.70zM707.35 1647.35h4.70v2.6h-4.70zM721.45 1647.35h2.35v2.6h-2.35zM676.80 1649.70h2.35v2.6h-2.35zM686.20 1649.70h4.70v2.6h-4.70zM707.35 1649.70h7.05v2.6h-7.05zM676.80 1652.05h2.35v2.6h-2.35zM686.20 1652.05h4.70v2.6h-4.70zM707.35 1652.05h9.40v2.6h-9.40zM674.45 1654.40h7.05v2.6h-7.05zM707.35 1654.40h9.40v2.6h-9.40zM665.05 1656.75h25.85v2.6h-25.85zM709.70 1656.75h11.75v2.6h-11.75zM648.60 1659.10h4.70v2.6h-4.70zM662.70 1659.10h28.20v2.6h-28.20zM709.70 1659.10h11.75v2.6h-11.75zM650.95 1661.45h2.35v2.6h-2.35zM662.70 1661.45h25.85v2.6h-25.85zM707.35 1661.45h14.10v2.6h-14.10zM662.70 1663.80h2.35v2.6h-2.35zM674.45 1663.80h16.45v2.6h-16.45zM705.00 1663.80h9.40v2.6h-9.40zM716.75 1663.80h2.35v2.6h-2.35zM672.10 1666.15h21.15v2.6h-21.15zM705.00 1666.15h7.05v2.6h-7.05zM665.05 1668.50h2.35v2.6h-2.35zM674.45 1668.50h18.80v2.6h-18.80zM707.35 1668.50h4.70v2.6h-4.70zM674.45 1670.85h9.40v2.6h-9.40zM686.20 1670.85h7.05v2.6h-7.05zM662.70 1673.20h14.10v2.6h-14.10zM681.50 1673.20h7.05v2.6h-7.05zM672.10 1675.55h4.70v2.6h-4.70zM683.85 1675.55h4.70v2.6h-4.70zM662.70 1677.90h14.10v2.6h-14.10zM681.50 1677.90h4.70v2.6h-4.70zM688.55 1677.90h7.05v2.6h-7.05zM625.10 1680.25h2.35v2.6h-2.35zM662.70 1680.25h18.80v2.6h-18.80zM683.85 1680.25h11.75v2.6h-11.75zM627.45 1682.60h2.35v2.6h-2.35zM662.70 1682.60h14.10v2.6h-14.10zM679.15 1682.60h16.45v2.6h-16.45zM615.70 1684.95h2.35v2.6h-2.35zM662.70 1684.95h4.70v2.6h-4.70zM669.75 1684.95h7.05v2.6h-7.05zM679.15 1684.95h14.10v2.6h-14.10zM615.70 1687.30h7.05v2.6h-7.05zM662.70 1687.30h9.40v2.6h-9.40zM679.15 1687.30h9.40v2.6h-9.40zM693.25 1687.30h2.35v2.6h-2.35zM618.05 1689.65h4.70v2.6h-4.70zM629.80 1689.65h2.35v2.6h-2.35zM665.05 1689.65h4.70v2.6h-4.70zM679.15 1689.65h9.40v2.6h-9.40zM615.70 1692.00h7.05v2.6h-7.05zM632.15 1692.00h2.35v2.6h-2.35zM674.45 1692.00h11.75v2.6h-11.75zM615.70 1694.35h2.35v2.6h-2.35zM676.80 1694.35h7.05v2.6h-7.05zM681.50 1696.70h2.35v2.6h-2.35zM681.50 1699.05h2.35v2.6h-2.35zM690.90 1699.05h4.70v2.6h-4.70zM690.90 1701.40h7.05v2.6h-7.05zM606.30 1703.75h4.70v2.6h-4.70zM693.25 1703.75h4.70v2.6h-4.70zM660.35 1706.10h4.70v2.6h-4.70zM667.40 1706.10h2.35v2.6h-2.35zM611.00 1708.45h2.35v2.6h-2.35zM662.70 1708.45h2.35v2.6h-2.35zM667.40 1708.45h2.35v2.6h-2.35zM665.05 1710.80h2.35v2.6h-2.35zM662.70 1713.15h4.70v2.6h-4.70zM662.70 1715.50h4.70v2.6h-4.70zM662.70 1717.85h4.70v2.6h-4.70zM665.05 1720.20h2.35v2.6h-2.35zM667.40 1731.95h2.35v2.6h-2.35zM667.40 1734.30h2.35v2.6h-2.35zM667.40 1736.65h2.35v2.6h-2.35zM674.45 1774.25h4.70v2.6h-4.70zM573.40 1776.60h4.70v2.6h-4.70zM665.05 1776.60h2.35v2.6h-2.35zM676.80 1776.60h4.70v2.6h-4.70zM700.30 1776.60h2.35v2.6h-2.35zM571.05 1778.95h7.05v2.6h-7.05zM662.70 1778.95h4.70v2.6h-4.70zM676.80 1778.95h4.70v2.6h-4.70zM697.95 1778.95h7.05v2.6h-7.05zM714.40 1778.95h2.35v2.6h-2.35zM573.40 1781.30h4.70v2.6h-4.70zM662.70 1781.30h4.70v2.6h-4.70zM674.45 1781.30h4.70v2.6h-4.70zM697.95 1781.30h7.05v2.6h-7.05zM742.60 1781.30h2.35v2.6h-2.35zM660.35 1783.65h7.05v2.6h-7.05zM674.45 1783.65h4.70v2.6h-4.70zM716.75 1783.65h2.35v2.6h-2.35zM744.95 1783.65h2.35v2.6h-2.35zM639.20 1786.00h2.35v2.6h-2.35zM697.95 1788.35h2.35v2.6h-2.35zM660.35 1790.70h4.70v2.6h-4.70zM688.55 1790.70h2.35v2.6h-2.35zM697.95 1790.70h2.35v2.6h-2.35zM660.35 1793.05h4.70v2.6h-4.70zM683.85 1793.05h7.05v2.6h-7.05zM697.95 1793.05h4.70v2.6h-4.70zM578.10 1795.40h2.35v2.6h-2.35zM686.20 1795.40h2.35v2.6h-2.35zM578.10 1797.75h2.35v2.6h-2.35zM575.75 1800.10h4.70v2.6h-4.70zM625.10 1800.10h4.70v2.6h-4.70zM686.20 1804.80h4.70v2.6h-4.70zM737.90 1804.80h2.35v2.6h-2.35zM683.85 1807.15h7.05v2.6h-7.05zM686.20 1809.50h4.70v2.6h-4.70zM737.90 1809.50h4.70v2.6h-4.70zM683.85 1811.85h7.05v2.6h-7.05zM740.25 1811.85h4.70v2.6h-4.70zM747.30 1811.85h2.35v2.6h-2.35zM749.65 1814.20h2.35v2.6h-2.35zM622.75 1816.55h2.35v2.6h-2.35zM599.25 1818.90h4.70v2.6h-4.70zM622.75 1818.90h2.35v2.6h-2.35zM599.25 1821.25h4.70v2.6h-4.70zM599.25 1823.60h4.70v2.6h-4.70zM606.30 1823.60h4.70v2.6h-4.70zM615.70 1823.60h2.35v2.6h-2.35zM608.65 1825.95h2.35v2.6h-2.35zM615.70 1825.95h2.35v2.6h-2.35zM723.80 1828.30h2.35v2.6h-2.35zM568.70 1830.65h4.70v2.6h-4.70zM730.85 1830.65h4.70v2.6h-4.70zM571.05 1833.00h2.35v2.6h-2.35zM733.20 1833.00h2.35v2.6h-2.35zM688.55 1840.05h4.70v2.6h-4.70zM632.15 1842.40h2.35v2.6h-2.35zM688.55 1842.40h4.70v2.6h-4.70zM688.55 1844.75h4.70v2.6h-4.70zM695.60 1847.10h2.35v2.6h-2.35zM695.60 1849.45h2.35v2.6h-2.35zM695.60 1851.80h2.35v2.6h-2.35zM676.80 1861.20h2.35v2.6h-2.35zM688.55 1861.20h2.35v2.6h-2.35zM686.20 1863.55h2.35v2.6h-2.35zM688.55 1865.90h2.35v2.6h-2.35zM690.90 1870.60h2.35v2.6h-2.35zM690.90 1872.95h2.35v2.6h-2.35zM690.90 1875.30h2.35v2.6h-2.35z"/>
<path fill="#17b493" d="M869.50 665.05h2.35v2.6h-2.35zM869.50 667.40h2.35v2.6h-2.35zM869.50 669.75h2.35v2.6h-2.35zM869.50 686.20h2.35v2.6h-2.35zM869.50 688.55h2.35v2.6h-2.35zM876.55 700.30h7.05v2.6h-7.05zM874.20 702.65h9.40v2.6h-9.40zM909.45 791.95h4.70v2.6h-4.70zM909.45 794.30h4.70v2.6h-4.70zM909.45 796.65h4.70v2.6h-4.70zM1809.50 930.60h4.70v2.6h-4.70zM1809.50 932.95h4.70v2.6h-4.70zM552.25 942.35h4.70v2.6h-4.70zM1804.80 942.35h4.70v2.6h-4.70zM549.90 944.70h7.05v2.6h-7.05zM1807.15 944.70h2.35v2.6h-2.35zM549.90 947.05h4.70v2.6h-4.70zM418.30 951.75h2.35v2.6h-2.35zM423.00 951.75h2.35v2.6h-2.35zM432.40 951.75h2.35v2.6h-2.35zM524.05 951.75h4.70v2.6h-4.70zM639.20 951.75h4.70v2.6h-4.70zM418.30 954.10h7.05v2.6h-7.05zM432.40 954.10h9.40v2.6h-9.40zM524.05 954.10h4.70v2.6h-4.70zM641.55 954.10h2.35v2.6h-2.35zM420.65 956.45h4.70v2.6h-4.70zM451.20 956.45h4.70v2.6h-4.70zM453.55 958.80h4.70v2.6h-4.70zM455.90 961.15h4.70v2.6h-4.70zM415.95 963.50h2.35v2.6h-2.35zM455.90 963.50h2.35v2.6h-2.35zM411.25 968.20h9.40v2.6h-9.40zM425.35 968.20h2.35v2.6h-2.35zM408.90 970.55h9.40v2.6h-9.40zM425.35 970.55h4.70v2.6h-4.70zM573.40 970.55h9.40v2.6h-9.40zM408.90 972.90h21.15v2.6h-21.15zM573.40 972.90h7.05v2.6h-7.05zM408.90 975.25h7.05v2.6h-7.05zM418.30 975.25h11.75v2.6h-11.75zM448.85 975.25h4.70v2.6h-4.70zM573.40 975.25h7.05v2.6h-7.05zM1708.45 975.25h7.05v2.6h-7.05zM408.90 977.60h7.05v2.6h-7.05zM418.30 977.60h11.75v2.6h-11.75zM448.85 977.60h4.70v2.6h-4.70zM538.15 977.60h4.70v2.6h-4.70zM545.20 977.60h2.35v2.6h-2.35zM399.50 979.95h2.35v2.6h-2.35zM408.90 979.95h21.15v2.6h-21.15zM448.85 979.95h4.70v2.6h-4.70zM540.50 979.95h7.05v2.6h-7.05zM556.95 979.95h9.40v2.6h-9.40zM568.70 979.95h2.35v2.6h-2.35zM1755.45 979.95h2.35v2.6h-2.35zM1786.00 979.95h4.70v2.6h-4.70zM397.15 982.30h7.05v2.6h-7.05zM408.90 982.30h21.15v2.6h-21.15zM556.95 982.30h14.10v2.6h-14.10zM1755.45 982.30h2.35v2.6h-2.35zM1786.00 982.30h4.70v2.6h-4.70zM246.75 984.65h2.35v2.6h-2.35zM397.15 984.65h4.70v2.6h-4.70zM408.90 984.65h21.15v2.6h-21.15zM484.10 984.65h7.05v2.6h-7.05zM556.95 984.65h11.75v2.6h-11.75zM242.05 987.00h2.35v2.6h-2.35zM251.45 987.00h2.35v2.6h-2.35zM397.15 987.00h4.70v2.6h-4.70zM408.90 987.00h21.15v2.6h-21.15zM484.10 987.00h4.70v2.6h-4.70zM615.70 987.00h4.70v2.6h-4.70zM242.05 989.35h11.75v2.6h-11.75zM397.15 989.35h9.40v2.6h-9.40zM411.25 989.35h9.40v2.6h-9.40zM423.00 989.35h2.35v2.6h-2.35zM491.15 989.35h2.35v2.6h-2.35zM528.75 989.35h4.70v2.6h-4.70zM615.70 989.35h4.70v2.6h-4.70zM622.75 989.35h4.70v2.6h-4.70zM242.05 991.70h11.75v2.6h-11.75zM397.15 991.70h9.40v2.6h-9.40zM430.05 991.70h4.70v2.6h-4.70zM484.10 991.70h4.70v2.6h-4.70zM505.25 991.70h2.35v2.6h-2.35zM526.40 991.70h11.75v2.6h-11.75zM622.75 991.70h4.70v2.6h-4.70zM244.40 994.05h7.05v2.6h-7.05zM397.15 994.05h9.40v2.6h-9.40zM427.70 994.05h9.40v2.6h-9.40zM462.95 994.05h7.05v2.6h-7.05zM484.10 994.05h7.05v2.6h-7.05zM502.90 994.05h7.05v2.6h-7.05zM524.05 994.05h14.10v2.6h-14.10zM401.85 996.40h4.70v2.6h-4.70zM427.70 996.40h9.40v2.6h-9.40zM484.10 996.40h7.05v2.6h-7.05zM502.90 996.40h7.05v2.6h-7.05zM521.70 996.40h16.45v2.6h-16.45zM1769.55 996.40h2.35v2.6h-2.35zM427.70 998.75h9.40v2.6h-9.40zM509.95 998.75h2.35v2.6h-2.35zM524.05 998.75h11.75v2.6h-11.75zM1753.10 998.75h4.70v2.6h-4.70zM430.05 1001.10h4.70v2.6h-4.70zM509.95 1001.10h2.35v2.6h-2.35zM594.55 1001.10h4.70v2.6h-4.70zM611.00 1001.10h4.70v2.6h-4.70zM742.60 1001.10h4.70v2.6h-4.70zM1753.10 1001.10h4.70v2.6h-4.70zM397.15 1003.45h4.70v2.6h-4.70zM509.95 1003.45h2.35v2.6h-2.35zM596.90 1003.45h2.35v2.6h-2.35zM611.00 1003.45h7.05v2.6h-7.05zM744.95 1003.45h2.35v2.6h-2.35zM1649.70 1003.45h2.35v2.6h-2.35zM399.50 1005.80h4.70v2.6h-4.70zM420.65 1005.80h9.40v2.6h-9.40zM500.55 1005.80h4.70v2.6h-4.70zM611.00 1005.80h7.05v2.6h-7.05zM707.35 1005.80h2.35v2.6h-2.35zM423.00 1008.15h7.05v2.6h-7.05zM502.90 1008.15h2.35v2.6h-2.35zM709.70 1008.15h2.35v2.6h-2.35zM423.00 1010.50h7.05v2.6h-7.05zM1739.00 1010.50h2.35v2.6h-2.35zM622.75 1012.85h2.35v2.6h-2.35zM1736.65 1012.85h7.05v2.6h-7.05zM531.10 1015.20h7.05v2.6h-7.05zM622.75 1015.20h2.35v2.6h-2.35zM1736.65 1015.20h4.70v2.6h-4.70zM404.20 1017.55h2.35v2.6h-2.35zM531.10 1017.55h7.05v2.6h-7.05zM622.75 1017.55h2.35v2.6h-2.35zM1736.65 1017.55h7.05v2.6h-7.05zM406.55 1019.90h2.35v2.6h-2.35zM484.10 1022.25h2.35v2.6h-2.35zM406.55 1024.60h2.35v2.6h-2.35zM481.75 1024.60h7.05v2.6h-7.05zM740.25 1024.60h4.70v2.6h-4.70zM1663.80 1024.60h4.70v2.6h-4.70zM481.75 1026.95h2.35v2.6h-2.35zM491.15 1026.95h2.35v2.6h-2.35zM672.10 1026.95h2.35v2.6h-2.35zM1663.80 1026.95h4.70v2.6h-4.70zM397.15 1029.30h4.70v2.6h-4.70zM481.75 1029.30h2.35v2.6h-2.35zM486.45 1029.30h9.40v2.6h-9.40zM545.20 1029.30h2.35v2.6h-2.35zM672.10 1029.30h2.35v2.6h-2.35zM709.70 1029.30h4.70v2.6h-4.70zM397.15 1031.65h4.70v2.6h-4.70zM455.90 1031.65h2.35v2.6h-2.35zM547.55 1031.65h2.35v2.6h-2.35zM709.70 1031.65h4.70v2.6h-4.70zM455.90 1034.00h2.35v2.6h-2.35zM455.90 1036.35h2.35v2.6h-2.35zM514.65 1036.35h4.70v2.6h-4.70zM596.90 1036.35h7.05v2.6h-7.05zM517.00 1038.70h2.35v2.6h-2.35zM578.10 1038.70h4.70v2.6h-4.70zM596.90 1038.70h7.05v2.6h-7.05zM406.55 1041.05h2.35v2.6h-2.35zM575.75 1041.05h7.05v2.6h-7.05zM594.55 1041.05h2.35v2.6h-2.35zM580.45 1043.40h2.35v2.6h-2.35zM596.90 1043.40h2.35v2.6h-2.35zM740.25 1050.45h2.35v2.6h-2.35zM411.25 1052.80h2.35v2.6h-2.35zM594.55 1052.80h4.70v2.6h-4.70zM740.25 1052.80h2.35v2.6h-2.35zM411.25 1055.15h2.35v2.6h-2.35zM575.75 1055.15h7.05v2.6h-7.05zM592.20 1055.15h11.75v2.6h-11.75zM740.25 1055.15h2.35v2.6h-2.35zM1804.80 1055.15h4.70v2.6h-4.70zM411.25 1057.50h2.35v2.6h-2.35zM575.75 1057.50h7.05v2.6h-7.05zM592.20 1057.50h9.40v2.6h-9.40zM1807.15 1057.50h2.35v2.6h-2.35zM575.75 1059.85h2.35v2.6h-2.35zM594.55 1059.85h9.40v2.6h-9.40zM599.25 1062.20h4.70v2.6h-4.70zM625.10 1062.20h4.70v2.6h-4.70zM594.55 1064.55h9.40v2.6h-9.40zM625.10 1064.55h4.70v2.6h-4.70zM596.90 1066.90h7.05v2.6h-7.05zM627.45 1066.90h7.05v2.6h-7.05zM737.90 1066.90h2.35v2.6h-2.35zM481.75 1069.25h7.05v2.6h-7.05zM596.90 1069.25h4.70v2.6h-4.70zM531.10 1076.30h4.70v2.6h-4.70zM561.65 1076.30h2.35v2.6h-2.35zM592.20 1076.30h4.70v2.6h-4.70zM611.00 1076.30h7.05v2.6h-7.05zM1722.55 1076.30h2.35v2.6h-2.35zM235.00 1078.65h4.70v2.6h-4.70zM531.10 1078.65h4.70v2.6h-4.70zM561.65 1078.65h2.35v2.6h-2.35zM592.20 1078.65h4.70v2.6h-4.70zM611.00 1078.65h7.05v2.6h-7.05zM1724.90 1078.65h2.35v2.6h-2.35zM491.15 1081.00h4.70v2.6h-4.70zM556.95 1081.00h2.35v2.6h-2.35zM561.65 1081.00h2.35v2.6h-2.35zM493.50 1083.35h2.35v2.6h-2.35zM1786.00 1083.35h4.70v2.6h-4.70zM531.10 1085.70h2.35v2.6h-2.35zM1786.00 1085.70h4.70v2.6h-4.70zM662.70 1088.05h4.70v2.6h-4.70zM1757.80 1088.05h4.70v2.6h-4.70zM1786.00 1088.05h4.70v2.6h-4.70zM660.35 1090.40h2.35v2.6h-2.35zM1760.15 1090.40h2.35v2.6h-2.35zM481.75 1092.75h7.05v2.6h-7.05zM521.70 1095.10h2.35v2.6h-2.35zM669.75 1095.10h2.35v2.6h-2.35zM521.70 1097.45h2.35v2.6h-2.35zM575.75 1097.45h7.05v2.6h-7.05zM662.70 1097.45h4.70v2.6h-4.70zM1814.20 1097.45h2.35v2.6h-2.35zM660.35 1099.80h7.05v2.6h-7.05zM1816.55 1099.80h2.35v2.6h-2.35zM430.05 1102.15h2.35v2.6h-2.35zM660.35 1102.15h9.40v2.6h-9.40zM1840.05 1102.15h4.70v2.6h-4.70zM430.05 1104.50h2.35v2.6h-2.35zM665.05 1104.50h7.05v2.6h-7.05zM1783.65 1104.50h7.05v2.6h-7.05zM1840.05 1104.50h4.70v2.6h-4.70zM526.40 1106.85h2.35v2.6h-2.35zM526.40 1109.20h2.35v2.6h-2.35zM1816.55 1109.20h4.70v2.6h-4.70zM380.70 1111.55h4.70v2.6h-4.70zM1816.55 1111.55h4.70v2.6h-4.70zM380.70 1113.90h7.05v2.6h-7.05zM380.70 1116.25h4.70v2.6h-4.70zM484.10 1116.25h4.70v2.6h-4.70zM484.10 1118.60h4.70v2.6h-4.70zM744.95 1123.30h4.70v2.6h-4.70zM744.95 1125.65h4.70v2.6h-4.70zM484.10 1128.00h4.70v2.6h-4.70zM484.10 1130.35h4.70v2.6h-4.70zM702.65 1130.35h2.35v2.6h-2.35zM601.60 1135.05h4.70v2.6h-4.70zM317.25 1142.10h2.35v2.6h-2.35zM317.25 1144.45h2.35v2.6h-2.35zM639.20 1151.50h2.35v2.6h-2.35zM646.25 1151.50h2.35v2.6h-2.35zM639.20 1153.85h2.35v2.6h-2.35zM646.25 1153.85h2.35v2.6h-2.35zM639.20 1156.20h2.35v2.6h-2.35zM646.25 1156.20h2.35v2.6h-2.35zM578.10 1158.55h9.40v2.6h-9.40zM629.80 1158.55h7.05v2.6h-7.05zM578.10 1160.90h9.40v2.6h-9.40zM378.35 1163.25h4.70v2.6h-4.70zM578.10 1163.25h7.05v2.6h-7.05zM378.35 1165.60h4.70v2.6h-4.70zM578.10 1165.60h4.70v2.6h-4.70zM472.35 1167.95h7.05v2.6h-7.05zM472.35 1170.30h7.05v2.6h-7.05zM542.85 1172.65h7.05v2.6h-7.05zM542.85 1175.00h9.40v2.6h-9.40zM542.85 1177.35h7.05v2.6h-7.05zM566.35 1179.70h7.05v2.6h-7.05zM566.35 1182.05h4.70v2.6h-4.70zM566.35 1184.40h4.70v2.6h-4.70zM547.55 1186.75h9.40v2.6h-9.40zM634.50 1198.50h4.70v2.6h-4.70zM681.50 1198.50h7.05v2.6h-7.05zM636.85 1200.85h7.05v2.6h-7.05zM639.20 1203.20h4.70v2.6h-4.70zM606.30 1205.55h4.70v2.6h-4.70zM606.30 1207.90h4.70v2.6h-4.70zM674.45 1207.90h4.70v2.6h-4.70zM674.45 1210.25h4.70v2.6h-4.70zM535.80 1212.60h2.35v2.6h-2.35zM697.95 1212.60h7.05v2.6h-7.05zM683.85 1219.65h4.70v2.6h-4.70zM686.20 1222.00h2.35v2.6h-2.35zM599.25 1226.70h4.70v2.6h-4.70zM599.25 1229.05h4.70v2.6h-4.70zM690.90 1247.85h7.05v2.6h-7.05zM681.50 1257.25h2.35v2.6h-2.35zM634.50 1269.00h4.70v2.6h-4.70zM667.40 1301.90h7.05v2.6h-7.05zM695.60 1311.30h4.70v2.6h-4.70zM695.60 1313.65h4.70v2.6h-4.70zM643.90 1318.35h4.70v2.6h-4.70zM643.90 1320.70h4.70v2.6h-4.70zM580.45 1344.20h2.35v2.6h-2.35zM686.20 1344.20h2.35v2.6h-2.35zM580.45 1346.55h2.35v2.6h-2.35zM592.20 1346.55h2.35v2.6h-2.35zM688.55 1346.55h2.35v2.6h-2.35zM587.50 1348.90h7.05v2.6h-7.05zM578.10 1351.25h16.45v2.6h-16.45zM578.10 1353.60h16.45v2.6h-16.45zM578.10 1355.95h11.75v2.6h-11.75zM580.45 1358.30h2.35v2.6h-2.35zM585.15 1358.30h2.35v2.6h-2.35zM639.20 1358.30h4.70v2.6h-4.70zM566.35 1365.35h7.05v2.6h-7.05zM547.55 1367.70h7.05v2.6h-7.05zM564.00 1367.70h9.40v2.6h-9.40zM575.75 1367.70h2.35v2.6h-2.35zM653.30 1367.70h2.35v2.6h-2.35zM547.55 1370.05h4.70v2.6h-4.70zM564.00 1370.05h14.10v2.6h-14.10zM653.30 1370.05h2.35v2.6h-2.35zM547.55 1372.40h11.75v2.6h-11.75zM566.35 1372.40h11.75v2.6h-11.75zM653.30 1372.40h2.35v2.6h-2.35zM547.55 1374.75h14.10v2.6h-14.10zM566.35 1374.75h11.75v2.6h-11.75zM549.90 1377.10h11.75v2.6h-11.75zM564.00 1377.10h2.35v2.6h-2.35zM568.70 1377.10h2.35v2.6h-2.35zM552.25 1379.45h9.40v2.6h-9.40zM564.00 1379.45h7.05v2.6h-7.05zM552.25 1381.80h9.40v2.6h-9.40zM554.60 1384.15h2.35v2.6h-2.35zM625.10 1393.55h2.35v2.6h-2.35zM693.25 1393.55h4.70v2.6h-4.70zM625.10 1395.90h2.35v2.6h-2.35zM695.60 1395.90h2.35v2.6h-2.35zM517.00 1398.25h4.70v2.6h-4.70zM531.10 1398.25h2.35v2.6h-2.35zM519.35 1400.60h2.35v2.6h-2.35zM531.10 1400.60h4.70v2.6h-4.70zM514.65 1402.95h2.35v2.6h-2.35zM519.35 1402.95h2.35v2.6h-2.35zM531.10 1402.95h4.70v2.6h-4.70zM514.65 1405.30h2.35v2.6h-2.35zM519.35 1405.30h2.35v2.6h-2.35zM573.40 1405.30h4.70v2.6h-4.70zM514.65 1407.65h7.05v2.6h-7.05zM575.75 1407.65h2.35v2.6h-2.35zM514.65 1410.00h9.40v2.6h-9.40zM514.65 1412.35h7.05v2.6h-7.05zM531.10 1412.35h7.05v2.6h-7.05zM514.65 1414.70h9.40v2.6h-9.40zM531.10 1414.70h7.05v2.6h-7.05zM514.65 1417.05h7.05v2.6h-7.05zM531.10 1417.05h7.05v2.6h-7.05zM514.65 1419.40h9.40v2.6h-9.40zM531.10 1419.40h7.05v2.6h-7.05zM531.10 1421.75h7.05v2.6h-7.05zM578.10 1424.10h4.70v2.6h-4.70zM578.10 1426.45h7.05v2.6h-7.05zM622.75 1426.45h2.35v2.6h-2.35zM549.90 1428.80h2.35v2.6h-2.35zM578.10 1428.80h21.15v2.6h-21.15zM625.10 1428.80h2.35v2.6h-2.35zM575.75 1431.15h9.40v2.6h-9.40zM587.50 1431.15h11.75v2.6h-11.75zM573.40 1433.50h4.70v2.6h-4.70zM582.80 1433.50h18.80v2.6h-18.80zM575.75 1435.85h25.85v2.6h-25.85zM571.05 1438.20h7.05v2.6h-7.05zM582.80 1438.20h18.80v2.6h-18.80zM571.05 1440.55h2.35v2.6h-2.35zM582.80 1440.55h14.10v2.6h-14.10zM599.25 1440.55h2.35v2.6h-2.35zM524.05 1442.90h4.70v2.6h-4.70zM571.05 1442.90h9.40v2.6h-9.40zM582.80 1442.90h18.80v2.6h-18.80zM521.70 1445.25h7.05v2.6h-7.05zM545.20 1445.25h4.70v2.6h-4.70zM578.10 1445.25h2.35v2.6h-2.35zM582.80 1445.25h9.40v2.6h-9.40zM594.55 1445.25h7.05v2.6h-7.05zM517.00 1447.60h11.75v2.6h-11.75zM582.80 1447.60h18.80v2.6h-18.80zM519.35 1449.95h7.05v2.6h-7.05zM582.80 1449.95h18.80v2.6h-18.80zM582.80 1452.30h18.80v2.6h-18.80zM582.80 1454.65h18.80v2.6h-18.80zM582.80 1457.00h7.05v2.6h-7.05zM594.55 1457.00h7.05v2.6h-7.05zM650.95 1457.00h7.05v2.6h-7.05zM493.50 1459.35h4.70v2.6h-4.70zM568.70 1459.35h4.70v2.6h-4.70zM585.15 1459.35h4.70v2.6h-4.70zM592.20 1459.35h7.05v2.6h-7.05zM648.60 1459.35h9.40v2.6h-9.40zM493.50 1461.70h4.70v2.6h-4.70zM566.35 1461.70h4.70v2.6h-4.70zM585.15 1461.70h4.70v2.6h-4.70zM594.55 1461.70h4.70v2.6h-4.70zM648.60 1461.70h2.35v2.6h-2.35zM653.30 1461.70h4.70v2.6h-4.70zM700.30 1461.70h2.35v2.6h-2.35zM566.35 1464.05h7.05v2.6h-7.05zM648.60 1464.05h9.40v2.6h-9.40zM702.65 1464.05h2.35v2.6h-2.35zM566.35 1466.40h7.05v2.6h-7.05zM653.30 1466.40h9.40v2.6h-9.40zM554.60 1468.75h4.70v2.6h-4.70zM650.95 1468.75h4.70v2.6h-4.70zM658.00 1468.75h7.05v2.6h-7.05zM740.25 1468.75h2.35v2.6h-2.35zM754.35 1468.75h7.05v2.6h-7.05zM535.80 1471.10h2.35v2.6h-2.35zM540.50 1471.10h2.35v2.6h-2.35zM556.95 1471.10h2.35v2.6h-2.35zM665.05 1471.10h2.35v2.6h-2.35zM712.05 1471.10h4.70v2.6h-4.70zM535.80 1473.45h7.05v2.6h-7.05zM599.25 1473.45h4.70v2.6h-4.70zM712.05 1473.45h4.70v2.6h-4.70zM744.95 1473.45h2.35v2.6h-2.35zM535.80 1475.80h7.05v2.6h-7.05zM599.25 1475.80h4.70v2.6h-4.70zM712.05 1475.80h4.70v2.6h-4.70zM744.95 1475.80h4.70v2.6h-4.70zM514.65 1478.15h7.05v2.6h-7.05zM554.60 1478.15h4.70v2.6h-4.70zM596.90 1478.15h4.70v2.6h-4.70zM700.30 1478.15h2.35v2.6h-2.35zM744.95 1478.15h4.70v2.6h-4.70zM780.20 1478.15h7.05v2.6h-7.05zM514.65 1480.50h7.05v2.6h-7.05zM554.60 1480.50h4.70v2.6h-4.70zM589.85 1480.50h4.70v2.6h-4.70zM599.25 1480.50h2.35v2.6h-2.35zM744.95 1480.50h2.35v2.6h-2.35zM763.75 1480.50h7.05v2.6h-7.05zM514.65 1482.85h4.70v2.6h-4.70zM549.90 1482.85h9.40v2.6h-9.40zM561.65 1482.85h4.70v2.6h-4.70zM599.25 1482.85h2.35v2.6h-2.35zM674.45 1482.85h2.35v2.6h-2.35zM693.25 1482.85h2.35v2.6h-2.35zM726.15 1482.85h4.70v2.6h-4.70zM763.75 1482.85h7.05v2.6h-7.05zM561.65 1485.20h2.35v2.6h-2.35zM596.90 1485.20h2.35v2.6h-2.35zM674.45 1485.20h4.70v2.6h-4.70zM686.20 1485.20h4.70v2.6h-4.70zM693.25 1485.20h2.35v2.6h-2.35zM709.70 1485.20h7.05v2.6h-7.05zM726.15 1485.20h4.70v2.6h-4.70zM763.75 1485.20h4.70v2.6h-4.70zM561.65 1487.55h2.35v2.6h-2.35zM653.30 1487.55h2.35v2.6h-2.35zM681.50 1487.55h7.05v2.6h-7.05zM770.80 1487.55h4.70v2.6h-4.70zM777.85 1487.55h7.05v2.6h-7.05zM648.60 1489.90h7.05v2.6h-7.05zM660.35 1489.90h2.35v2.6h-2.35zM679.15 1489.90h9.40v2.6h-9.40zM770.80 1489.90h4.70v2.6h-4.70zM780.20 1489.90h4.70v2.6h-4.70zM646.25 1492.25h9.40v2.6h-9.40zM658.00 1492.25h4.70v2.6h-4.70zM679.15 1492.25h4.70v2.6h-4.70zM770.80 1492.25h4.70v2.6h-4.70zM777.85 1492.25h7.05v2.6h-7.05zM648.60 1494.60h4.70v2.6h-4.70zM658.00 1494.60h4.70v2.6h-4.70zM773.15 1494.60h11.75v2.6h-11.75zM650.95 1496.95h2.35v2.6h-2.35zM773.15 1496.95h2.35v2.6h-2.35zM655.65 1499.30h7.05v2.6h-7.05zM655.65 1501.65h4.70v2.6h-4.70zM773.15 1506.35h2.35v2.6h-2.35zM538.15 1508.70h2.35v2.6h-2.35zM573.40 1508.70h2.35v2.6h-2.35zM575.75 1511.05h2.35v2.6h-2.35zM559.30 1515.75h9.40v2.6h-9.40zM545.20 1518.10h2.35v2.6h-2.35zM561.65 1518.10h9.40v2.6h-9.40zM547.55 1520.45h2.35v2.6h-2.35zM556.95 1520.45h11.75v2.6h-11.75zM571.05 1520.45h2.35v2.6h-2.35zM660.35 1520.45h2.35v2.6h-2.35zM742.60 1520.45h7.05v2.6h-7.05zM559.30 1522.80h9.40v2.6h-9.40zM559.30 1525.15h4.70v2.6h-4.70zM606.30 1525.15h2.35v2.6h-2.35zM559.30 1527.50h2.35v2.6h-2.35zM564.00 1527.50h2.35v2.6h-2.35zM533.45 1529.85h4.70v2.6h-4.70zM533.45 1532.20h4.70v2.6h-4.70zM667.40 1534.55h2.35v2.6h-2.35zM695.60 1534.55h4.70v2.6h-4.70zM556.95 1536.90h4.70v2.6h-4.70zM667.40 1536.90h2.35v2.6h-2.35zM695.60 1536.90h4.70v2.6h-4.70zM667.40 1539.25h2.35v2.6h-2.35zM843.65 1539.25h9.40v2.6h-9.40zM841.30 1541.60h9.40v2.6h-9.40zM855.40 1541.60h2.35v2.6h-2.35zM841.30 1543.95h9.40v2.6h-9.40zM855.40 1543.95h4.70v2.6h-4.70zM843.65 1546.30h7.05v2.6h-7.05zM853.05 1546.30h7.05v2.6h-7.05zM869.50 1546.30h7.05v2.6h-7.05zM843.65 1548.65h9.40v2.6h-9.40zM867.15 1548.65h7.05v2.6h-7.05zM571.05 1551.00h4.70v2.6h-4.70zM556.95 1562.75h2.35v2.6h-2.35zM561.65 1562.75h2.35v2.6h-2.35zM554.60 1565.10h9.40v2.6h-9.40zM554.60 1567.45h2.35v2.6h-2.35zM561.65 1567.45h4.70v2.6h-4.70zM552.25 1569.80h4.70v2.6h-4.70zM559.30 1569.80h2.35v2.6h-2.35zM580.45 1583.90h2.35v2.6h-2.35zM589.85 1595.65h4.70v2.6h-4.70zM589.85 1598.00h4.70v2.6h-4.70zM613.35 1600.35h2.35v2.6h-2.35zM672.10 1602.70h4.70v2.6h-4.70zM669.75 1605.05h11.75v2.6h-11.75zM603.95 1607.40h2.35v2.6h-2.35zM613.35 1607.40h9.40v2.6h-9.40zM629.80 1607.40h2.35v2.6h-2.35zM667.40 1607.40h16.45v2.6h-16.45zM603.95 1609.75h7.05v2.6h-7.05zM613.35 1609.75h9.40v2.6h-9.40zM629.80 1609.75h4.70v2.6h-4.70zM669.75 1609.75h7.05v2.6h-7.05zM679.15 1609.75h4.70v2.6h-4.70zM601.60 1612.10h21.15v2.6h-21.15zM625.10 1612.10h2.35v2.6h-2.35zM629.80 1612.10h7.05v2.6h-7.05zM669.75 1612.10h7.05v2.6h-7.05zM679.15 1612.10h4.70v2.6h-4.70zM599.25 1614.45h18.80v2.6h-18.80zM620.40 1614.45h9.40v2.6h-9.40zM632.15 1614.45h4.70v2.6h-4.70zM665.05 1614.45h2.35v2.6h-2.35zM599.25 1616.80h11.75v2.6h-11.75zM613.35 1616.80h23.50v2.6h-23.50zM667.40 1616.80h2.35v2.6h-2.35zM690.90 1616.80h7.05v2.6h-7.05zM606.30 1619.15h14.10v2.6h-14.10zM622.75 1619.15h7.05v2.6h-7.05zM688.55 1619.15h9.40v2.6h-9.40zM599.25 1621.50h2.35v2.6h-2.35zM611.00 1621.50h23.50v2.6h-23.50zM688.55 1621.50h9.40v2.6h-9.40zM599.25 1623.85h7.05v2.6h-7.05zM611.00 1623.85h7.05v2.6h-7.05zM620.40 1623.85h11.75v2.6h-11.75zM688.55 1623.85h9.40v2.6h-9.40zM601.60 1626.20h4.70v2.6h-4.70zM615.70 1626.20h7.05v2.6h-7.05zM625.10 1626.20h9.40v2.6h-9.40zM686.20 1626.20h7.05v2.6h-7.05zM603.95 1628.55h4.70v2.6h-4.70zM615.70 1628.55h7.05v2.6h-7.05zM625.10 1628.55h4.70v2.6h-4.70zM690.90 1628.55h2.35v2.6h-2.35zM606.30 1656.75h2.35v2.6h-2.35zM608.65 1659.10h2.35v2.6h-2.35zM599.25 1666.15h7.05v2.6h-7.05zM665.05 1677.90h7.05v2.6h-7.05zM662.70 1680.25h2.35v2.6h-2.35zM700.30 1680.25h2.35v2.6h-2.35zM618.05 1682.60h7.05v2.6h-7.05zM662.70 1682.60h2.35v2.6h-2.35zM662.70 1684.95h2.35v2.6h-2.35zM681.50 1684.95h2.35v2.6h-2.35zM676.80 1692.00h2.35v2.6h-2.35zM655.65 1696.70h2.35v2.6h-2.35zM592.20 1701.40h11.75v2.6h-11.75zM592.20 1703.75h11.75v2.6h-11.75zM606.30 1703.75h2.35v2.6h-2.35zM596.90 1706.10h2.35v2.6h-2.35zM589.85 1715.50h2.35v2.6h-2.35zM655.65 1715.50h2.35v2.6h-2.35zM655.65 1717.85h4.70v2.6h-4.70zM655.65 1720.20h2.35v2.6h-2.35zM648.60 1736.65h9.40v2.6h-9.40zM653.30 1739.00h2.35v2.6h-2.35zM615.70 1753.10h2.35v2.6h-2.35zM615.70 1755.45h2.35v2.6h-2.35zM714.40 1755.45h4.70v2.6h-4.70zM599.25 1757.80h4.70v2.6h-4.70zM615.70 1757.80h2.35v2.6h-2.35zM714.40 1757.80h4.70v2.6h-4.70zM599.25 1760.15h7.05v2.6h-7.05zM601.60 1762.50h7.05v2.6h-7.05zM618.05 1762.50h4.70v2.6h-4.70zM643.90 1762.50h2.35v2.6h-2.35zM571.05 1764.85h2.35v2.6h-2.35zM601.60 1764.85h7.05v2.6h-7.05zM643.90 1764.85h2.35v2.6h-2.35zM702.65 1764.85h7.05v2.6h-7.05zM573.40 1767.20h2.35v2.6h-2.35zM643.90 1767.20h2.35v2.6h-2.35zM702.65 1767.20h7.05v2.6h-7.05zM587.50 1769.55h2.35v2.6h-2.35zM643.90 1769.55h2.35v2.6h-2.35zM561.65 1776.60h2.35v2.6h-2.35zM618.05 1776.60h4.70v2.6h-4.70zM564.00 1778.95h2.35v2.6h-2.35zM601.60 1778.95h2.35v2.6h-2.35zM618.05 1778.95h4.70v2.6h-4.70zM618.05 1781.30h4.70v2.6h-4.70zM634.50 1781.30h18.80v2.6h-18.80zM728.50 1781.30h4.70v2.6h-4.70zM735.55 1781.30h2.35v2.6h-2.35zM634.50 1783.65h7.05v2.6h-7.05zM643.90 1783.65h7.05v2.6h-7.05zM636.85 1786.00h2.35v2.6h-2.35zM742.60 1786.00h4.70v2.6h-4.70zM742.60 1788.35h4.70v2.6h-4.70zM655.65 1790.70h7.05v2.6h-7.05zM653.30 1793.05h2.35v2.6h-2.35zM653.30 1795.40h2.35v2.6h-2.35zM606.30 1797.75h7.05v2.6h-7.05zM648.60 1797.75h4.70v2.6h-4.70zM648.60 1800.10h4.70v2.6h-4.70zM693.25 1804.80h2.35v2.6h-2.35zM566.35 1807.15h4.70v2.6h-4.70zM622.75 1807.15h2.35v2.6h-2.35zM681.50 1807.15h2.35v2.6h-2.35zM568.70 1809.50h2.35v2.6h-2.35zM681.50 1809.50h2.35v2.6h-2.35zM735.55 1816.55h2.35v2.6h-2.35zM561.65 1835.35h2.35v2.6h-2.35zM697.95 1835.35h2.35v2.6h-2.35zM702.65 1835.35h7.05v2.6h-7.05zM561.65 1837.70h2.35v2.6h-2.35zM587.50 1837.70h2.35v2.6h-2.35zM697.95 1837.70h2.35v2.6h-2.35zM587.50 1840.05h2.35v2.6h-2.35zM697.95 1840.05h2.35v2.6h-2.35zM582.80 1858.85h2.35v2.6h-2.35zM596.90 1858.85h2.35v2.6h-2.35zM582.80 1861.20h2.35v2.6h-2.35zM596.90 1861.20h2.35v2.6h-2.35zM582.80 1863.55h2.35v2.6h-2.35zM596.90 1863.55h2.35v2.6h-2.35z"/>
<clipPath id="ax"><rect x="202.5" y="467.3" width="1722.0" height="1465.9"/></clipPath>
<polygon clip-path="url(#ax)" points="202.4,981.9 215.8,973.6 235.1,994.3 279.4,957.0 306.4,1040.9 332.8,1050.7 363.0,1045.8 381.7,1024.4 394.0,968.5 406.8,953.4 457.4,948.2 502.3,914.2 562.8,931.6 585.7,926.6 646.4,867.1 704.4,856.2 737.0,836.6 772.3,744.2 796.7,736.0 820.0,762.3 838.2,756.3 838.2,646.3 909.0,559.0 991.2,568.3 1080.4,484.5 1136.8,511.7 1195.5,523.4 1209.5,513.1 1222.3,468.9 1232.3,468.2 1240.2,481.0 1237.0,524.8 1273.5,566.7 1260.7,659.2 1275.9,660.8 1296.4,638.2 1339.2,669.2 1376.0,677.1 1397.0,704.6 1396.5,754.6 1410.5,777.2 1474.5,771.4 1524.4,795.4 1551.2,853.6 1586.2,875.7 1614.1,876.2 1654.2,845.0 1734.1,840.8 1750.9,848.9 1759.7,899.0 1773.0,900.2 1814.9,861.0 1851.2,893.6 1915.1,922.3 1922.7,941.6 1897.1,981.2 1900.2,991.0 1863.4,1014.8 1849.4,1067.4 1855.2,1094.0 1838.4,1127.3 1848.7,1159.9 1830.7,1216.1 1841.9,1221.9 1844.0,1238.2 1826.1,1254.1 1807.5,1313.9 1817.2,1320.9 1822.1,1351.2 1800.5,1388.5 1760.2,1416.9 1796.5,1543.2 1779.2,1563.3 1718.5,1608.2 1649.1,1619.9 1614.8,1656.5 1600.5,1730.6 1584.5,1718.7 1586.8,1708.8 1561.0,1689.9 1550.1,1720.7 1532.5,1730.0 1503.0,1729.5 1495.7,1714.7 1474.3,1707.5 1455.4,1714.5 1449.7,1735.2 1415.2,1771.8 1369.1,1774.8 1326.0,1740.3 1279.0,1743.1 1258.3,1758.5 1200.0,1704.0 1211.1,1683.0 1183.7,1625.0 1146.0,1633.2 1126.2,1668.2 1052.3,1671.7 1007.9,1607.8 1008.9,1594.5 1039.3,1569.1 1014.7,1495.3 974.6,1441.7 953.7,1440.1 940.8,1445.9 946.7,1468.5 916.4,1487.6 904.7,1511.6 907.8,1543.0 880.5,1616.2 854.6,1621.3 835.7,1601.0 824.1,1614.1 828.7,1646.0 781.2,1619.9 739.8,1640.9 751.9,1738.4 766.5,1752.0 775.9,1789.2 743.9,1840.5 700.2,1881.7 678.0,1879.4 664.1,1854.4 651.7,1854.4 651.7,1885.9 630.3,1897.1 607.0,1933.0 597.5,1920.8 573.1,1926.2 579.3,1880.1 570.0,1862.6 528.1,1833.0 494.3,1768.3 499.0,1735.2 555.6,1632.0 576.3,1615.0 547.9,1595.9 471.0,1481.2 462.9,1427.4 512.5,1379.1 616.6,1333.3 620.8,1313.9 611.5,1289.5 537.0,1233.5 491.2,1173.0 406.1,1182.8 306.0,1217.0 283.9,1214.2 253.6,1191.6 228.0,1194.4 219.1,1110.6 204.5,1076.7" fill="none" stroke="#000" stroke-width="4.17" stroke-linejoin="miter" stroke-miterlimit="10"/>
<rect x="202.5" y="467.3" width="1722.0" height="1465.9" fill="none" stroke="#000" stroke-width="3.33" stroke-linejoin="miter"/>
<g stroke="#000" stroke-width="3.33"><line x1="283.3" y1="1933.2" x2="283.3" y2="1947.78"/><line x1="518.4" y1="1933.2" x2="518.4" y2="1947.78"/><line x1="753.5" y1="1933.2" x2="753.5" y2="1947.78"/><line x1="988.5999999999999" y1="1933.2" x2="988.5999999999999" y2="1947.78"/><line x1="1223.7" y1="1933.2" x2="1223.7" y2="1947.78"/><line x1="1458.8" y1="1933.2" x2="1458.8" y2="1947.78"/><line x1="1693.8999999999999" y1="1933.2" x2="1693.8999999999999" y2="1947.78"/><line x1="202.5" y1="602.4" x2="187.92" y2="602.4"/><line x1="202.5" y1="837.5" x2="187.92" y2="837.5"/><line x1="202.5" y1="1072.6" x2="187.92" y2="1072.6"/><line x1="202.5" y1="1307.6999999999998" x2="187.92" y2="1307.6999999999998"/><line x1="202.5" y1="1542.8" x2="187.92" y2="1542.8"/><line x1="202.5" y1="1777.9" x2="187.92" y2="1777.9"/></g>
<text x="283.3" y="1993" font-size="41.67" text-anchor="middle">3.769</text>
<text x="518.4" y="1993" font-size="41.67" text-anchor="middle">3.770</text>
<text x="753.5" y="1993" font-size="41.67" text-anchor="middle">3.771</text>
<text x="988.5999999999999" y="1993" font-size="41.67" text-anchor="middle">3.772</text>
<text x="1223.7" y="1993" font-size="41.67" text-anchor="middle">3.773</text>
<text x="1458.8" y="1993" font-size="41.67" text-anchor="middle">3.774</text>
<text x="1693.8999999999999" y="1993" font-size="41.67" text-anchor="middle">3.775</text>
<text transform="translate(164.9 630.1999999999999) rotate(-90)" font-size="41.67" text-anchor="middle">2.82</text>
<text transform="translate(164.9 865.3) rotate(-90)" font-size="41.67" text-anchor="middle">2.81</text>
<text transform="translate(164.9 1100.3999999999999) rotate(-90)" font-size="41.67" text-anchor="middle">2.80</text>
<text transform="translate(164.9 1335.4999999999998) rotate(-90)" font-size="41.67" text-anchor="middle">2.79</text>
<text transform="translate(164.9 1570.6) rotate(-90)" font-size="41.67" text-anchor="middle">2.78</text>
<text transform="translate(164.9 1805.7) rotate(-90)" font-size="41.67" text-anchor="middle">2.77</text>
<text x="201" y="455.2" font-size="41.67">1e6</text>
<text x="1924.5" y="2043.2" font-size="41.67" text-anchor="end">1e7</text>
<text x="1063.5" y="442.6" font-size="83.33" text-anchor="middle">Atmospheric input flux</text>
<text x="1063.5" y="2070.8" font-size="75" text-anchor="middle">Longitude</text>
<text transform="translate(108 1207.5) rotate(-90)" font-size="75" text-anchor="middle">Latitude</text>
<rect x="2032.7" y="507.5" width="91.29999999999995" height="231.48333333333335" fill="#650e5c"/>
<rect x="2032.7" y="738.4833333333333" width="91.29999999999995" height="231.48333333333335" fill="#d8174f"/>
<rect x="2032.7" y="969.4666666666667" width="91.29999999999995" height="231.48333333333335" fill="#ec67a3"/>
<rect x="2032.7" y="1200.45" width="91.29999999999995" height="231.48333333333335" fill="#fde855"/>
<rect x="2032.7" y="1431.4333333333334" width="91.29999999999995" height="231.48333333333335" fill="#74ee8a"/>
<rect x="2032.7" y="1662.4166666666667" width="91.29999999999995" height="231.48333333333335" fill="#17b493"/>
<rect x="2032.7" y="507.5" width="91.29999999999995" height="1385.9" fill="none" stroke="#000" stroke-width="3.33"/>
<text x="2153" y="637.8916666666667" font-size="41.67">4.5</text>
<text x="2153" y="868.875" font-size="41.67">2.2</text>
<text x="2153" y="1099.8583333333336" font-size="41.67">1.0</text>
<text x="2153" y="1330.8416666666667" font-size="41.67">0.6</text>
<text x="2153" y="1561.8250000000003" font-size="41.67">0.5</text>
<text x="2153" y="1792.8083333333334" font-size="41.67">0.2</text>
<g stroke="#000" stroke-width="3.33"><line x1="2124.0" y1="507.5" x2="2132.33" y2="507.5"/><line x1="2124.0" y1="738.4833333333333" x2="2132.33" y2="738.4833333333333"/><line x1="2124.0" y1="969.4666666666667" x2="2132.33" y2="969.4666666666667"/><line x1="2124.0" y1="1200.45" x2="2132.33" y2="1200.45"/><line x1="2124.0" y1="1431.4333333333334" x2="2132.33" y2="1431.4333333333334"/><line x1="2124.0" y1="1662.4166666666667" x2="2132.33" y2="1662.4166666666667"/><line x1="2124.0" y1="1893.4" x2="2132.33" y2="1893.4"/><line x1="2124.0" y1="622.9916666666667" x2="2138.58" y2="622.9916666666667"/><line x1="2124.0" y1="853.975" x2="2138.58" y2="853.975"/><line x1="2124.0" y1="1084.9583333333335" x2="2138.58" y2="1084.9583333333335"/><line x1="2124.0" y1="1315.9416666666666" x2="2138.58" y2="1315.9416666666666"/><line x1="2124.0" y1="1546.9250000000002" x2="2138.58" y2="1546.9250000000002"/><line x1="2124.0" y1="1777.9083333333333" x2="2138.58" y2="1777.9083333333333"/></g>
<text transform="translate(2257 1202.3) rotate(-90)" font-size="41.67" text-anchor="middle">Values</text>
</svg></body></html>
